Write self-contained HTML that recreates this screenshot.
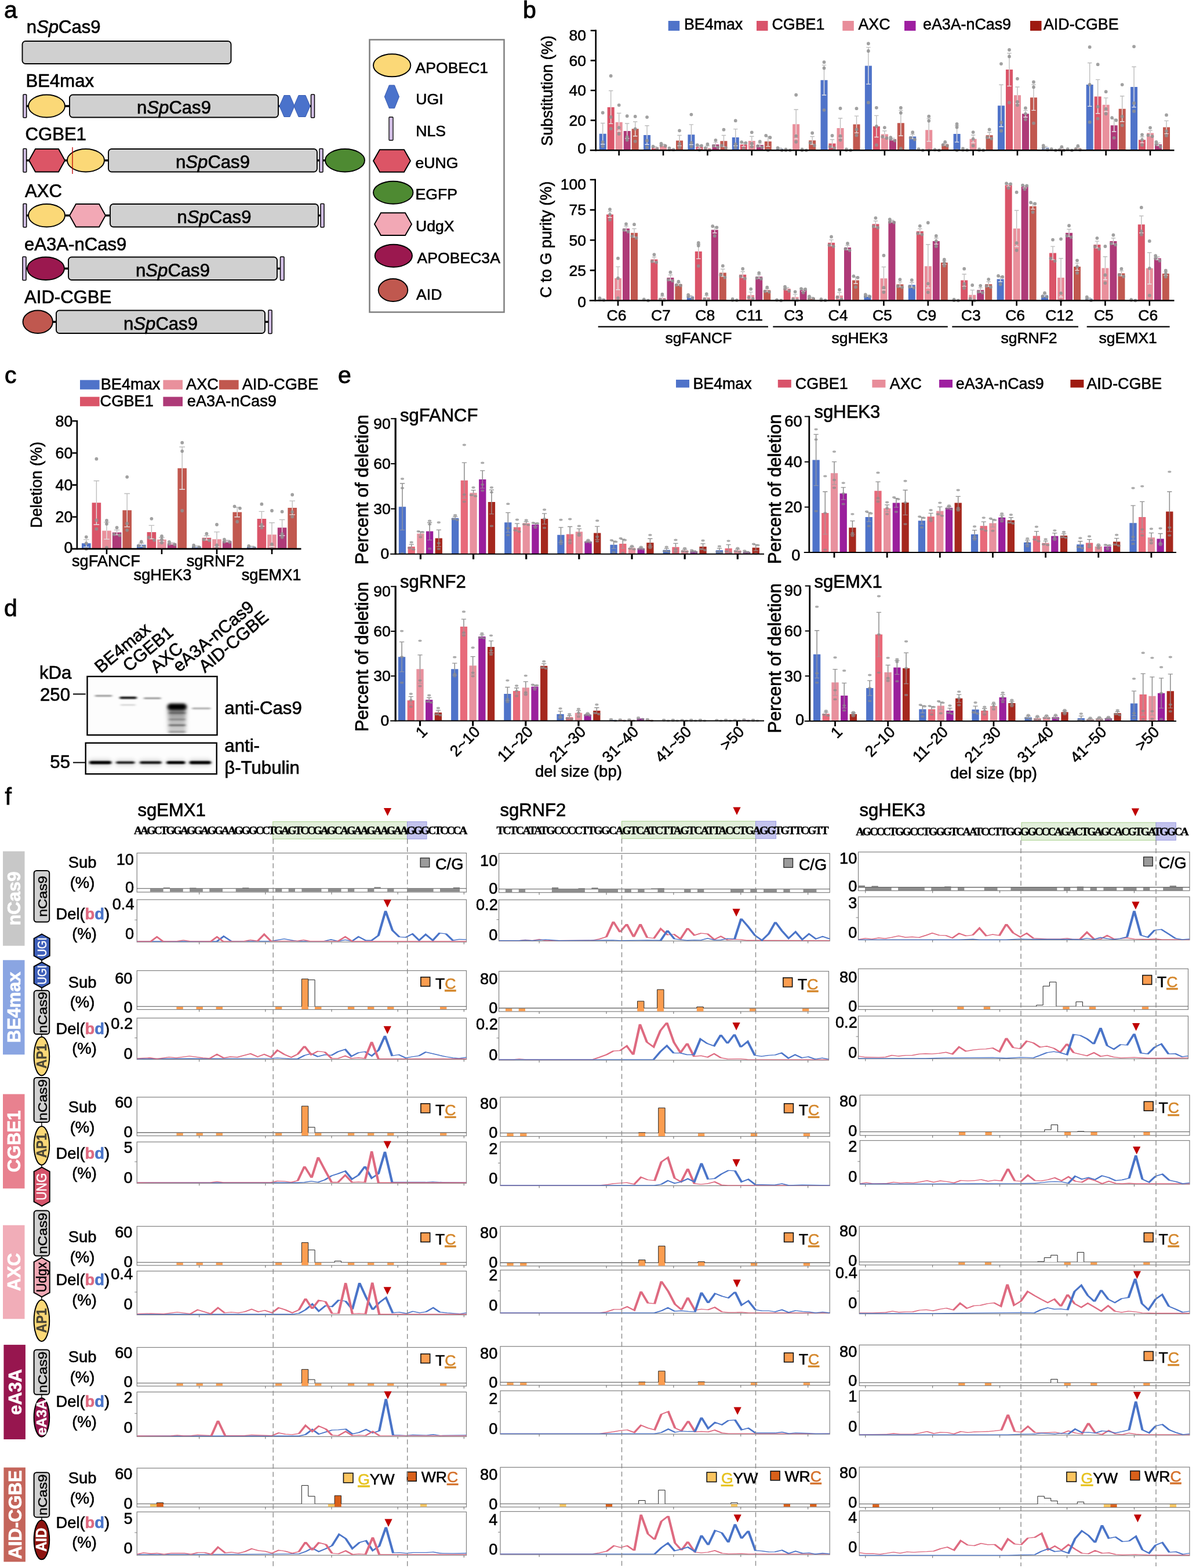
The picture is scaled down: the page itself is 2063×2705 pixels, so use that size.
<!DOCTYPE html>
<html lang="en"><head><meta charset="utf-8"><title>Figure</title>
<style>
html,body{margin:0;padding:0;background:#fff;}
body{width:2063px;height:2705px;overflow:hidden;}
svg{display:block;font-family:"Liberation Sans",Arial,Helvetica,sans-serif;}
</style></head><body>
<svg width="2063" height="2705" viewBox="0 0 2063 2705">
<defs><filter id="b1" x="-20%" y="-300%" width="140%" height="700%"><feGaussianBlur stdDeviation="2 1.2"/></filter>
<filter id="b2" x="-20%" y="-200%" width="140%" height="500%"><feGaussianBlur stdDeviation="2.6 2"/></filter>
<filter id="b3" x="-30%" y="-100%" width="160%" height="300%"><feGaussianBlur stdDeviation="3.5"/></filter>
<linearGradient id="smear" x1="0" y1="0" x2="0" y2="1"><stop offset="0" stop-color="#555" stop-opacity="0.85"/><stop offset="0.45" stop-color="#777" stop-opacity="0.5"/><stop offset="1" stop-color="#888" stop-opacity="0.35"/></linearGradient>
<clipPath id="cb1"><rect x="150.5" y="1167" width="224" height="101"/></clipPath>
<clipPath id="cb2"><rect x="147.7" y="1281.7" width="226" height="53.5"/></clipPath></defs>
<rect width="2063" height="2705" fill="#fff"/>
<text x="7" y="31.1" font-size="41" stroke="#000" stroke-width="0.9" >a</text>
<text x="45.7" y="57" font-size="31.1" stroke="#000" stroke-width="0.68" >n<tspan font-style="italic">Sp</tspan>Cas9</text>
<rect x="38.5" y="71" width="360" height="39" fill="#d0d0d0" stroke="#000" stroke-width="1.9" rx="5.5" />
<text x="44.5" y="150" font-size="31.1" stroke="#000" stroke-width="0.68" >BE4max</text>
<line x1="45" y1="183" x2="121" y2="183" stroke="#000" stroke-width="3.4" />
<line x1="480" y1="183" x2="537" y2="183" stroke="#000" stroke-width="3.4" />
<rect x="40" y="163" width="5.7" height="40" fill="#d2bfe5" stroke="#000" stroke-width="1.5" rx="1" />
<ellipse cx="80.5" cy="183" rx="31.5" ry="19.5" fill="#fbd877" stroke="#000" stroke-width="1.9"/>
<rect x="120" y="163.5" width="360" height="39" fill="#d0d0d0" stroke="#000" stroke-width="1.9" rx="5.5" />
<text x="300" y="196.2" font-size="31.1" text-anchor="middle" stroke="#000" stroke-width="0.68" >n<tspan font-style="italic">Sp</tspan>Cas9</text>
<polygon points="482,183 490,164.5 500,164.5 508,183 500,201.5 490,201.5" fill="#4a72cb" stroke="#3a5cb0" stroke-width="1" />
<polygon points="507,183 515,164.5 527,164.5 535,183 527,201.5 515,201.5" fill="#4a72cb" stroke="#3a5cb0" stroke-width="1" />
<rect x="536.5" y="163" width="6" height="40" fill="#d2bfe5" stroke="#000" stroke-width="1.5" rx="1" />
<text x="43.5" y="242" font-size="31.1" stroke="#000" stroke-width="0.68" >CGBE1</text>
<line x1="45" y1="276.75" x2="188" y2="276.75" stroke="#000" stroke-width="3.4" />
<line x1="547" y1="276.75" x2="563" y2="276.75" stroke="#000" stroke-width="3.4" />
<rect x="40" y="256.5" width="5.7" height="40.5" fill="#d2bfe5" stroke="#000" stroke-width="1.5" rx="1" />
<polygon points="50,276.75 61,257 101,257 112,276.75 101,296.5 61,296.5" fill="#dc5566" stroke="#000" stroke-width="1.9" />
<ellipse cx="148" cy="276.75" rx="32" ry="19.75" fill="#fbd877" stroke="#000" stroke-width="1.9"/>
<line x1="125" y1="254" x2="125" y2="300" stroke="#c00000" stroke-width="1.3" />
<rect x="187" y="257" width="360" height="39.5" fill="#d0d0d0" stroke="#000" stroke-width="1.9" rx="5.5" />
<text x="367" y="290.2" font-size="31.1" text-anchor="middle" stroke="#000" stroke-width="0.68" >n<tspan font-style="italic">Sp</tspan>Cas9</text>
<rect x="551" y="256.5" width="6" height="40.5" fill="#d2bfe5" stroke="#000" stroke-width="1.5" rx="1" />
<ellipse cx="595" cy="276.75" rx="34" ry="19.75" fill="#4e8a32" stroke="#000" stroke-width="1.9"/>
<text x="43" y="340" font-size="31.1" stroke="#000" stroke-width="0.68" >AXC</text>
<line x1="45" y1="371.75" x2="191" y2="371.75" stroke="#000" stroke-width="3.4" />
<line x1="549" y1="371.75" x2="555" y2="371.75" stroke="#000" stroke-width="3.4" />
<rect x="40" y="351.5" width="5.7" height="40.5" fill="#d2bfe5" stroke="#000" stroke-width="1.5" rx="1" />
<ellipse cx="80.5" cy="371.75" rx="31.5" ry="19.75" fill="#fbd877" stroke="#000" stroke-width="1.9"/>
<polygon points="120,371.75 131,352 171,352 182,371.75 171,391.5 131,391.5" fill="#f2a8b5" stroke="#000" stroke-width="1.9" />
<rect x="190" y="352" width="359" height="39.5" fill="#d0d0d0" stroke="#000" stroke-width="1.9" rx="5.5" />
<text x="369.5" y="385.2" font-size="31.1" text-anchor="middle" stroke="#000" stroke-width="0.68" >n<tspan font-style="italic">Sp</tspan>Cas9</text>
<rect x="553" y="351.5" width="6" height="40.5" fill="#d2bfe5" stroke="#000" stroke-width="1.5" rx="1" />
<text x="42" y="431.5" font-size="31.1" stroke="#000" stroke-width="0.68" >eA3A-nCas9</text>
<line x1="44" y1="463.25" x2="119" y2="463.25" stroke="#000" stroke-width="3.4" />
<line x1="478" y1="463.25" x2="485" y2="463.25" stroke="#000" stroke-width="3.4" />
<rect x="39" y="443" width="6" height="40.5" fill="#d2bfe5" stroke="#000" stroke-width="1.5" rx="1" />
<ellipse cx="79" cy="463.25" rx="32" ry="19.75" fill="#9b184f" stroke="#000" stroke-width="1.9"/>
<rect x="118" y="443.5" width="360" height="39.5" fill="#d0d0d0" stroke="#000" stroke-width="1.9" rx="5.5" />
<text x="298" y="476.7" font-size="31.1" text-anchor="middle" stroke="#000" stroke-width="0.68" >n<tspan font-style="italic">Sp</tspan>Cas9</text>
<rect x="483.5" y="443" width="6.5" height="40.5" fill="#d2bfe5" stroke="#000" stroke-width="1.5" rx="1" />
<text x="42" y="523" font-size="31.1" stroke="#000" stroke-width="0.68" >AID-CGBE</text>
<line x1="90" y1="555.25" x2="98" y2="555.25" stroke="#000" stroke-width="3.4" />
<line x1="457" y1="555.25" x2="465" y2="555.25" stroke="#000" stroke-width="3.4" />
<ellipse cx="65.25" cy="555.25" rx="25.75" ry="19.75" fill="#c0584f" stroke="#000" stroke-width="1.9"/>
<rect x="97" y="535.5" width="360" height="39.5" fill="#d0d0d0" stroke="#000" stroke-width="1.9" rx="5.5" />
<text x="277" y="568.7" font-size="31.1" text-anchor="middle" stroke="#000" stroke-width="0.68" >n<tspan font-style="italic">Sp</tspan>Cas9</text>
<rect x="463" y="535" width="6" height="40.5" fill="#d2bfe5" stroke="#000" stroke-width="1.5" rx="1" />
<rect x="637.5" y="68.5" width="232" height="470" fill="#fff" stroke="#7f7f7f" stroke-width="2.5" />
<ellipse cx="676.15" cy="112.8" rx="32.15" ry="19.5" fill="#fbd877" stroke="#000" stroke-width="1.9"/>
<text x="716.5" y="126" font-size="26.6" stroke="#000" stroke-width="0.59" >APOBEC1</text>
<polygon points="663.3,166.85 671.3,147 680.5,147 688.5,166.85 680.5,186.7 671.3,186.7" fill="#4a72cb" stroke="#3a5cb0" stroke-width="1" />
<text x="717.3" y="180" font-size="26.6" stroke="#000" stroke-width="0.59" >UGI</text>
<rect x="671" y="202" width="7" height="40" fill="#d2bfe5" stroke="#000" stroke-width="1.3" rx="1" />
<text x="717.3" y="235" font-size="26.6" stroke="#000" stroke-width="0.59" >NLS</text>
<polygon points="644,277.5 655,258.3 697,258.3 708,277.5 697,296.7 655,296.7" fill="#dc5566" stroke="#000" stroke-width="1.9" />
<text x="716.5" y="290" font-size="26.6" stroke="#000" stroke-width="0.59" >eUNG</text>
<ellipse cx="678.25" cy="332.2" rx="34.25" ry="19.5" fill="#4e8a32" stroke="#000" stroke-width="1.9"/>
<text x="716.5" y="344.3" font-size="26.6" stroke="#000" stroke-width="0.59" >EGFP</text>
<polygon points="646,386.65 657,367.3 699,367.3 710,386.65 699,406 657,406" fill="#f2a8b5" stroke="#000" stroke-width="1.9" />
<text x="717" y="399.3" font-size="26.6" stroke="#000" stroke-width="0.59" >UdgX</text>
<ellipse cx="678.85" cy="441.2" rx="32.15" ry="19.5" fill="#9b184f" stroke="#000" stroke-width="1.9"/>
<text x="719.5" y="454.3" font-size="26.6" stroke="#000" stroke-width="0.59" >APOBEC3A</text>
<ellipse cx="678" cy="500.5" rx="25.3" ry="19.5" fill="#c0584f" stroke="#000" stroke-width="1.9"/>
<text x="718" y="516.7" font-size="26.6" stroke="#000" stroke-width="0.59" >AID</text>
<text x="902" y="31" font-size="41" stroke="#000" stroke-width="0.9" >b</text>
<rect x="1152.7" y="36" width="19.5" height="17" fill="#4f73c9" />
<text x="1180" y="51.3" font-size="26.8" stroke="#000" stroke-width="0.59" >BE4max</text>
<rect x="1305" y="36" width="19.5" height="17" fill="#d9536a" />
<text x="1331.5" y="51.3" font-size="26.8" stroke="#000" stroke-width="0.59" >CGBE1</text>
<rect x="1453.3" y="36" width="19.5" height="17" fill="#e88d9a" />
<text x="1480.5" y="51.3" font-size="26.8" stroke="#000" stroke-width="0.59" >AXC</text>
<rect x="1560" y="36" width="19.5" height="17" fill="#9e1fa0" />
<text x="1592" y="51.3" font-size="26.8" stroke="#000" stroke-width="0.59" >eA3A-nCas9</text>
<rect x="1777" y="36" width="19.5" height="17" fill="#9e1a10" />
<text x="1800" y="51.3" font-size="26.8" stroke="#000" stroke-width="0.59" >AID-CGBE</text>
<path d="M1033.7 259.3v-28.67h12v28.67zM1110.06 259.3v-26.34h12v26.34zM1186.42 259.3v-27.12h12v27.12zM1262.78 259.3v-22.21h12v22.21zM1339.14 259.3v-2.58h12v2.58zM1415.5 259.3v-121.12h12v121.12zM1491.86 259.3v-145.91h12v145.91zM1568.22 259.3v-23.76h12v23.76zM1644.58 259.3v-28.41h12v28.41zM1720.94 259.3v-76.96h12v76.96zM1797.3 259.3v-4.65h12v4.65zM1873.66 259.3v-113.37h12v113.37zM1950.02 259.3v-109.24h12v109.24z" fill="#4f73c9"/>
<path d="M1047.7 259.3v-74.38h12v74.38zM1124.06 259.3v-5.17h12v5.17zM1200.42 259.3v-5.94h12v5.94zM1276.78 259.3v-10.07h12v10.07zM1353.14 259.3v-0.52h12v0.52zM1429.5 259.3v-11.88h12v11.88zM1505.86 259.3v-41.32h12v41.32zM1582.22 259.3v-1.29h12v1.29zM1658.58 259.3v-1.29h12v1.29zM1734.94 259.3v-139.2h12v139.2zM1811.3 259.3v-1.29h12v1.29zM1887.66 259.3v-92.71h12v92.71zM1964.02 259.3v-18.08h12v18.08z" fill="#da5468"/>
<path d="M1061.7 259.3v-48.55h12v48.55zM1138.06 259.3v-9.3h12v9.3zM1214.42 259.3v-3.87h12v3.87zM1290.78 259.3v-16.27h12v16.27zM1367.14 259.3v-44.94h12v44.94zM1443.5 259.3v-38.22h12v38.22zM1519.86 259.3v-27.89h12v27.89zM1596.22 259.3v-35.12h12v35.12zM1672.58 259.3v-19.63h12v19.63zM1748.94 259.3v-95.04h12v95.04zM1825.3 259.3v-2.07h12v2.07zM1901.66 259.3v-78.51h12v78.51zM1978.02 259.3v-29.7h12v29.7z" fill="#e9909c"/>
<path d="M1075.7 259.3v-33.31h12v33.31zM1152.06 259.3v-2.07h12v2.07zM1228.42 259.3v-10.07h12v10.07zM1304.78 259.3v-9.3h12v9.3zM1381.14 259.3v-0.52h12v0.52zM1457.5 259.3v-0.77h12v0.77zM1533.86 259.3v-19.37h12v19.37zM1610.22 259.3v-0.52h12v0.52zM1686.58 259.3v-0.77h12v0.77zM1762.94 259.3v-63.01h12v63.01zM1839.3 259.3v-1.29h12v1.29zM1915.66 259.3v-43.13h12v43.13zM1992.02 259.3v-10.33h12v10.33z" fill="#ae3a78"/>
<path d="M1089.7 259.3v-36.93h12v36.93zM1166.06 259.3v-16.79h12v16.79zM1242.42 259.3v-16.01h12v16.01zM1318.78 259.3v-15.24h12v15.24zM1395.14 259.3v-17.04h12v17.04zM1471.5 259.3v-44.68h12v44.68zM1547.86 259.3v-47h12v47zM1624.22 259.3v-10.59h12v10.59zM1700.58 259.3v-26.08h12v26.08zM1776.94 259.3v-91.16h12v91.16zM1853.3 259.3v-3.62h12v3.62zM1929.66 259.3v-71.54h12v71.54zM2006.02 259.3v-39.77h12v39.77z" fill="#c1584f"/>
<g fill="none" stroke="#bdbdbd"><path d="M1039.7 230.63V212.56M1053.7 184.92V156.52M1067.7 210.75V195.25M1081.7 225.99V213.07M1095.7 222.37V209.97M1116.06 232.96V216.69M1130.06 254.14V252.84M1144.06 250V248.71M1172.06 242.51V233.48M1192.42 232.18V214.88M1206.42 253.36V250.78M1220.42 255.43V251.55M1234.42 249.23V245.35M1248.42 243.29V233.48M1268.78 237.09V222.63M1282.78 249.23V245.87M1296.78 243.03V235.28M1310.78 250V246.9M1324.78 244.06V235.54M1345.14 256.72V255.43M1373.14 214.36V189.06M1401.14 242.26V235.54M1421.5 138.18V112.36M1435.5 247.42V240.71M1449.5 221.08V204.03M1477.5 214.62V200.16M1497.86 113.39V81.62M1511.86 217.98V199.39M1525.86 231.41V225.73M1539.86 239.93V238.38M1553.86 212.3V190.35M1574.22 235.54V231.67M1602.22 224.18V204.55M1630.22 248.71V246.65M1650.58 230.89V216.69M1678.58 239.67V232.96M1706.58 233.22V228.31M1726.94 182.34V146.19M1740.94 120.1V91.7M1754.94 164.26V150.06M1768.94 196.29V190.61M1782.94 168.14V145.93M1803.3 254.65V252.59M1831.3 257.23V255.17M1859.3 255.68V253.62M1879.66 145.93V108.48M1893.66 166.59V137.41M1907.66 180.79V168.91M1921.66 216.17V205.33M1935.66 187.76V165.81M1956.02 150.06V115.2M1970.02 241.22V236.06M1984.02 229.6V224.95M1998.02 248.97V246.65M2012.02 219.53V208.42" stroke-width="1.4"/><path d="M1035.98 212.56h7.44M1049.98 156.52h7.44M1063.98 195.25h7.44M1077.98 213.07h7.44M1091.98 209.97h7.44M1112.34 216.69h7.44M1126.34 252.84h7.44M1140.34 248.71h7.44M1168.34 233.48h7.44M1188.7 214.88h7.44M1202.7 250.78h7.44M1216.7 251.55h7.44M1230.7 245.35h7.44M1244.7 233.48h7.44M1265.06 222.63h7.44M1279.06 245.87h7.44M1293.06 235.28h7.44M1307.06 246.9h7.44M1321.06 235.54h7.44M1341.42 255.43h7.44M1369.42 189.06h7.44M1397.42 235.54h7.44M1417.78 112.36h7.44M1431.78 240.71h7.44M1445.78 204.03h7.44M1473.78 200.16h7.44M1494.14 81.62h7.44M1508.14 199.39h7.44M1522.14 225.73h7.44M1536.14 238.38h7.44M1550.14 190.35h7.44M1570.5 231.67h7.44M1598.5 204.55h7.44M1626.5 246.65h7.44M1646.86 216.69h7.44M1674.86 232.96h7.44M1702.86 228.31h7.44M1723.22 146.19h7.44M1737.22 91.7h7.44M1751.22 150.06h7.44M1765.22 190.61h7.44M1779.22 145.93h7.44M1799.58 252.59h7.44M1827.58 255.17h7.44M1855.58 253.62h7.44M1875.94 108.48h7.44M1889.94 137.41h7.44M1903.94 168.91h7.44M1917.94 205.33h7.44M1931.94 165.81h7.44M1952.3 115.2h7.44M1966.3 236.06h7.44M1980.3 224.95h7.44M1994.3 246.65h7.44M2008.3 208.42h7.44" stroke-width="1.4"/></g>
<g fill="none" stroke="#e4e4e4"><path d="M1039.7 230.63V248.71M1053.7 184.92V213.33M1067.7 210.75V226.24M1081.7 225.99V238.9M1095.7 222.37V234.77M1116.06 232.96V249.23M1130.06 254.14V255.43M1144.06 250V251.29M1172.06 242.51V251.55M1192.42 232.18V249.49M1206.42 253.36V255.94M1220.42 255.43V259.3M1234.42 249.23V253.1M1248.42 243.29V253.1M1268.78 237.09V251.55M1282.78 249.23V252.59M1296.78 243.03V250.78M1310.78 250V253.1M1324.78 244.06V252.59M1345.14 256.72V258.01M1373.14 214.36V239.67M1401.14 242.26V248.97M1421.5 138.18V164.01M1435.5 247.42V254.14M1449.5 221.08V238.12M1477.5 214.62V229.08M1497.86 113.39V145.15M1511.86 217.98V236.57M1525.86 231.41V237.09M1539.86 239.93V241.48M1553.86 212.3V234.25M1574.22 235.54V239.41M1602.22 224.18V243.81M1630.22 248.71V250.78M1650.58 230.89V245.1M1678.58 239.67V246.39M1706.58 233.22V238.12M1726.94 182.34V218.5M1740.94 120.1V148.51M1754.94 164.26V178.47M1768.94 196.29V201.97M1782.94 168.14V190.35M1803.3 254.65V256.72M1831.3 257.23V259.3M1859.3 255.68V257.75M1879.66 145.93V183.37M1893.66 166.59V195.77M1907.66 180.79V192.67M1921.66 216.17V227.02M1935.66 187.76V209.72M1956.02 150.06V184.92M1970.02 241.22V246.39M1984.02 229.6V234.25M1998.02 248.97V251.29M2012.02 219.53V230.63" stroke-width="1.4"/><path d="M1035.98 248.71h7.44M1049.98 213.33h7.44M1063.98 226.24h7.44M1077.98 238.9h7.44M1091.98 234.77h7.44M1112.34 249.23h7.44M1126.34 255.43h7.44M1140.34 251.29h7.44M1168.34 251.55h7.44M1188.7 249.49h7.44M1202.7 255.94h7.44M1216.7 259.3h7.44M1230.7 253.1h7.44M1244.7 253.1h7.44M1265.06 251.55h7.44M1279.06 252.59h7.44M1293.06 250.78h7.44M1307.06 253.1h7.44M1321.06 252.59h7.44M1341.42 258.01h7.44M1369.42 239.67h7.44M1397.42 248.97h7.44M1417.78 164.01h7.44M1431.78 254.14h7.44M1445.78 238.12h7.44M1473.78 229.08h7.44M1494.14 145.15h7.44M1508.14 236.57h7.44M1522.14 237.09h7.44M1536.14 241.48h7.44M1550.14 234.25h7.44M1570.5 239.41h7.44M1598.5 243.81h7.44M1626.5 250.78h7.44M1646.86 245.1h7.44M1674.86 246.39h7.44M1702.86 238.12h7.44M1723.22 218.5h7.44M1737.22 148.51h7.44M1751.22 178.47h7.44M1765.22 201.97h7.44M1779.22 190.35h7.44M1799.58 256.72h7.44M1827.58 259.3h7.44M1855.58 257.75h7.44M1875.94 183.37h7.44M1889.94 195.77h7.44M1903.94 192.67h7.44M1917.94 227.02h7.44M1931.94 209.72h7.44M1952.3 184.92h7.44M1966.3 246.39h7.44M1980.3 234.25h7.44M1994.3 251.29h7.44M2008.3 230.63h7.44" stroke-width="1.4"/></g>
<path d="M1039.7 194.48h0M1039.7 245.1h0M1039.7 252.33h0M1053.7 130.95h0M1053.7 201.97h0M1053.7 221.85h0M1067.7 181.31h0M1067.7 220.05h0M1067.7 230.89h0M1081.7 200.16h0M1081.7 236.32h0M1081.7 241.48h0M1095.7 200.93h0M1095.7 222.37h0M1095.7 243.82h0M1116.06 202.05h0M1116.06 242.72h0M1116.06 254.11h0M1133.66 256.72h0M1126.46 253.1h0M1126.46 252.59h0M1140.46 247.55h0M1140.46 250.78h0M1147.66 251.68h0M1154.46 255.68h0M1154.46 257.85h0M1161.66 258.16h0M1172.06 225.34h0M1172.06 247.94h0M1172.06 254.26h0M1192.42 197.58h0M1192.42 246.03h0M1192.42 252.95h0M1206.42 258.53h0M1210.02 251.29h0M1202.82 250.26h0M1220.42 248.72h0M1216.82 255.43h0M1224.02 259.3h0M1234.42 241.87h0M1230.82 251.55h0M1238.02 254.26h0M1248.42 223.66h0M1244.82 251.14h0M1252.02 255.06h0M1268.78 208.17h0M1268.78 248.66h0M1268.78 254.44h0M1282.78 255.94h0M1286.38 246.54h0M1279.18 245.2h0M1296.78 228.31h0M1296.78 247.68h0M1296.78 253.1h0M1310.78 244.11h0M1307.18 251.86h0M1314.38 254.03h0M1324.78 259.3h0M1328.38 237.25h0M1321.18 233.84h0M1348.74 259.3h0M1341.54 255.68h0M1341.54 255.17h0M1355.54 257.58h0M1355.54 259.26h0M1362.74 259.3h0M1373.14 163.75h0M1373.14 234.61h0M1373.14 244.73h0M1383.54 257.58h0M1383.54 259.26h0M1390.74 259.3h0M1401.14 229.5h0M1397.54 246.28h0M1404.74 250.98h0M1421.5 189.83h0M1421.5 117.52h0M1421.5 107.19h0M1435.5 233.99h0M1431.9 252.79h0M1439.1 255.48h0M1449.5 186.99h0M1449.5 234.71h0M1449.5 241.53h0M1459.9 257.33h0M1459.9 259.01h0M1467.1 259.25h0M1477.5 187.14h0M1477.5 223.3h0M1477.5 233.42h0M1497.86 176.92h0M1497.86 87.98h0M1497.86 75.27h0M1511.86 185.81h0M1511.86 217.98h0M1511.86 250.15h0M1525.86 220.05h0M1522.26 235.95h0M1529.46 238.23h0M1536.26 237.25h0M1536.26 239.93h0M1543.46 242.61h0M1553.86 256.2h0M1553.86 194.74h0M1553.86 185.96h0M1574.22 228.18h0M1570.62 237.87h0M1577.82 240.58h0M1591.82 259.3h0M1584.62 257.39h0M1584.62 257.08h0M1602.22 259.3h0M1602.22 208.48h0M1602.22 200.63h0M1619.82 259.3h0M1612.62 258.3h0M1612.62 258.06h0M1630.22 244.79h0M1626.62 249.95h0M1633.82 251.4h0M1650.58 259.3h0M1650.58 219.53h0M1650.58 213.85h0M1660.98 256.46h0M1660.98 258.63h0M1668.18 258.94h0M1678.58 228.06h0M1678.58 239.67h0M1678.58 251.29h0M1688.98 257.33h0M1688.98 259.01h0M1696.18 259.25h0M1706.58 223.4h0M1702.98 237.14h0M1710.18 239.1h0M1726.94 110.03h0M1726.94 211.27h0M1726.94 225.73h0M1740.94 176.92h0M1740.94 97.38h0M1740.94 86.01h0M1754.94 135.86h0M1754.94 175.63h0M1754.94 181.31h0M1768.94 186.46h0M1768.94 196.29h0M1768.94 206.12h0M1782.94 212.56h0M1782.94 150.37h0M1782.94 141.49h0M1799.7 251.08h0M1799.7 254.65h0M1806.9 258.23h0M1820.9 259.3h0M1813.7 257.39h0M1813.7 257.08h0M1831.3 253.31h0M1827.7 258.47h0M1834.9 259.3h0M1848.9 259.3h0M1841.7 257.39h0M1841.7 257.08h0M1859.3 251.76h0M1855.7 256.92h0M1862.9 258.37h0M1879.66 81.15h0M1879.66 145.93h0M1879.66 210.71h0M1893.66 111.14h0M1893.66 184.1h0M1893.66 204.53h0M1907.66 158.22h0M1907.66 187.92h0M1907.66 196.24h0M1921.66 237.87h0M1925.26 207.5h0M1918.06 203.16h0M1935.66 146.06h0M1935.66 200.94h0M1935.66 216.3h0M1956.02 80.33h0M1956.02 177.95h0M1956.02 191.9h0M1970.02 232.29h0M1970.02 241.22h0M1970.02 250.16h0M1984.02 220.3h0M1980.42 233.32h0M1987.62 235.18h0M1994.42 244.95h0M1994.42 248.97h0M2001.62 252.99h0M2012.02 198.43h0M2012.02 226.19h0M2012.02 233.97h0" stroke="#909090" stroke-opacity="0.85" stroke-width="5.8" stroke-linecap="round" fill="none"/>
<line x1="1027.7" y1="51.4" x2="1027.7" y2="260.6" stroke="#000" stroke-width="2.6" />
<line x1="1017.7" y1="259.3" x2="2025.5" y2="259.3" stroke="#000" stroke-width="2.6" />
<text x="1011" y="265.1" font-size="26.5" text-anchor="end" stroke="#000" stroke-width="0.58" >0</text>
<text x="1011" y="216.95" font-size="26.5" text-anchor="end" stroke="#000" stroke-width="0.58" >20</text>
<text x="1011" y="165.3" font-size="26.5" text-anchor="end" stroke="#000" stroke-width="0.58" >40</text>
<text x="1011" y="113.65" font-size="26.5" text-anchor="end" stroke="#000" stroke-width="0.58" >60</text>
<text x="1011" y="69.7" font-size="26.5" text-anchor="end" stroke="#000" stroke-width="0.58" >80</text>
<path d="M1018.7 207.65H1027.7M1018.7 156H1027.7M1018.7 104.35H1027.7M1018.7 52.7H1027.7" stroke="#000" stroke-width="2.6" fill="none"/>
<path d="M1067.7 259.3v9M1144.06 259.3v9M1220.42 259.3v9M1296.78 259.3v9M1373.14 259.3v9M1449.5 259.3v9M1525.86 259.3v9M1602.22 259.3v9M1678.58 259.3v9M1754.94 259.3v9M1831.3 259.3v9M1907.66 259.3v9M1984.02 259.3v9" stroke="#000" stroke-width="2.6" fill="none"/>
<text x="952.5" y="156.5" font-size="27" text-anchor="middle" transform="rotate(-90 952.5 156.5)" stroke="#000" stroke-width="0.59" >Substitution (%)</text>
<path d="M1032 518.5v-2.08h12v2.08zM1108.4 518.5v-1.25h12v1.25zM1184.8 518.5v-6.88h12v6.88zM1261.2 518.5v-1.25h12v1.25zM1337.6 518.5v-0.42h12v0.42zM1414 518.5v-1.04h12v1.04zM1490.4 518.5v-8.34h12v8.34zM1566.8 518.5v-27.11h12v27.11zM1643.2 518.5v-0.63h12v0.63zM1719.6 518.5v-37.11h12v37.11zM1796 518.5v-8.97h12v8.97zM1872.4 518.5v-3.13h12v3.13zM1948.8 518.5v-0.63h12v0.63z" fill="#4f73c9"/>
<path d="M1046 518.5v-148.45h12v148.45zM1122.4 518.5v-70.89h12v70.89zM1198.8 518.5v-84.65h12v84.65zM1275.2 518.5v-44.83h12v44.83zM1351.6 518.5v-20.22h12v20.22zM1428 518.5v-99.66h12v99.66zM1504.4 518.5v-131.98h12v131.98zM1580.8 518.5v-119.47h12v119.47zM1657.2 518.5v-35.03h12v35.03zM1733.6 518.5v-199.12h12v199.12zM1810 518.5v-81.94h12v81.94zM1886.4 518.5v-96.54h12v96.54zM1962.8 518.5v-131.35h12v131.35z" fill="#da5468"/>
<path d="M1060 518.5v-38.57h12v38.57zM1136.4 518.5v-4.59h12v4.59zM1212.8 518.5v-5.21h12v5.21zM1289.2 518.5v-9.38h12v9.38zM1365.6 518.5v-6.05h12v6.05zM1442 518.5v-8.76h12v8.76zM1518.4 518.5v-38.16h12v38.16zM1594.8 518.5v-59.21h12v59.21zM1671.2 518.5v-9.8h12v9.8zM1747.6 518.5v-124.27h12v124.27zM1824 518.5v-39.41h12v39.41zM1900.4 518.5v-55.88h12v55.88zM1976.8 518.5v-55.67h12v55.67z" fill="#e9909c"/>
<path d="M1074 518.5v-124.27h12v124.27zM1150.4 518.5v-39.62h12v39.62zM1226.8 518.5v-121.97h12v121.97zM1303.2 518.5v-41.28h12v41.28zM1379.6 518.5v-17.93h12v17.93zM1456 518.5v-91.53h12v91.53zM1532.4 518.5v-136.78h12v136.78zM1608.8 518.5v-102.58h12v102.58zM1685.2 518.5v-18.14h12v18.14zM1761.6 518.5v-196.41h12v196.41zM1838 518.5v-116.76h12v116.76zM1914.4 518.5v-102.58h12v102.58zM1990.8 518.5v-72.97h12v72.97z" fill="#ae3a78"/>
<path d="M1088 518.5v-116.76h12v116.76zM1164.4 518.5v-28.56h12v28.56zM1240.8 518.5v-47.95h12v47.95zM1317.2 518.5v-17.93h12v17.93zM1393.6 518.5v-4.59h12v4.59zM1470 518.5v-35.03h12v35.03zM1546.4 518.5v-27.94h12v27.94zM1622.8 518.5v-65.47h12v65.47zM1699.2 518.5v-28.36h12v28.36zM1775.6 518.5v-162.84h12v162.84zM1852 518.5v-58.38h12v58.38zM1928.4 518.5v-46.91h12v46.91zM2004.8 518.5v-46.5h12v46.5z" fill="#c1584f"/>
<g fill="none" stroke="#bdbdbd"><path d="M1038 516.41V515.37M1052 370.05V364.84M1066 479.93V460.12M1080 394.23V390.06M1094 401.74V394.44M1128.4 447.61V443.44M1142.4 513.91V510.79M1156.4 478.88V474.3M1170.4 489.94V487.85M1190.8 511.62V509.95M1204.8 433.85V421.34M1218.8 513.29V510.16M1232.8 396.53V391.31M1246.8 470.55V464.29M1281.2 473.67V468.46M1295.2 509.12V503.9M1309.2 477.22V474.09M1323.2 500.57V498.07M1357.6 498.28V496.19M1371.6 512.45V507.87M1385.6 500.57V498.48M1399.6 513.91V512.66M1434 418.84V413.62M1448 509.74V504.53M1462 426.97V423.22M1476 483.47V477.63M1496.4 510.16V509.12M1510.4 386.52V381.31M1524.4 480.34V460.54M1538.4 381.72V380.06M1552.4 490.56V486.39M1572.8 491.39V487.23M1586.8 399.03V394.44M1600.8 459.29V421.76M1614.8 415.92V410.71M1628.8 453.03V449.9M1663.2 483.47V473.05M1677.2 508.7V500.36M1691.2 500.36V496.61M1705.2 490.14V485.97M1725.6 481.39V476.8M1739.6 319.38V316.88M1753.6 394.23V362.96M1767.6 322.09V320.01M1781.6 355.66V350.45M1802 509.53V507.45M1816 436.56V425.09M1830 479.09V445.73M1844 401.74V395.49M1858 460.12V453.87M1878.4 515.37V513.7M1892.4 421.96V416.13M1906.4 462.62V442.81M1920.4 415.92V410.71M1934.4 471.59V467.42M1968.8 387.14V372.55M1982.8 462.83V435.73M1996.8 445.52V443.02M2010.8 472V468.88" stroke-width="1.4"/><path d="M1034.28 515.37h7.44M1048.28 364.84h7.44M1062.28 460.12h7.44M1076.28 390.06h7.44M1090.28 394.44h7.44M1124.68 443.44h7.44M1138.68 510.79h7.44M1152.68 474.3h7.44M1166.68 487.85h7.44M1187.08 509.95h7.44M1201.08 421.34h7.44M1215.08 510.16h7.44M1229.08 391.31h7.44M1243.08 464.29h7.44M1277.48 468.46h7.44M1291.48 503.9h7.44M1305.48 474.09h7.44M1319.48 498.07h7.44M1353.88 496.19h7.44M1367.88 507.87h7.44M1381.88 498.48h7.44M1395.88 512.66h7.44M1430.28 413.62h7.44M1444.28 504.53h7.44M1458.28 423.22h7.44M1472.28 477.63h7.44M1492.68 509.12h7.44M1506.68 381.31h7.44M1520.68 460.54h7.44M1534.68 380.06h7.44M1548.68 486.39h7.44M1569.08 487.23h7.44M1583.08 394.44h7.44M1597.08 421.76h7.44M1611.08 410.71h7.44M1625.08 449.9h7.44M1659.48 473.05h7.44M1673.48 500.36h7.44M1687.48 496.61h7.44M1701.48 485.97h7.44M1721.88 476.8h7.44M1735.88 316.88h7.44M1749.88 362.96h7.44M1763.88 320.01h7.44M1777.88 350.45h7.44M1798.28 507.45h7.44M1812.28 425.09h7.44M1826.28 445.73h7.44M1840.28 395.49h7.44M1854.28 453.87h7.44M1874.68 513.7h7.44M1888.68 416.13h7.44M1902.68 442.81h7.44M1916.68 410.71h7.44M1930.68 467.42h7.44M1965.08 372.55h7.44M1979.08 435.73h7.44M1993.08 443.02h7.44M2007.08 468.88h7.44" stroke-width="1.4"/></g>
<g fill="none" stroke="#e4e4e4"><path d="M1038 516.41V517.46M1052 370.05V375.26M1066 479.93V499.74M1080 394.23V398.4M1094 401.74V409.04M1128.4 447.61V451.78M1142.4 513.91V517.04M1156.4 478.88V483.47M1170.4 489.94V492.02M1190.8 511.62V513.29M1204.8 433.85V446.36M1218.8 513.29V516.41M1232.8 396.53V401.74M1246.8 470.55V476.8M1281.2 473.67V478.88M1295.2 509.12V514.33M1309.2 477.22V480.34M1323.2 500.57V503.07M1357.6 498.28V500.36M1371.6 512.45V517.04M1385.6 500.57V502.65M1399.6 513.91V515.16M1434 418.84V424.05M1448 509.74V514.96M1462 426.97V430.72M1476 483.47V489.31M1496.4 510.16V511.2M1510.4 386.52V391.73M1524.4 480.34V500.15M1538.4 381.72V383.39M1552.4 490.56V494.73M1572.8 491.39V495.56M1586.8 399.03V403.62M1600.8 459.29V496.82M1614.8 415.92V421.13M1628.8 453.03V456.16M1663.2 483.47V493.9M1677.2 508.7V517.04M1691.2 500.36V504.11M1705.2 490.14V494.31M1725.6 481.39V485.97M1739.6 319.38V321.88M1753.6 394.23V425.51M1767.6 322.09V324.18M1781.6 355.66V360.87M1802 509.53V511.62M1816 436.56V448.03M1830 479.09V512.45M1844 401.74V408M1858 460.12V466.38M1878.4 515.37V517.04M1892.4 421.96V427.8M1906.4 462.62V482.43M1920.4 415.92V421.13M1934.4 471.59V475.76M1968.8 387.14V401.74M1982.8 462.83V489.94M1996.8 445.52V448.03M2010.8 472V475.13" stroke-width="1.4"/><path d="M1034.28 517.46h7.44M1048.28 375.26h7.44M1062.28 499.74h7.44M1076.28 398.4h7.44M1090.28 409.04h7.44M1124.68 451.78h7.44M1138.68 517.04h7.44M1152.68 483.47h7.44M1166.68 492.02h7.44M1187.08 513.29h7.44M1201.08 446.36h7.44M1215.08 516.41h7.44M1229.08 401.74h7.44M1243.08 476.8h7.44M1277.48 478.88h7.44M1291.48 514.33h7.44M1305.48 480.34h7.44M1319.48 503.07h7.44M1353.88 500.36h7.44M1367.88 517.04h7.44M1381.88 502.65h7.44M1395.88 515.16h7.44M1430.28 424.05h7.44M1444.28 514.96h7.44M1458.28 430.72h7.44M1472.28 489.31h7.44M1492.68 511.2h7.44M1506.68 391.73h7.44M1520.68 500.15h7.44M1534.68 383.39h7.44M1548.68 494.73h7.44M1569.08 495.56h7.44M1583.08 403.62h7.44M1597.08 496.82h7.44M1611.08 421.13h7.44M1625.08 456.16h7.44M1659.48 493.9h7.44M1673.48 517.04h7.44M1687.48 504.11h7.44M1701.48 494.31h7.44M1721.88 485.97h7.44M1735.88 321.88h7.44M1749.88 425.51h7.44M1763.88 324.18h7.44M1777.88 360.87h7.44M1798.28 511.62h7.44M1812.28 448.03h7.44M1826.28 512.45h7.44M1840.28 408h7.44M1854.28 466.38h7.44M1874.68 517.04h7.44M1888.68 427.8h7.44M1902.68 482.43h7.44M1916.68 421.13h7.44M1930.68 475.76h7.44M1965.08 401.74h7.44M1979.08 489.94h7.44M1993.08 448.03h7.44M2007.08 475.13h7.44" stroke-width="1.4"/></g>
<path d="M1034.4 514.43h0M1034.4 517.04h0M1041.6 517.77h0M1052 361.03h0M1052 370.05h0M1052 379.07h0M1066 445.66h0M1066 479.93h0M1066 514.19h0M1080 386.31h0M1076.4 396.74h0M1083.6 399.65h0M1094 387.14h0M1090.4 407.58h0M1097.6 410.5h0M1118 518.5h0M1110.8 516.75h0M1110.8 516.5h0M1128.4 439.27h0M1124.8 450.95h0M1132 452.61h0M1142.4 507.66h0M1138.8 516.41h0M1146 517.67h0M1156.4 469.71h0M1152.8 482.55h0M1160 484.39h0M1170.4 485.77h0M1166.8 491.6h0M1174 492.44h0M1187.2 508.73h0M1187.2 511.62h0M1194.4 514.51h0M1204.8 458.87h0M1204.8 423.84h0M1204.8 418.84h0M1218.8 507.03h0M1215.2 515.79h0M1222.4 517.04h0M1232.8 406.95h0M1236.4 392.36h0M1229.2 390.27h0M1246.8 458.66h0M1243.2 474.3h0M1250.4 478.68h0M1263.6 516h0M1263.6 517.75h0M1270.8 518h0M1281.2 463.77h0M1277.6 476.8h0M1284.8 480.45h0M1295.2 498.69h0M1291.6 513.29h0M1298.8 515.37h0M1309.2 470.96h0M1305.6 479.72h0M1312.8 480.97h0M1323.2 495.56h0M1319.6 502.57h0M1326.8 503.57h0M1347.2 518.5h0M1340 517.6h0M1340 517.36h0M1354 494.67h0M1354 498.28h0M1361.2 501.88h0M1371.6 503.28h0M1368 516.12h0M1375.2 517.96h0M1385.6 504.74h0M1389.2 498.9h0M1382 498.07h0M1396 511.41h0M1396 514.91h0M1403.2 515.41h0M1416.4 516.21h0M1416.4 517.96h0M1423.6 518.21h0M1434 408.41h0M1430.4 423.01h0M1437.6 425.09h0M1448 499.84h0M1444.4 512.87h0M1451.6 516.52h0M1462 419.84h0M1458.4 429.22h0M1465.6 431.85h0M1476 495.15h0M1479.6 478.8h0M1472.4 476.47h0M1492.8 508.07h0M1492.8 510.99h0M1500 511.41h0M1510.4 376.09h0M1506.8 390.69h0M1514 392.77h0M1524.4 440.73h0M1524.4 496.19h0M1524.4 504.11h0M1534.8 378.39h0M1534.8 383.06h0M1542 383.73h0M1552.4 482.22h0M1548.8 493.9h0M1556 495.56h0M1572.8 483.06h0M1569.2 494.73h0M1576.4 496.4h0M1586.8 389.86h0M1583.2 402.7h0M1590.4 404.53h0M1600.8 384.23h0M1600.8 489.31h0M1600.8 504.32h0M1614.8 406.9h0M1614.8 415.92h0M1614.8 424.94h0M1628.8 447.62h0M1628.8 453.03h0M1628.8 458.44h0M1645.6 516.67h0M1645.6 518.35h0M1652.8 518.5h0M1663.2 463.66h0M1663.2 489.73h0M1663.2 497.02h0M1677.2 492.02h0M1673.6 515.37h0M1680.8 518.5h0M1691.2 492.85h0M1687.6 503.36h0M1694.8 504.86h0M1705.2 481.8h0M1701.6 493.48h0M1708.8 495.15h0M1725.6 490.56h0M1729.2 477.72h0M1722 475.88h0M1739.6 324.39h0M1743.2 317.38h0M1736 316.38h0M1753.6 331.68h0M1753.6 419.25h0M1753.6 431.76h0M1767.6 326.26h0M1771.2 320.43h0M1764 319.59h0M1781.6 366.09h0M1785.2 351.49h0M1778 349.41h0M1802 505.36h0M1798.4 511.2h0M1805.6 512.04h0M1816 413.62h0M1812.4 445.73h0M1819.6 450.32h0M1830 412.37h0M1830 505.78h0M1830 518.5h0M1844 389.23h0M1840.4 406.74h0M1847.6 409.25h0M1858 449.3h0M1858 460.12h0M1858 470.94h0M1874.8 512.49h0M1874.8 515.37h0M1882 518.26h0M1892.4 410.87h0M1888.8 425.47h0M1896 429.55h0M1906.4 424.99h0M1906.4 474.51h0M1906.4 488.37h0M1920.4 405.49h0M1916.8 420.09h0M1924 422.17h0M1934.4 463.66h0M1930.8 474.09h0M1938 477.01h0M1951.2 516.84h0M1951.2 517.87h0M1958.4 518.5h0M1968.8 357.96h0M1968.8 398.82h0M1968.8 404.66h0M1982.8 415.94h0M1982.8 462.83h0M1982.8 509.72h0M1993.2 441.2h0M1993.2 445.52h0M2000.4 449.85h0M2010.8 466.59h0M2010.8 472h0M2010.8 477.42h0" stroke="#909090" stroke-opacity="0.85" stroke-width="5.8" stroke-linecap="round" fill="none"/>
<line x1="1026.7" y1="308.7" x2="1026.7" y2="519.8" stroke="#000" stroke-width="2.6" />
<line x1="1016.7" y1="518.5" x2="2025.5" y2="518.5" stroke="#000" stroke-width="2.6" />
<text x="1011" y="529.8" font-size="26.5" text-anchor="end" stroke="#000" stroke-width="0.58" >0</text>
<text x="1011" y="475.68" font-size="26.5" text-anchor="end" stroke="#000" stroke-width="0.58" >25</text>
<text x="1011" y="423.55" font-size="26.5" text-anchor="end" stroke="#000" stroke-width="0.58" >50</text>
<text x="1011" y="371.43" font-size="26.5" text-anchor="end" stroke="#000" stroke-width="0.58" >75</text>
<text x="1011" y="327" font-size="26.5" text-anchor="end" stroke="#000" stroke-width="0.58" >100</text>
<path d="M1017.7 466.38H1026.7M1017.7 414.25H1026.7M1017.7 362.12H1026.7M1017.7 310H1026.7" stroke="#000" stroke-width="2.6" fill="none"/>
<path d="M1066 518.5v9M1142.4 518.5v9M1218.8 518.5v9M1295.2 518.5v9M1371.6 518.5v9M1448 518.5v9M1524.4 518.5v9M1600.8 518.5v9M1677.2 518.5v9M1753.6 518.5v9M1830 518.5v9M1906.4 518.5v9M1982.8 518.5v9" stroke="#000" stroke-width="2.6" fill="none"/>
<text x="951.5" y="413.3" font-size="27" text-anchor="middle" transform="rotate(-90 951.5 413.3)" stroke="#000" stroke-width="0.59" >C to G purity (%)</text>
<text x="1063.5" y="553.3" font-size="26.5" text-anchor="middle" stroke="#000" stroke-width="0.58" >C6</text>
<text x="1139.9" y="553.3" font-size="26.5" text-anchor="middle" stroke="#000" stroke-width="0.58" >C7</text>
<text x="1216.3" y="553.3" font-size="26.5" text-anchor="middle" stroke="#000" stroke-width="0.58" >C8</text>
<text x="1292.7" y="553.3" font-size="26.5" text-anchor="middle" stroke="#000" stroke-width="0.58" >C11</text>
<text x="1369.1" y="553.3" font-size="26.5" text-anchor="middle" stroke="#000" stroke-width="0.58" >C3</text>
<text x="1445.5" y="553.3" font-size="26.5" text-anchor="middle" stroke="#000" stroke-width="0.58" >C4</text>
<text x="1521.9" y="553.3" font-size="26.5" text-anchor="middle" stroke="#000" stroke-width="0.58" >C5</text>
<text x="1598.3" y="553.3" font-size="26.5" text-anchor="middle" stroke="#000" stroke-width="0.58" >C9</text>
<text x="1674.7" y="553.3" font-size="26.5" text-anchor="middle" stroke="#000" stroke-width="0.58" >C3</text>
<text x="1751.1" y="553.3" font-size="26.5" text-anchor="middle" stroke="#000" stroke-width="0.58" >C6</text>
<text x="1827.5" y="553.3" font-size="26.5" text-anchor="middle" stroke="#000" stroke-width="0.58" >C12</text>
<text x="1903.9" y="553.3" font-size="26.5" text-anchor="middle" stroke="#000" stroke-width="0.58" >C5</text>
<text x="1980.3" y="553.3" font-size="26.5" text-anchor="middle" stroke="#000" stroke-width="0.58" >C6</text>
<line x1="1031.7" y1="563.7" x2="1325" y2="563.7" stroke="#000" stroke-width="2.2" />
<line x1="1333.3" y1="563.7" x2="1634.8" y2="563.7" stroke="#000" stroke-width="2.2" />
<line x1="1642.3" y1="563.7" x2="1860" y2="563.7" stroke="#000" stroke-width="2.2" />
<line x1="1874.7" y1="563.7" x2="2017.6" y2="563.7" stroke="#000" stroke-width="2.2" />
<text x="1205" y="592" font-size="26.5" text-anchor="middle" stroke="#000" stroke-width="0.58" >sgFANCF</text>
<text x="1483" y="592" font-size="26.5" text-anchor="middle" stroke="#000" stroke-width="0.58" >sgHEK3</text>
<text x="1775" y="592" font-size="26.5" text-anchor="middle" stroke="#000" stroke-width="0.58" >sgRNF2</text>
<text x="1945.6" y="592" font-size="26.5" text-anchor="middle" stroke="#000" stroke-width="0.58" >sgEMX1</text>
<text x="8" y="660.7" font-size="41" stroke="#000" stroke-width="0.9" >c</text>
<rect x="138" y="655.6" width="33.6" height="16.2" fill="#4f73c9" />
<text x="173.7" y="671.8" font-size="27.2" stroke="#000" stroke-width="0.6" >BE4max</text>
<rect x="281.4" y="655.6" width="33.6" height="16.2" fill="#e9909c" />
<text x="321" y="671.8" font-size="27.2" stroke="#000" stroke-width="0.6" >AXC</text>
<rect x="378" y="655.6" width="33.6" height="16.2" fill="#c1584f" />
<text x="417.7" y="671.8" font-size="27.2" stroke="#000" stroke-width="0.6" >AID-CGBE</text>
<rect x="138" y="684.6" width="33.6" height="16.2" fill="#da5468" />
<text x="172.6" y="700.8" font-size="27.2" stroke="#000" stroke-width="0.6" >CGBE1</text>
<rect x="281.4" y="684.6" width="33.6" height="16.2" fill="#ae3a78" />
<text x="322.8" y="700.8" font-size="27.2" stroke="#000" stroke-width="0.6" >eA3A-nCas9</text>
<path d="M141 946.9v-9.65h15.6v9.65zM236 946.9v-7.17h15.6v7.17zM331 946.9v-4.14h15.6v4.14zM426 946.9v-3.58h15.6v3.58z" fill="#4f73c9"/>
<path d="M158.6 946.9v-79.69h15.6v79.69zM253.6 946.9v-28.95h15.6v28.95zM348.6 946.9v-19.03h15.6v19.03zM443.6 946.9v-51.84h15.6v51.84z" fill="#da5468"/>
<path d="M176.2 946.9v-31.44h15.6v31.44zM271.2 946.9v-16.27h15.6v16.27zM366.2 946.9v-16.55h15.6v16.55zM461.2 946.9v-24.54h15.6v24.54z" fill="#e9909c"/>
<path d="M193.8 946.9v-28.4h15.6v28.4zM288.8 946.9v-9.38h15.6v9.38zM383.8 946.9v-13.51h15.6v13.51zM478.8 946.9v-36.67h15.6v36.67z" fill="#ae3a78"/>
<path d="M211.4 946.9v-66.73h15.6v66.73zM306.4 946.9v-139.25h15.6v139.25zM401.4 946.9v-63.42h15.6v63.42zM496.4 946.9v-70.87h15.6v70.87z" fill="#c1584f"/>
<g fill="none" stroke="#bdbdbd"><path d="M148.8 937.25V930.91M166.4 867.21V829.43M184 915.46V900.85M201.6 918.5V914.36M219.2 880.17V851.49M243.8 939.73V936.97M261.4 917.95V906.36M279 930.63V927.32M296.6 937.52V936.15M314.2 807.65V770.97M338.8 942.76V941.66M356.4 927.87V924.29M374 930.36V917.67M391.6 933.39V932.01M409.2 883.48V875.2M433.8 943.32V942.21M451.4 895.06V882.37M469 922.36V901.68M486.6 910.23V896.44M504.2 876.03V864.17" stroke-width="1.4"/><path d="M143.96 930.91h9.67M161.56 829.43h9.67M179.16 900.85h9.67M196.76 914.36h9.67M214.36 851.49h9.67M238.96 936.97h9.67M256.56 906.36h9.67M274.16 927.32h9.67M291.76 936.15h9.67M309.36 770.97h9.67M333.96 941.66h9.67M351.56 924.29h9.67M369.16 917.67h9.67M386.76 932.01h9.67M404.36 875.2h9.67M428.96 942.21h9.67M446.56 882.37h9.67M464.16 901.68h9.67M481.76 896.44h9.67M499.36 864.17h9.67" stroke-width="1.4"/></g>
<g fill="none" stroke="#e4e4e4"><path d="M148.8 937.25V943.59M166.4 867.21V904.99M184 915.46V930.08M201.6 918.5V922.63M219.2 880.17V908.85M243.8 939.73V942.49M261.4 917.95V929.53M279 930.63V933.94M296.6 937.52V938.9M314.2 807.65V844.32M338.8 942.76V943.87M356.4 927.87V931.46M374 930.36V943.04M391.6 933.39V934.77M409.2 883.48V891.75M433.8 943.32V944.42M451.4 895.06V907.74M469 922.36V943.04M486.6 910.23V924.01M504.2 876.03V887.89" stroke-width="1.4"/><path d="M143.96 943.59h9.67M161.56 904.99h9.67M179.16 930.08h9.67M196.76 922.63h9.67M214.36 908.85h9.67M238.96 942.49h9.67M256.56 929.53h9.67M274.16 933.94h9.67M291.76 938.9h9.67M309.36 844.32h9.67M333.96 943.87h9.67M351.56 931.46h9.67M369.16 943.04h9.67M386.76 934.77h9.67M404.36 891.75h9.67M428.96 944.42h9.67M446.56 907.74h9.67M464.16 943.04h9.67M481.76 924.01h9.67M499.36 887.89h9.67" stroke-width="1.4"/></g>
<path d="M148.8 926.28h0M148.8 937.25h0M148.8 946.9h0M166.4 791.65h0M166.4 897.43h0M166.4 912.54h0M184 944.69h0M184 903.77h0M184 897.93h0M201.6 910.23h0M196.92 921.81h0M206.28 923.46h0M219.2 822.81h0M219.2 903.11h0M219.2 914.58h0M243.8 934.49h0M239.12 941.38h0M248.48 943.32h0M261.4 894.78h0M256.72 927.21h0M266.08 931.84h0M279 924.91h0M279 930.63h0M279 936.36h0M291.92 934.9h0M291.92 938.35h0M301.28 939.32h0M314.2 881h0M314.2 778.31h0M314.2 763.64h0M334.12 940.67h0M334.12 943.43h0M343.48 944.2h0M356.4 920.7h0M351.72 930.74h0M361.08 932.17h0M374 904.99h0M374 940.5h0M374 945.58h0M386.92 930.63h0M386.92 934.49h0M396.28 935.04h0M409.2 900.02h0M413.88 876.86h0M404.52 873.55h0M438.48 945.52h0M429.12 942.43h0M429.12 941.99h0M451.4 869.69h0M451.4 905.21h0M451.4 910.28h0M469 881h0M469 938.9h0M469 946.9h0M486.6 882.65h0M486.6 921.26h0M486.6 926.77h0M504.2 853.5h0M504.2 883.15h0M504.2 891.45h0" stroke="#909090" stroke-opacity="0.85" stroke-width="5.8" stroke-linecap="round" fill="none"/>
<line x1="132.9" y1="725" x2="132.9" y2="948.2" stroke="#000" stroke-width="2.6" />
<line x1="123.9" y1="946.9" x2="519.5" y2="946.9" stroke="#000" stroke-width="2.6" />
<text x="125.3" y="954.2" font-size="26.8" text-anchor="end" stroke="#000" stroke-width="0.59" >0</text>
<text x="125.3" y="901.05" font-size="26.8" text-anchor="end" stroke="#000" stroke-width="0.59" >20</text>
<text x="125.3" y="845.9" font-size="26.8" text-anchor="end" stroke="#000" stroke-width="0.59" >40</text>
<text x="125.3" y="790.75" font-size="26.8" text-anchor="end" stroke="#000" stroke-width="0.59" >60</text>
<text x="125.3" y="735.6" font-size="26.8" text-anchor="end" stroke="#000" stroke-width="0.59" >80</text>
<path d="M124.9 891.75H132.9M124.9 836.6H132.9M124.9 781.45H132.9M124.9 726.3H132.9" stroke="#000" stroke-width="2.6" fill="none"/>
<path d="M184 946.9v9M279 946.9v9M374 946.9v9M469 946.9v9" stroke="#000" stroke-width="2.6" fill="none"/>
<text x="72" y="836.4" font-size="27" text-anchor="middle" transform="rotate(-90 72 836.4)" stroke="#000" stroke-width="0.59" >Deletion (%)</text>
<text x="124" y="977.3" font-size="27.2" stroke="#000" stroke-width="0.6" >sgFANCF</text>
<text x="230.6" y="1000.8" font-size="27.2" stroke="#000" stroke-width="0.6" >sgHEK3</text>
<text x="321.7" y="977.3" font-size="27.2" stroke="#000" stroke-width="0.6" >sgRNF2</text>
<text x="416.7" y="1000.8" font-size="27.2" stroke="#000" stroke-width="0.6" >sgEMX1</text>
<text x="7" y="1062.5" font-size="41" stroke="#000" stroke-width="0.9" >d</text>
<text x="68" y="1170.5" font-size="31.2" stroke="#000" stroke-width="0.69" >kDa</text>
<text x="121" y="1209.3" font-size="31.2" text-anchor="end" stroke="#000" stroke-width="0.69" >250</text>
<line x1="126" y1="1197.4" x2="147.7" y2="1197.4" stroke="#000" stroke-width="2" />
<text x="121" y="1325" font-size="31.2" text-anchor="end" stroke="#000" stroke-width="0.69" >55</text>
<line x1="126" y1="1315.5" x2="147.7" y2="1315.5" stroke="#000" stroke-width="2" />
<text x="387.3" y="1231.6" font-size="31.2" stroke="#000" stroke-width="0.69" >anti-Cas9</text>
<text x="387.3" y="1297.2" font-size="31.2" stroke="#000" stroke-width="0.69" >anti-</text>
<text x="387.3" y="1335.2" font-size="31.2" stroke="#000" stroke-width="0.69" >β-Tubulin</text>
<text x="174" y="1162" font-size="30.2" transform="rotate(-40 174 1162)" stroke="#000" stroke-width="0.66" >BE4max</text>
<text x="222.5" y="1160" font-size="30.2" transform="rotate(-40 222.5 1160)" stroke="#000" stroke-width="0.66" >CGEB1</text>
<text x="270" y="1162" font-size="30.2" transform="rotate(-40 270 1162)" stroke="#000" stroke-width="0.66" >AXC</text>
<text x="309" y="1160.5" font-size="30.2" transform="rotate(-40 309 1160.5)" stroke="#000" stroke-width="0.66" >eA3A-nCas9</text>
<text x="353.5" y="1161.5" font-size="30.2" transform="rotate(-40 353.5 1161.5)" stroke="#000" stroke-width="0.66" >AID-CGBE</text>
<g clip-path="url(#cb1)">
<rect x="150.5" y="1167" width="224" height="101" fill="#fdfdfd" />
<rect x="163.81" y="1198.93" width="29.46" height="2.8" rx="1.4" fill="#444" opacity="0.6" filter="url(#b1)"/>
<rect x="206.22" y="1201.65" width="29.76" height="4.2" rx="2.1" fill="#000" opacity="0.92" filter="url(#b1)"/>
<rect x="207.71" y="1215" width="26.04" height="2.2" rx="1.1" fill="#777" opacity="0.35" filter="url(#b1)"/>
<rect x="247.89" y="1203.24" width="29.76" height="2.8" rx="1.4" fill="#444" opacity="0.6" filter="url(#b1)"/>
<rect x="289.55" y="1219.52" width="31.25" height="47.62" fill="url(#smear)" filter="url(#b3)"/>
<rect x="288.81" y="1213.73" width="33.04" height="11" rx="5.5" fill="#000" opacity="1.0" filter="url(#b2)"/>
<rect x="291.04" y="1228.34" width="29.02" height="3.2" rx="1.6" fill="#222" opacity="0.45" filter="url(#b1)"/>
<rect x="291.04" y="1239.5" width="29.02" height="3.2" rx="1.6" fill="#222" opacity="0.3" filter="url(#b1)"/>
<rect x="291.04" y="1249.47" width="29.02" height="3.2" rx="1.6" fill="#222" opacity="0.5" filter="url(#b1)"/>
<rect x="291.04" y="1260.78" width="29.02" height="3.2" rx="1.6" fill="#222" opacity="0.3" filter="url(#b1)"/>
<rect x="331.22" y="1220.8" width="31.99" height="2.8" rx="1.4" fill="#555" opacity="0.55" filter="url(#b1)"/>
</g>
<rect x="150.5" y="1167" width="224" height="101" fill="none" stroke="#000" stroke-width="2.4" />
<g clip-path="url(#cb2)">
<rect x="147.7" y="1281.7" width="226" height="53.5" fill="#fdfdfd" />
<rect x="152.65" y="1309.31" width="40.92" height="12.4" rx="6.2" fill="#000" opacity="0.13" filter="url(#b3)"/>
<rect x="154.14" y="1312.81" width="37.95" height="5.4" rx="2.7" fill="#000" opacity="1" filter="url(#b1)"/>
<rect x="198.78" y="1310.01" width="34.97" height="11" rx="5.5" fill="#000" opacity="0.13" filter="url(#b3)"/>
<rect x="200.27" y="1313.51" width="31.99" height="4" rx="2" fill="#000" opacity="0.9" filter="url(#b1)"/>
<rect x="239.7" y="1309.81" width="40.18" height="11.4" rx="5.7" fill="#000" opacity="0.13" filter="url(#b3)"/>
<rect x="241.19" y="1313.31" width="37.2" height="4.4" rx="2.2" fill="#000" opacity="0.92" filter="url(#b1)"/>
<rect x="285.83" y="1309.41" width="34.97" height="12.2" rx="6.1" fill="#000" opacity="0.13" filter="url(#b3)"/>
<rect x="287.32" y="1312.91" width="31.99" height="5.2" rx="2.6" fill="#000" opacity="1" filter="url(#b1)"/>
<rect x="325.27" y="1309.31" width="40.18" height="12.4" rx="6.2" fill="#000" opacity="0.13" filter="url(#b3)"/>
<rect x="326.76" y="1312.81" width="37.2" height="5.4" rx="2.7" fill="#000" opacity="1" filter="url(#b1)"/>
</g>
<rect x="147.7" y="1281.7" width="226" height="53.5" fill="none" stroke="#000" stroke-width="2.4" />
<text x="583" y="660.5" font-size="41" stroke="#000" stroke-width="0.9" >e</text>
<rect x="1166" y="655" width="23" height="13.6" fill="#4f73c9" />
<text x="1195.4" y="671" font-size="26.8" stroke="#000" stroke-width="0.59" >BE4max</text>
<rect x="1341.8" y="655" width="23" height="13.6" fill="#d9536a" />
<text x="1371.8" y="671" font-size="26.8" stroke="#000" stroke-width="0.59" >CGBE1</text>
<rect x="1504.4" y="655" width="23" height="13.6" fill="#e88d9a" />
<text x="1534.8" y="671" font-size="26.8" stroke="#000" stroke-width="0.59" >AXC</text>
<rect x="1620" y="655" width="23" height="13.6" fill="#9e1fa0" />
<text x="1648.8" y="671" font-size="26.8" stroke="#000" stroke-width="0.59" >eA3A-nCas9</text>
<rect x="1846.4" y="655" width="23" height="13.6" fill="#9e1a10" />
<text x="1874.5" y="671" font-size="26.8" stroke="#000" stroke-width="0.59" >AID-CGBE</text>
<path d="M687.85 955.7v-81.47h12.3v81.47zM779 955.7v-62.01h12.3v62.01zM870.15 955.7v-54.48h12.3v54.48zM961.3 955.7v-32.95h12.3v32.95zM1052.45 955.7v-15.83h12.3v15.83zM1143.6 955.7v-7.01h12.3v7.01zM1234.75 955.7v-6.49h12.3v6.49z" fill="#4f73c9"/>
<path d="M703.55 955.7v-12.71h12.3v12.71zM794.7 955.7v-126.87h12.3v126.87zM885.85 955.7v-46.18h12.3v46.18zM977 955.7v-34.25h12.3v34.25zM1068.15 955.7v-17.64h12.3v17.64zM1159.3 955.7v-11.93h12.3v11.93zM1250.45 955.7v-9.6h12.3v9.6z" fill="#e86a7a"/>
<path d="M719.25 955.7v-35.28h12.3v35.28zM810.4 955.7v-105.33h12.3v105.33zM901.55 955.7v-53.19h12.3v53.19zM992.7 955.7v-38.4h12.3v38.4zM1083.85 955.7v-10.38h12.3v10.38zM1175 955.7v-6.23h12.3v6.23zM1266.15 955.7v-6.23h12.3v6.23z" fill="#e8919e"/>
<path d="M734.95 955.7v-39.18h12.3v39.18zM826.1 955.7v-128.68h12.3v128.68zM917.25 955.7v-50.59h12.3v50.59zM1008.4 955.7v-21.53h12.3v21.53zM1099.55 955.7v-9.6h12.3v9.6zM1190.7 955.7v-4.41h12.3v4.41zM1281.85 955.7v-3.37h12.3v3.37z" fill="#9a1f9c"/>
<path d="M750.65 955.7v-27.24h12.3v27.24zM841.8 955.7v-89.77h12.3v89.77zM932.95 955.7v-60.71h12.3v60.71zM1024.1 955.7v-36.32h12.3v36.32zM1115.25 955.7v-19.46h12.3v19.46zM1206.4 955.7v-12.71h12.3v12.71zM1297.55 955.7v-10.9h12.3v10.9z" fill="#a5281e"/>
<g fill="none" stroke="#929292"><path d="M694 874.23V834.02M709.7 942.99V939.1M725.4 920.42V917.3M741.1 916.52V901.48M756.8 928.46V914.19M785.15 893.69V891.1M800.85 828.83V798.22M816.55 850.37V845.7M832.25 827.02V811.97M847.95 865.93V845.18M876.3 901.22V884.35M892 909.52V903.03M907.7 902.51V899.92M923.4 905.11V902.51M939.1 894.99V885.91M967.45 922.75V909.78M983.15 921.45V908.48M998.85 917.3V912.11M1014.55 934.17V932.87M1030.25 919.38V908.22M1058.6 939.87V933.39M1074.3 938.06V930.27M1090 945.32V943.51M1105.7 946.1V944.8M1121.4 936.24V929.24M1149.75 948.7V946.1M1165.45 943.77V937.28M1181.15 949.47V947.66M1196.85 951.29V950.25M1212.55 942.99V937.8M1240.9 949.21V945.84M1256.6 946.1V939.61M1272.3 949.47V947.4M1288 952.33V951.29M1303.7 944.8V939.61" stroke-width="1.6"/><path d="M689.9 834.02h8.2M705.6 939.1h8.2M721.3 917.3h8.2M737 901.48h8.2M752.7 914.19h8.2M781.05 891.1h8.2M796.75 798.22h8.2M812.45 845.7h8.2M828.15 811.97h8.2M843.85 845.18h8.2M872.2 884.35h8.2M887.9 903.03h8.2M903.6 899.92h8.2M919.3 902.51h8.2M935 885.91h8.2M963.35 909.78h8.2M979.05 908.48h8.2M994.75 912.11h8.2M1010.45 932.87h8.2M1026.15 908.22h8.2M1054.5 933.39h8.2M1070.2 930.27h8.2M1085.9 943.51h8.2M1101.6 944.8h8.2M1117.3 929.24h8.2M1145.65 946.1h8.2M1161.35 937.28h8.2M1177.05 947.66h8.2M1192.75 950.25h8.2M1208.45 937.8h8.2M1236.8 945.84h8.2M1252.5 939.61h8.2M1268.2 947.4h8.2M1283.9 951.29h8.2M1299.6 939.61h8.2" stroke-width="1.3"/></g>
<g fill="none" stroke="rgba(160,160,160,0.7)"><path d="M694 874.23V914.45M709.7 942.99V946.88M725.4 920.42V923.53M741.1 916.52V931.57M756.8 928.46V942.73M785.15 893.69V896.29M800.85 828.83V859.45M816.55 850.37V855.04M832.25 827.02V842.06M847.95 865.93V886.69M876.3 901.22V918.08M892 909.52V916M907.7 902.51V905.11M923.4 905.11V907.7M939.1 894.99V904.07M967.45 922.75V935.72M983.15 921.45V934.43M998.85 917.3V922.49M1014.55 934.17V935.46M1030.25 919.38V930.53M1058.6 939.87V946.36M1074.3 938.06V945.84M1090 945.32V947.14M1105.7 946.1V947.4M1121.4 936.24V943.25M1149.75 948.7V951.29M1165.45 943.77V950.25M1181.15 949.47V951.29M1196.85 951.29V952.33M1212.55 942.99V948.18M1240.9 949.21V952.59M1256.6 946.1V952.59M1272.3 949.47V951.55M1288 952.33V953.37M1303.7 944.8V949.99" stroke-width="1.6"/><path d="M689.9 914.45h8.2M705.6 946.88h8.2M721.3 923.53h8.2M737 931.57h8.2M752.7 942.73h8.2M781.05 896.29h8.2M796.75 859.45h8.2M812.45 855.04h8.2M828.15 842.06h8.2M843.85 886.69h8.2M872.2 918.08h8.2M887.9 916h8.2M903.6 905.11h8.2M919.3 907.7h8.2M935 904.07h8.2M963.35 935.72h8.2M979.05 934.43h8.2M994.75 922.49h8.2M1010.45 935.46h8.2M1026.15 930.53h8.2M1054.5 946.36h8.2M1070.2 945.84h8.2M1085.9 947.14h8.2M1101.6 947.4h8.2M1117.3 943.25h8.2M1145.65 951.29h8.2M1161.35 950.25h8.2M1177.05 951.29h8.2M1192.75 952.33h8.2M1208.45 948.18h8.2M1236.8 952.59h8.2M1252.5 952.59h8.2M1268.2 951.55h8.2M1283.9 953.37h8.2M1299.6 949.99h8.2" stroke-width="1.3"/></g>
<path d="M694 1517.67h0M694 1338.66h0M694 1313.09h0M709.7 1487.35h0M706.01 1502.82h0M713.39 1507.15h0M725.4 1473.12h0M729.09 1459.27h0M721.71 1457.29h0M741.1 1504.88h0M741.1 1437.9h0M741.1 1428.33h0M756.8 1432.91h0M756.8 1489.62h0M756.8 1505.5h0M785.15 1412.91h0M781.46 1423.22h0M788.84 1426.1h0M800.85 1220.29h0M800.85 1356.57h0M800.85 1376.03h0M816.55 1337.01h0M812.86 1357.8h0M820.24 1360.77h0M832.25 1269.29h0M832.25 1329.1h0M832.25 1345.84h0M847.95 1442.6h0M847.95 1350.21h0M847.95 1337.01h0M876.3 1381.77h0M876.3 1448.79h0M876.3 1467.56h0M892 1425.28h0M888.31 1454.15h0M895.69 1458.28h0M907.7 1426.52h0M904.01 1438.07h0M911.39 1439.72h0M923.4 1447.14h0M927.09 1435.59h0M919.71 1433.94h0M939.1 1397.83h0M939.1 1422.8h0M939.1 1447.78h0M967.45 1425.69h0M967.45 1483.43h0M967.45 1491.68h0M983.15 1423.63h0M983.15 1481.37h0M983.15 1489.62h0M998.85 1442.6h0M998.85 1463.22h0M998.85 1469h0M1014.55 1480.96h0M1010.86 1486.73h0M1018.24 1487.56h0M1030.25 1427.88h0M1030.25 1472.22h0M1030.25 1484.63h0M1058.6 1514.78h0M1062.29 1485.91h0M1054.91 1481.78h0M1074.3 1516.02h0M1077.99 1481.37h0M1070.61 1476.42h0M1090 1497.33h0M1086.31 1504.55h0M1093.69 1506.57h0M1105.7 1499.93h0M1102.01 1505.71h0M1109.39 1506.53h0M1121.4 1467.23h0M1121.4 1495.07h0M1121.4 1502.86h0M1149.75 1499.93h0M1146.06 1511.48h0M1153.44 1513.13h0M1165.45 1480.75h0M1165.45 1506.53h0M1165.45 1513.75h0M1181.15 1503.64h0M1177.46 1511.73h0M1184.84 1512.88h0M1193.16 1509.01h0M1193.16 1513.63h0M1200.54 1514.29h0M1212.55 1482.61h0M1208.86 1505.71h0M1216.24 1509.01h0M1240.9 1498.28h0M1237.21 1513.3h0M1244.59 1515.44h0M1256.6 1483.43h0M1252.91 1512.31h0M1260.29 1516.43h0M1272.3 1503.15h0M1268.61 1511.4h0M1275.99 1513.71h0M1284.31 1510.66h0M1284.31 1515.28h0M1291.69 1515.94h0M1303.7 1518.49h0M1307.39 1495.4h0M1300.01 1492.1h0" stroke="#8a8a8a" stroke-opacity="0.7" stroke-width="6.2" stroke-linecap="round" fill="none" transform="scale(1 0.629)"/>
<line x1="682.2" y1="721.2" x2="682.2" y2="956.7" stroke="#000" stroke-width="3.2" />
<line x1="673.2" y1="955.7" x2="1318" y2="955.7" stroke="#000" stroke-width="2" />
<text x="671.2" y="964" font-size="26.5" text-anchor="end" stroke="#000" stroke-width="0.58" >0</text>
<text x="673.7" y="887.17" font-size="26.5" text-anchor="end" stroke="#000" stroke-width="0.58" >30</text>
<text x="673.7" y="809.33" font-size="26.5" text-anchor="end" stroke="#000" stroke-width="0.58" >60</text>
<text x="673.7" y="739.5" font-size="26.5" text-anchor="end" stroke="#000" stroke-width="0.58" >90</text>
<path d="M674.2 877.87H682.2M674.2 800.03H682.2M674.2 722.2H682.2" stroke="#000" stroke-width="2" fill="none"/>
<path d="M725.4 955.7v9M816.55 955.7v9M907.7 955.7v9M998.85 955.7v9M1090 955.7v9M1181.15 955.7v9M1272.3 955.7v9" stroke="#000" stroke-width="3.2" fill="none"/>
<text x="690" y="727" font-size="31" stroke="#000" stroke-width="0.68" >sgFANCF</text>
<text x="635" y="844.45" font-size="31" text-anchor="middle" transform="rotate(-90 635 844.45)" stroke="#000" stroke-width="0.68" >Percent of deletion</text>
<path d="M1401.45 952.9v-159.32h12.3v159.32zM1492.6 952.9v-60.92h12.3v60.92zM1583.75 952.9v-54.67h12.3v54.67zM1674.9 952.9v-31.24h12.3v31.24zM1766.05 952.9v-17.18h12.3v17.18zM1857.2 952.9v-13.67h12.3v13.67zM1948.35 952.9v-50.76h12.3v50.76z" fill="#4f73c9"/>
<path d="M1417.15 952.9v-67.95h12.3v67.95zM1508.3 952.9v-106.22h12.3v106.22zM1599.45 952.9v-61.7h12.3v61.7zM1690.6 952.9v-45.69h12.3v45.69zM1781.75 952.9v-28.51h12.3v28.51zM1872.9 952.9v-16.4h12.3v16.4zM1964.05 952.9v-60.92h12.3v60.92z" fill="#e86a7a"/>
<path d="M1432.85 952.9v-136.67h12.3v136.67zM1524 952.9v-76.15h12.3v76.15zM1615.15 952.9v-71.46h12.3v71.46zM1706.3 952.9v-50.37h12.3v50.37zM1797.45 952.9v-16.4h12.3v16.4zM1888.6 952.9v-10.15h12.3v10.15zM1979.75 952.9v-25.77h12.3v25.77z" fill="#e8919e"/>
<path d="M1448.55 952.9v-101.53h12.3v101.53zM1539.7 952.9v-85.52h12.3v85.52zM1630.85 952.9v-76.93h12.3v76.93zM1722 952.9v-60.14h12.3v60.14zM1813.15 952.9v-28.12h12.3v28.12zM1904.3 952.9v-10.15h12.3v10.15zM1995.45 952.9v-23.43h12.3v23.43z" fill="#9a1f9c"/>
<path d="M1464.25 952.9v-42.56h12.3v42.56zM1555.4 952.9v-85.91h12.3v85.91zM1646.55 952.9v-85.52h12.3v85.52zM1737.7 952.9v-55.45h12.3v55.45zM1828.85 952.9v-28.9h12.3v28.9zM1920 952.9v-18.35h12.3v18.35zM2011.15 952.9v-70.29h12.3v70.29z" fill="#a5281e"/>
<g fill="none" stroke="#929292"><path d="M1407.6 793.58V749.45M1423.3 884.95V848.25M1439 816.23V796.7M1454.7 851.37V840.83M1470.4 910.34V898.62M1498.75 891.98V884.17M1514.45 846.68V831.06M1530.15 876.75V870.89M1545.85 867.38V859.57M1561.55 866.99V845.51M1589.9 898.23V892.37M1605.6 891.2V885.34M1621.3 881.44V874.41M1637 875.97V874.02M1652.7 867.38V856.45M1681.05 921.66V914.63M1696.75 907.21V900.18M1712.45 902.53V895.89M1728.15 892.76V888.86M1743.85 897.45V892.76M1772.2 935.72V931.81M1787.9 924.39V916.58M1803.6 936.5V933.38M1819.3 924.78V919.71M1835 924V920.88M1863.35 939.23V933.77M1879.05 936.5V930.64M1894.75 942.75V940.79M1910.45 942.75V940.4M1926.15 934.55V928.69M1954.5 902.13V872.07M1970.2 891.98V865.43M1985.9 927.13V919.32M2001.6 929.47V920.49M2017.3 882.61V848.25" stroke-width="1.6"/><path d="M1403.5 749.45h8.2M1419.2 848.25h8.2M1434.9 796.7h8.2M1450.6 840.83h8.2M1466.3 898.62h8.2M1494.65 884.17h8.2M1510.35 831.06h8.2M1526.05 870.89h8.2M1541.75 859.57h8.2M1557.45 845.51h8.2M1585.8 892.37h8.2M1601.5 885.34h8.2M1617.2 874.41h8.2M1632.9 874.02h8.2M1648.6 856.45h8.2M1676.95 914.63h8.2M1692.65 900.18h8.2M1708.35 895.89h8.2M1724.05 888.86h8.2M1739.75 892.76h8.2M1768.1 931.81h8.2M1783.8 916.58h8.2M1799.5 933.38h8.2M1815.2 919.71h8.2M1830.9 920.88h8.2M1859.25 933.77h8.2M1874.95 930.64h8.2M1890.65 940.79h8.2M1906.35 940.4h8.2M1922.05 928.69h8.2M1950.4 872.07h8.2M1966.1 865.43h8.2M1981.8 919.32h8.2M1997.5 920.49h8.2M2013.2 848.25h8.2" stroke-width="1.3"/></g>
<g fill="none" stroke="rgba(160,160,160,0.7)"><path d="M1407.6 793.58V837.7M1423.3 884.95V921.66M1439 816.23V835.75M1454.7 851.37V861.91M1470.4 910.34V922.05M1498.75 891.98V899.79M1514.45 846.68V862.3M1530.15 876.75V882.61M1545.85 867.38V875.19M1561.55 866.99V888.47M1589.9 898.23V904.09M1605.6 891.2V897.06M1621.3 881.44V888.47M1637 875.97V877.92M1652.7 867.38V878.31M1681.05 921.66V928.69M1696.75 907.21V914.24M1712.45 902.53V909.16M1728.15 892.76V896.67M1743.85 897.45V902.13M1772.2 935.72V939.62M1787.9 924.39V932.2M1803.6 936.5V939.62M1819.3 924.78V929.86M1835 924V927.13M1863.35 939.23V944.7M1879.05 936.5V942.36M1894.75 942.75V944.7M1910.45 942.75V945.09M1926.15 934.55V940.4M1954.5 902.13V932.2M1970.2 891.98V918.54M1985.9 927.13V934.94M2001.6 929.47V938.45M2017.3 882.61V916.97" stroke-width="1.6"/><path d="M1403.5 837.7h8.2M1419.2 921.66h8.2M1434.9 835.75h8.2M1450.6 861.91h8.2M1466.3 922.05h8.2M1494.65 899.79h8.2M1510.35 862.3h8.2M1526.05 882.61h8.2M1541.75 875.19h8.2M1557.45 888.47h8.2M1585.8 904.09h8.2M1601.5 897.06h8.2M1617.2 888.47h8.2M1632.9 877.92h8.2M1648.6 878.31h8.2M1676.95 928.69h8.2M1692.65 914.24h8.2M1708.35 909.16h8.2M1724.05 896.67h8.2M1739.75 902.13h8.2M1768.1 939.62h8.2M1783.8 932.2h8.2M1799.5 939.62h8.2M1815.2 929.86h8.2M1830.9 927.13h8.2M1859.25 944.7h8.2M1874.95 942.36h8.2M1890.65 944.7h8.2M1906.35 945.09h8.2M1922.05 940.4h8.2M1950.4 932.2h8.2M1966.1 918.54h8.2M1981.8 934.94h8.2M1997.5 938.45h8.2M2013.2 916.97h8.2" stroke-width="1.3"/></g>
<path d="M1407.6 1401.88h0M1407.6 1205.46h0M1407.6 1177.4h0M1423.3 1305.89h0M1423.3 1406.85h0M1423.3 1507.8h0M1439 1238.61h0M1439 1316.21h0M1439 1337.94h0M1454.7 1324.46h0M1454.7 1353.46h0M1454.7 1382.46h0M1470.4 1409.95h0M1470.4 1462.1h0M1470.4 1469.55h0M1498.75 1442.85h0M1502.44 1408.09h0M1495.06 1403.12h0M1514.45 1296.35h0M1514.45 1365.88h0M1514.45 1375.81h0M1530.15 1377.7h0M1530.15 1393.81h0M1530.15 1409.92h0M1545.85 1403.74h0M1549.54 1368.98h0M1542.16 1364.01h0M1561.55 1319.22h0M1561.55 1378.29h0M1561.55 1437.36h0M1589.9 1446.58h0M1593.59 1420.51h0M1586.21 1416.78h0M1605.6 1399.09h0M1605.6 1422.37h0M1605.6 1428.89h0M1621.3 1378.91h0M1617.61 1410.2h0M1624.99 1414.67h0M1637 1386.67h0M1633.31 1394.43h0M1640.69 1396.61h0M1652.7 1344.15h0M1652.7 1392.82h0M1652.7 1399.77h0M1681.05 1443.97h0M1681.05 1471.91h0M1681.05 1479.73h0M1696.75 1419.89h0M1693.06 1451.17h0M1700.44 1455.64h0M1712.45 1455.89h0M1716.14 1426.34h0M1708.76 1422.12h0M1728.15 1408.52h0M1728.15 1419.26h0M1728.15 1430h0M1743.85 1411.81h0M1740.16 1432.67h0M1747.54 1435.65h0M1772.2 1476.81h0M1772.2 1487.55h0M1772.2 1498.29h0M1787.9 1444.72h0M1784.21 1479.48h0M1791.59 1484.45h0M1803.6 1478.86h0M1799.91 1492.77h0M1807.29 1494.75h0M1819.3 1454.84h0M1819.3 1475.01h0M1819.3 1480.66h0M1835 1459h0M1831.31 1472.9h0M1838.69 1474.89h0M1863.35 1475.76h0M1859.66 1500.09h0M1867.04 1503.57h0M1879.05 1471.1h0M1879.05 1494.38h0M1879.05 1500.9h0M1894.75 1493.36h0M1894.75 1498.73h0M1894.75 1504.1h0M1910.45 1506.18h0M1914.14 1495.75h0M1906.76 1494.26h0M1926.15 1467.07h0M1922.46 1493.14h0M1929.84 1496.86h0M1954.5 1338.56h0M1954.5 1472.4h0M1954.5 1491.52h0M1970.2 1333.59h0M1970.2 1451.79h0M1970.2 1468.68h0M1985.9 1450.3h0M1985.9 1481.34h0M1985.9 1490.03h0M2001.6 1449.06h0M2001.6 1489.04h0M2001.6 1494.75h0M2017.3 1293.86h0M2017.3 1446.83h0M2017.3 1468.68h0" stroke="#8a8a8a" stroke-opacity="0.7" stroke-width="6.2" stroke-linecap="round" fill="none" transform="scale(1 0.629)"/>
<line x1="1395.8" y1="717.6" x2="1395.8" y2="953.9" stroke="#000" stroke-width="2.8" />
<line x1="1386.8" y1="952.9" x2="2029" y2="952.9" stroke="#000" stroke-width="2" />
<text x="1380.5" y="966.8" font-size="27.3" text-anchor="end" stroke="#000" stroke-width="0.6" >0</text>
<text x="1383.6" y="884.1" font-size="27.3" text-anchor="end" stroke="#000" stroke-width="0.6" >20</text>
<text x="1383.6" y="806" font-size="27.3" text-anchor="end" stroke="#000" stroke-width="0.6" >40</text>
<text x="1383.6" y="735.9" font-size="27.3" text-anchor="end" stroke="#000" stroke-width="0.6" >60</text>
<path d="M1387.8 874.8H1395.8M1387.8 796.7H1395.8M1387.8 718.6H1395.8" stroke="#000" stroke-width="2" fill="none"/>
<path d="M1439 952.9v9M1530.15 952.9v9M1621.3 952.9v9M1712.45 952.9v9M1803.6 952.9v9M1894.75 952.9v9M1985.9 952.9v9" stroke="#000" stroke-width="2.8" fill="none"/>
<text x="1404.5" y="721" font-size="31" stroke="#000" stroke-width="0.68" >sgHEK3</text>
<text x="1347" y="843.75" font-size="31" text-anchor="middle" transform="rotate(-90 1347 843.75)" stroke="#000" stroke-width="0.68" >Percent of deletion</text>
<path d="M686.95 1243.4v-110.19h12.3v110.19zM778.1 1243.4v-89.08h12.3v89.08zM869.25 1243.4v-46.34h12.3v46.34zM960.4 1243.4v-11.33h12.3v11.33zM1051.55 1243.4v-1.29h12.3v1.29zM1142.7 1243.4v-0.51h12.3v0.51zM1233.85 1243.4v-0.51h12.3v0.51z" fill="#4f73c9"/>
<path d="M702.65 1243.4v-35.27h12.3v35.27zM793.8 1243.4v-162.45h12.3v162.45zM884.95 1243.4v-51.49h12.3v51.49zM976.1 1243.4v-6.18h12.3v6.18zM1067.25 1243.4v-1.29h12.3v1.29zM1158.4 1243.4v-0.51h12.3v0.51zM1249.55 1243.4v-0.51h12.3v0.51z" fill="#e86a7a"/>
<path d="M718.35 1243.4v-89.08h12.3v89.08zM809.5 1243.4v-95.25h12.3v95.25zM900.65 1243.4v-57.15h12.3v57.15zM991.8 1243.4v-13.64h12.3v13.64zM1082.95 1243.4v-1.29h12.3v1.29zM1174.1 1243.4v-0.51h12.3v0.51zM1265.25 1243.4v-0.51h12.3v0.51z" fill="#e8919e"/>
<path d="M734.05 1243.4v-36.04h12.3v36.04zM825.2 1243.4v-145.46h12.3v145.46zM916.35 1243.4v-58.95h12.3v58.95zM1007.5 1243.4v-10.56h12.3v10.56zM1098.65 1243.4v-3.86h12.3v3.86zM1189.8 1243.4v-0.51h12.3v0.51zM1280.95 1243.4v-1.03h12.3v1.03z" fill="#9a1f9c"/>
<path d="M749.75 1243.4v-14.16h12.3v14.16zM840.9 1243.4v-127.44h12.3v127.44zM932.05 1243.4v-94.74h12.3v94.74zM1023.2 1243.4v-17.51h12.3v17.51zM1114.35 1243.4v-1.29h12.3v1.29zM1205.5 1243.4v-0.51h12.3v0.51zM1296.65 1243.4v-0.51h12.3v0.51z" fill="#a5281e"/>
<g fill="none" stroke="#929292"><path d="M693.1 1133.21V1107.47M708.8 1208.13V1201.69M724.5 1154.32V1129.87M740.2 1207.36V1203.5M755.9 1229.24V1225.38M784.25 1154.32V1144.03M799.95 1080.95V1068.08M815.65 1148.15V1132.7M831.35 1097.94V1095.37M847.05 1115.97V1105.67M875.4 1197.06V1185.48M891.1 1191.91V1186.76M906.8 1186.25V1175.95M922.5 1184.45V1181.87M938.2 1148.66V1144.8M966.55 1232.07V1226.92M982.25 1237.22V1234.65M997.95 1229.76V1225.89M1013.65 1232.84V1231.56M1029.35 1225.89V1220.74" stroke-width="1.6"/><path d="M689 1107.47h8.2M704.7 1201.69h8.2M720.4 1129.87h8.2M736.1 1203.5h8.2M751.8 1225.38h8.2M780.15 1144.03h8.2M795.85 1068.08h8.2M811.55 1132.7h8.2M827.25 1095.37h8.2M842.95 1105.67h8.2M871.3 1185.48h8.2M887 1186.76h8.2M902.7 1175.95h8.2M918.4 1181.87h8.2M934.1 1144.8h8.2M962.45 1226.92h8.2M978.15 1234.65h8.2M993.85 1225.89h8.2M1009.55 1231.56h8.2M1025.25 1220.74h8.2" stroke-width="1.3"/></g>
<g fill="none" stroke="rgba(160,160,160,0.7)"><path d="M693.1 1133.21V1158.96M708.8 1208.13V1214.57M724.5 1154.32V1178.78M740.2 1207.36V1211.22M755.9 1229.24V1233.1M784.25 1154.32V1164.62M799.95 1080.95V1093.82M815.65 1148.15V1163.59M831.35 1097.94V1100.52M847.05 1115.97V1126.26M875.4 1197.06V1208.64M891.1 1191.91V1197.06M906.8 1186.25V1196.55M922.5 1184.45V1187.02M938.2 1148.66V1152.52M966.55 1232.07V1237.22M982.25 1237.22V1239.8M997.95 1229.76V1233.62M1013.65 1232.84V1234.13M1029.35 1225.89V1231.04" stroke-width="1.6"/><path d="M689 1158.96h8.2M704.7 1214.57h8.2M720.4 1178.78h8.2M736.1 1211.22h8.2M751.8 1233.1h8.2M780.15 1164.62h8.2M795.85 1093.82h8.2M811.55 1163.59h8.2M827.25 1100.52h8.2M842.95 1126.26h8.2M871.3 1208.64h8.2M887 1197.06h8.2M902.7 1196.55h8.2M918.4 1187.02h8.2M934.1 1152.52h8.2M962.45 1237.22h8.2M978.15 1239.8h8.2M993.85 1233.62h8.2M1009.55 1234.13h8.2M1025.25 1231.04h8.2" stroke-width="1.3"/></g>
<path d="M693.1 1730.72h0M693.1 1801.52h0M693.1 1872.32h0M708.8 1902.92h0M708.8 1920.62h0M708.8 1938.32h0M724.5 1757.32h0M724.5 1866.18h0M724.5 1881.74h0M740.2 1907.11h0M736.51 1924.3h0M743.89 1926.76h0M755.9 1941.9h0M752.21 1959.09h0M759.59 1961.54h0M784.25 1802.34h0M784.25 1848.18h0M784.25 1854.72h0M799.95 1677.51h0M799.95 1734.81h0M799.95 1742.99h0M815.65 1776.14h0M815.65 1844.9h0M815.65 1854.72h0M831.35 1737.26h0M827.66 1748.72h0M835.04 1750.36h0M847.05 1742.99h0M847.05 1783.92h0M847.05 1795.38h0M875.4 1866.18h0M875.4 1917.75h0M875.4 1925.12h0M891.1 1880.67h0M891.1 1894.83h0M891.1 1908.99h0M906.8 1853.09h0M906.8 1898.93h0M906.8 1905.47h0M922.5 1891.15h0M926.19 1879.69h0M918.81 1878.05h0M938.2 1813.8h0M934.51 1830.99h0M941.89 1833.44h0M966.55 1943.13h0M966.55 1963.59h0M966.55 1969.32h0M982.25 1958.68h0M978.56 1970.14h0M985.94 1971.78h0M997.95 1944.38h0M997.95 1955h0M997.95 1965.62h0M1013.65 1955.81h0M1009.96 1961.54h0M1017.34 1962.36h0M1029.35 1932.49h0M1025.66 1955.41h0M1033.04 1958.68h0M1054.01 1972.52h0M1054.01 1974.64h0M1061.39 1976.69h0M1077.09 1976.69h0M1069.71 1973.66h0M1069.71 1973.17h0M1092.79 1976.69h0M1085.41 1973.66h0M1085.41 1973.17h0M1101.11 1968.09h0M1101.11 1971.53h0M1108.49 1972.02h0M1116.81 1972.52h0M1116.81 1974.64h0M1124.19 1976.69h0M1145.16 1974.22h0M1145.16 1975.87h0M1152.54 1976.69h0M1160.86 1973.96h0M1160.86 1976.63h0M1168.24 1976.69h0M1183.94 1976.69h0M1176.56 1975.11h0M1176.56 1974.72h0M1192.26 1974.06h0M1192.26 1976.44h0M1199.64 1976.69h0M1207.96 1974.06h0M1207.96 1976.44h0M1215.34 1976.69h0M1243.69 1976.69h0M1236.31 1975.11h0M1236.31 1974.72h0M1252.01 1974.22h0M1252.01 1975.87h0M1259.39 1976.69h0M1275.09 1976.69h0M1267.71 1975.11h0M1267.71 1974.72h0M1283.41 1973.4h0M1283.41 1975.05h0M1290.79 1976.69h0M1299.11 1973.96h0M1299.11 1976.63h0M1306.49 1976.69h0" stroke="#8a8a8a" stroke-opacity="0.7" stroke-width="6.2" stroke-linecap="round" fill="none" transform="scale(1 0.629)"/>
<line x1="682.2" y1="1010.7" x2="682.2" y2="1244.4" stroke="#000" stroke-width="3.2" />
<line x1="673.2" y1="1243.4" x2="1318" y2="1243.4" stroke="#000" stroke-width="2" />
<text x="671.2" y="1251.7" font-size="26.5" text-anchor="end" stroke="#000" stroke-width="0.58" >0</text>
<text x="673.7" y="1175.47" font-size="26.5" text-anchor="end" stroke="#000" stroke-width="0.58" >30</text>
<text x="673.7" y="1098.23" font-size="26.5" text-anchor="end" stroke="#000" stroke-width="0.58" >60</text>
<text x="673.7" y="1029" font-size="26.5" text-anchor="end" stroke="#000" stroke-width="0.58" >90</text>
<path d="M674.2 1166.17H682.2M674.2 1088.93H682.2M674.2 1011.7H682.2" stroke="#000" stroke-width="2" fill="none"/>
<path d="M724.5 1243.4v9M815.65 1243.4v9M906.8 1243.4v9M997.95 1243.4v9M1089.1 1243.4v9M1180.25 1243.4v9M1271.4 1243.4v9" stroke="#000" stroke-width="3.2" fill="none"/>
<text x="690" y="1014.4" font-size="31" stroke="#000" stroke-width="0.68" >sgRNF2</text>
<text x="635" y="1133.05" font-size="31" text-anchor="middle" transform="rotate(-90 635 1133.05)" stroke="#000" stroke-width="0.68" >Percent of deletion</text>
<text x="738.5" y="1263.9" font-size="26.8" text-anchor="end" transform="rotate(-45 738.5 1263.9)" stroke="#000" stroke-width="0.59" >1</text>
<text x="829.65" y="1263.9" font-size="26.8" text-anchor="end" transform="rotate(-45 829.65 1263.9)" stroke="#000" stroke-width="0.59" >2~10</text>
<text x="920.8" y="1263.9" font-size="26.8" text-anchor="end" transform="rotate(-45 920.8 1263.9)" stroke="#000" stroke-width="0.59" >11~20</text>
<text x="1011.95" y="1263.9" font-size="26.8" text-anchor="end" transform="rotate(-45 1011.95 1263.9)" stroke="#000" stroke-width="0.59" >21~30</text>
<text x="1103.1" y="1263.9" font-size="26.8" text-anchor="end" transform="rotate(-45 1103.1 1263.9)" stroke="#000" stroke-width="0.59" >31~40</text>
<text x="1194.25" y="1263.9" font-size="26.8" text-anchor="end" transform="rotate(-45 1194.25 1263.9)" stroke="#000" stroke-width="0.59" >41~50</text>
<text x="1285.4" y="1263.9" font-size="26.8" text-anchor="end" transform="rotate(-45 1285.4 1263.9)" stroke="#000" stroke-width="0.59" >&gt;50</text>
<text x="997.95" y="1339.9" font-size="27.5" text-anchor="middle" stroke="#000" stroke-width="0.6" >del size (bp)</text>
<path d="M1402.95 1244v-115.3h12.3v115.3zM1494.1 1244v-57h12.3v57zM1585.25 1244v-20.47h12.3v20.47zM1676.4 1244v-19.95h12.3v19.95zM1767.55 1244v-6.48h12.3v6.48zM1858.7 1244v-4.92h12.3v4.92zM1949.85 1244v-30.58h12.3v30.58z" fill="#4f73c9"/>
<path d="M1418.65 1244v-12.7h12.3v12.7zM1509.8 1244v-149.51h12.3v149.51zM1600.95 1244v-20.47h12.3v20.47zM1692.1 1244v-17.88h12.3v17.88zM1783.25 1244v-4.66h12.3v4.66zM1874.4 1244v-3.11h12.3v3.11zM1965.55 1244v-46.12h12.3v46.12z" fill="#e86a7a"/>
<path d="M1434.35 1244v-66.85h12.3v66.85zM1525.5 1244v-84.21h12.3v84.21zM1616.65 1244v-26.43h12.3v26.43zM1707.8 1244v-25.91h12.3v25.91zM1798.95 1244v-6.74h12.3v6.74zM1890.1 1244v-4.15h12.3v4.15zM1981.25 1244v-43.27h12.3v43.27z" fill="#e8919e"/>
<path d="M1450.05 1244v-44.05h12.3v44.05zM1541.2 1244v-92.5h12.3v92.5zM1632.35 1244v-17.88h12.3v17.88zM1723.5 1244v-40.94h12.3v40.94zM1814.65 1244v-6.74h12.3v6.74zM1905.8 1244v-4.66h12.3v4.66zM1996.95 1244v-48.19h12.3v48.19z" fill="#9a1f9c"/>
<path d="M1465.75 1244v-11.92h12.3v11.92zM1556.9 1244v-91.21h12.3v91.21zM1648.05 1244v-39.13h12.3v39.13zM1739.2 1244v-31.09h12.3v31.09zM1830.35 1244v-15.55h12.3v15.55zM1921.5 1244v-13.73h12.3v13.73zM2012.65 1244v-51.82h12.3v51.82z" fill="#a5281e"/>
<g fill="none" stroke="#929292"><path d="M1409.1 1128.7V1087.76M1424.8 1231.3V1228.71M1440.5 1177.15V1154.61M1456.2 1199.95V1178.44M1471.9 1232.08V1230.01M1500.25 1187V1174.04M1515.95 1094.49V1056.4M1531.65 1159.79V1147.35M1547.35 1151.5V1139.58M1563.05 1152.79V1126.1M1591.4 1223.53V1217.31M1607.1 1223.53V1218.87M1622.8 1217.57V1211.09M1638.5 1226.12V1221.72M1654.2 1204.87V1198.14M1682.55 1224.05V1218.09M1698.25 1226.12V1222.23M1713.95 1218.09V1214.72M1729.65 1203.06V1198.4M1745.35 1212.91V1209.8M1773.7 1237.52V1235.45M1789.4 1239.34V1237.26M1805.1 1237.26V1235.71M1820.8 1237.26V1235.19M1836.5 1228.45V1226.38M1864.85 1239.08V1235.19M1880.55 1240.89V1239.6M1896.25 1239.85V1238.56M1911.95 1239.34V1238.04M1927.65 1230.27V1227.68M1956 1213.42V1192.18M1971.7 1197.88V1162.12M1987.4 1200.73V1167.82M2003.1 1195.81V1169.89M2018.8 1192.18V1162.9" stroke-width="1.6"/><path d="M1405 1087.76h8.2M1420.7 1228.71h8.2M1436.4 1154.61h8.2M1452.1 1178.44h8.2M1467.8 1230.01h8.2M1496.15 1174.04h8.2M1511.85 1056.4h8.2M1527.55 1147.35h8.2M1543.25 1139.58h8.2M1558.95 1126.1h8.2M1587.3 1217.31h8.2M1603 1218.87h8.2M1618.7 1211.09h8.2M1634.4 1221.72h8.2M1650.1 1198.14h8.2M1678.45 1218.09h8.2M1694.15 1222.23h8.2M1709.85 1214.72h8.2M1725.55 1198.4h8.2M1741.25 1209.8h8.2M1769.6 1235.45h8.2M1785.3 1237.26h8.2M1801 1235.71h8.2M1816.7 1235.19h8.2M1832.4 1226.38h8.2M1860.75 1235.19h8.2M1876.45 1239.6h8.2M1892.15 1238.56h8.2M1907.85 1238.04h8.2M1923.55 1227.68h8.2M1951.9 1192.18h8.2M1967.6 1162.12h8.2M1983.3 1167.82h8.2M1999 1169.89h8.2M2014.7 1162.9h8.2" stroke-width="1.3"/></g>
<g fill="none" stroke="rgba(160,160,160,0.7)"><path d="M1409.1 1128.7V1169.64M1424.8 1231.3V1233.89M1440.5 1177.15V1199.69M1456.2 1199.95V1221.46M1471.9 1232.08V1234.15M1500.25 1187V1199.95M1515.95 1094.49V1132.58M1531.65 1159.79V1172.23M1547.35 1151.5V1163.42M1563.05 1152.79V1179.48M1591.4 1223.53V1229.75M1607.1 1223.53V1228.19M1622.8 1217.57V1224.05M1638.5 1226.12V1230.53M1654.2 1204.87V1211.61M1682.55 1224.05V1230.01M1698.25 1226.12V1230.01M1713.95 1218.09V1221.46M1729.65 1203.06V1207.72M1745.35 1212.91V1216.02M1773.7 1237.52V1239.6M1789.4 1239.34V1241.41M1805.1 1237.26V1238.82M1820.8 1237.26V1239.34M1836.5 1228.45V1230.53M1864.85 1239.08V1242.96M1880.55 1240.89V1242.19M1896.25 1239.85V1241.15M1911.95 1239.34V1240.63M1927.65 1230.27V1232.86M1956 1213.42V1234.67M1971.7 1197.88V1233.64M1987.4 1200.73V1233.64M2003.1 1195.81V1221.72M2018.8 1192.18V1221.46" stroke-width="1.6"/><path d="M1405 1169.64h8.2M1420.7 1233.89h8.2M1436.4 1199.69h8.2M1452.1 1221.46h8.2M1467.8 1234.15h8.2M1496.15 1199.95h8.2M1511.85 1132.58h8.2M1527.55 1172.23h8.2M1543.25 1163.42h8.2M1558.95 1179.48h8.2M1587.3 1229.75h8.2M1603 1228.19h8.2M1618.7 1224.05h8.2M1634.4 1230.53h8.2M1650.1 1211.61h8.2M1678.45 1230.01h8.2M1694.15 1230.01h8.2M1709.85 1221.46h8.2M1725.55 1207.72h8.2M1741.25 1216.02h8.2M1769.6 1239.6h8.2M1785.3 1241.41h8.2M1801 1238.82h8.2M1816.7 1239.34h8.2M1832.4 1230.53h8.2M1860.75 1242.96h8.2M1876.45 1242.19h8.2M1892.15 1241.15h8.2M1907.85 1240.63h8.2M1923.55 1232.86h8.2M1951.9 1234.67h8.2M1967.6 1233.64h8.2M1983.3 1233.64h8.2M1999 1221.72h8.2M2014.7 1221.46h8.2" stroke-width="1.3"/></g>
<path d="M1409.1 1664.17h0M1409.1 1846.4h0M1409.1 1872.44h0M1424.8 1949.63h0M1421.11 1959.93h0M1428.49 1962.81h0M1440.5 1803.28h0M1440.5 1892.87h0M1440.5 1917.95h0M1456.2 1839.24h0M1456.2 1934.97h0M1456.2 1948.64h0M1471.9 1952.99h0M1471.9 1958.69h0M1471.9 1964.39h0M1500.25 1851.39h0M1500.25 1887.02h0M1500.25 1922.65h0M1515.95 1635.21h0M1515.95 1739.96h0M1515.95 1844.72h0M1531.65 1804.22h0M1531.65 1859.58h0M1531.65 1867.49h0M1547.35 1868.48h0M1547.35 1815.43h0M1547.35 1807.85h0M1563.05 1759.25h0M1563.05 1832.65h0M1563.05 1906.05h0M1591.4 1964.87h0M1595.09 1937.19h0M1587.71 1933.24h0M1607.1 1959.93h0M1610.79 1939.17h0M1603.41 1936.2h0M1622.8 1956.22h0M1626.49 1927.39h0M1619.11 1923.27h0M1638.5 1935.21h0M1634.81 1954.82h0M1642.19 1957.62h0M1654.2 1896.91h0M1654.2 1915.44h0M1654.2 1933.97h0M1682.55 1926.97h0M1678.86 1953.5h0M1686.24 1957.29h0M1698.25 1938.53h0M1698.25 1949.22h0M1698.25 1959.91h0M1713.95 1927.18h0M1713.95 1936.45h0M1713.95 1945.71h0M1729.65 1899.73h0M1729.65 1912.56h0M1729.65 1925.38h0M1745.35 1919.66h0M1745.35 1928.21h0M1745.35 1936.76h0M1773.7 1961.08h0M1770.01 1969.32h0M1777.39 1971.63h0M1789.4 1963.64h0M1785.71 1972.86h0M1793.09 1974.18h0M1805.1 1961.99h0M1801.41 1968.91h0M1808.79 1969.9h0M1820.8 1960.67h0M1817.11 1968.91h0M1824.49 1971.22h0M1836.5 1947.22h0M1836.5 1952.93h0M1836.5 1958.63h0M1864.85 1957.46h0M1861.16 1974.76h0M1868.54 1977.23h0M1880.55 1968.58h0M1876.86 1974.35h0M1884.24 1975.17h0M1896.25 1966.93h0M1892.56 1972.7h0M1899.94 1973.52h0M1911.95 1966.11h0M1908.26 1971.87h0M1915.64 1972.7h0M1927.65 1947.98h0M1923.96 1958.28h0M1931.34 1961.16h0M1956 1861.48h0M1956 1956.06h0M1956 1969.57h0M1971.7 1790.63h0M1971.7 1949.8h0M1971.7 1972.53h0M1987.4 1804.22h0M1987.4 1950.7h0M1987.4 1971.63h0M2003.1 1829.76h0M2003.1 1901.02h0M2003.1 1972.29h0M2018.8 1802.16h0M2018.8 1932.49h0M2018.8 1951.11h0" stroke="#8a8a8a" stroke-opacity="0.7" stroke-width="6.2" stroke-linecap="round" fill="none" transform="scale(1 0.629)"/>
<line x1="1396.7" y1="1009.8" x2="1396.7" y2="1245" stroke="#000" stroke-width="2.8" />
<line x1="1387.7" y1="1244" x2="2029" y2="1244" stroke="#000" stroke-width="2" />
<text x="1387.1" y="1250.5" font-size="27.3" text-anchor="end" stroke="#000" stroke-width="0.6" >0</text>
<text x="1383.2" y="1175.57" font-size="27.3" text-anchor="end" stroke="#000" stroke-width="0.6" >30</text>
<text x="1383.2" y="1097.83" font-size="27.3" text-anchor="end" stroke="#000" stroke-width="0.6" >60</text>
<text x="1383.2" y="1028.1" font-size="27.3" text-anchor="end" stroke="#000" stroke-width="0.6" >90</text>
<path d="M1388.7 1166.27H1396.7M1388.7 1088.53H1396.7M1388.7 1010.8H1396.7" stroke="#000" stroke-width="2" fill="none"/>
<path d="M1440.5 1244v9M1531.65 1244v9M1622.8 1244v9M1713.95 1244v9M1805.1 1244v9M1896.25 1244v9M1987.4 1244v9" stroke="#000" stroke-width="2.8" fill="none"/>
<text x="1404.5" y="1014" font-size="31" stroke="#000" stroke-width="0.68" >sgEMX1</text>
<text x="1347" y="1135.4" font-size="31" text-anchor="middle" transform="rotate(-90 1347 1135.4)" stroke="#000" stroke-width="0.68" >Percent of deletion</text>
<text x="1454.5" y="1264.5" font-size="26.8" text-anchor="end" transform="rotate(-45 1454.5 1264.5)" stroke="#000" stroke-width="0.59" >1</text>
<text x="1545.65" y="1264.5" font-size="26.8" text-anchor="end" transform="rotate(-45 1545.65 1264.5)" stroke="#000" stroke-width="0.59" >2~10</text>
<text x="1636.8" y="1264.5" font-size="26.8" text-anchor="end" transform="rotate(-45 1636.8 1264.5)" stroke="#000" stroke-width="0.59" >11~20</text>
<text x="1727.95" y="1264.5" font-size="26.8" text-anchor="end" transform="rotate(-45 1727.95 1264.5)" stroke="#000" stroke-width="0.59" >21~30</text>
<text x="1819.1" y="1264.5" font-size="26.8" text-anchor="end" transform="rotate(-45 1819.1 1264.5)" stroke="#000" stroke-width="0.59" >31~40</text>
<text x="1910.25" y="1264.5" font-size="26.8" text-anchor="end" transform="rotate(-45 1910.25 1264.5)" stroke="#000" stroke-width="0.59" >41~50</text>
<text x="2001.4" y="1264.5" font-size="26.8" text-anchor="end" transform="rotate(-45 2001.4 1264.5)" stroke="#000" stroke-width="0.59" >&gt;50</text>
<text x="1713.95" y="1343" font-size="27.5" text-anchor="middle" stroke="#000" stroke-width="0.6" >del size (bp)</text>
<text x="8.5" y="1387.5" font-size="41" stroke="#000" stroke-width="0.9" >f</text>
<text x="237.5" y="1407.5" font-size="31" stroke="#000" stroke-width="0.68" >sgEMX1</text>
<rect x="470.7" y="1417.5" width="231.8" height="29.8" fill="#e2efda" stroke="#a9d18e" stroke-width="1" />
<rect x="702.5" y="1417.5" width="33.5" height="29.8" fill="#c3c3ee" stroke="#9a9ae0" stroke-width="1" />
<text x="231" y="1439" font-size="19.6" font-weight="bold" font-family="'Liberation Serif','DejaVu Serif',serif" stroke="#000" stroke-width="0.43" textLength="575.5" lengthAdjust="spacing">AAGCTGGAGGAGGAAGGGCCTGAGTCCGAGCAGAAGAAGAAGGGCTCCCA</text>
<polygon points="661.9,1394 675.1,1394 668.5,1407.4" fill="#c00000" />
<text x="862.5" y="1407.5" font-size="31" stroke="#000" stroke-width="0.68" >sgRNF2</text>
<rect x="1072.5" y="1416.7" width="231" height="30" fill="#e2efda" stroke="#a9d18e" stroke-width="1" />
<rect x="1303.5" y="1416.7" width="35" height="30" fill="#c3c3ee" stroke="#9a9ae0" stroke-width="1" />
<text x="856.5" y="1439" font-size="19.6" font-weight="bold" font-family="'Liberation Serif','DejaVu Serif',serif" stroke="#000" stroke-width="0.43" textLength="573" lengthAdjust="spacing">TCTCATATGCCCCTTGGCAGTCATCTTAGTCATTACCTGAGGTGTTCGTT</text>
<polygon points="1264.4,1392.5 1277.6,1392.5 1271,1405.9" fill="#c00000" />
<text x="1482.5" y="1407.5" font-size="31" stroke="#000" stroke-width="0.68" >sgHEK3</text>
<rect x="1762" y="1419" width="232" height="30.5" fill="#e2efda" stroke="#a9d18e" stroke-width="1" />
<rect x="1994" y="1419" width="34.3" height="30.5" fill="#c3c3ee" stroke="#9a9ae0" stroke-width="1" />
<text x="1476.2" y="1441.3" font-size="19.6" font-weight="bold" font-family="'Liberation Serif','DejaVu Serif',serif" stroke="#000" stroke-width="0.43" textLength="574.4" lengthAdjust="spacing">AGCCCTGGCCTGGGTCAATCCTTGGGGCCCAGACTGAGCACGTGATGGCA</text>
<polygon points="1951.8,1394.6 1965,1394.6 1958.4,1408" fill="#c00000" />
<rect x="236.24" y="1471.59" width="568.23" height="67.43" fill="#fff" stroke="#808080" stroke-width="1.2" />
<path d="M258.97 1533.3H281.7V1538.42H258.97ZM293.06 1533.3H315.79V1538.42H293.06ZM327.15 1533.3H349.88V1538.42H327.15ZM361.25 1533.3H383.98V1538.42H361.25ZM406.71 1533.3H463.53V1538.42H406.71ZM474.89 1533.3H486.26V1538.42H474.89ZM497.62 1533.3H508.99V1538.42H497.62ZM520.35 1533.3H554.44V1538.42H520.35ZM565.81 1533.3H588.54V1538.42H565.81ZM599.9 1533.3H611.27V1538.42H599.9ZM634 1533.3H645.36V1538.42H634ZM668.09 1533.3H679.45V1538.42H668.09ZM702.18 1533.3H747.64V1538.42H702.18ZM759.01 1533.3H793.1V1538.42H759.01Z" fill="#8c8c8c"/>
<path d="M327.15 1532.7v-1.24h11.36v1.24ZM645.36 1532.7v-2.52h11.36v2.52ZM781.74 1532.7v-1.94h11.36v1.94ZM281.7 1532.7v-1.76h11.36v1.76ZM418.07 1532.7v-1.42h11.36v1.42Z" fill="#8c8c8c"/>
<line x1="236.24" y1="1532.7" x2="804.46" y2="1532.7" stroke="#555" stroke-width="1.1" />
<path d="M343.7 1539.02v4M343.7 1625.06v4M457.85 1539.02v4M457.85 1625.06v4M572 1539.02v4M572 1625.06v4M686.15 1539.02v4M686.15 1625.06v4M800.3 1539.02v4M800.3 1625.06v4" stroke="#666" stroke-width="1" fill="none"/>
<rect x="725.16" y="1480.19" width="15.6" height="15.6" fill="#9b9b9b" stroke="#222" stroke-width="1.3" />
<text x="750.96" y="1500.19" font-size="27.2" stroke="#000" stroke-width="0.6" >C/G</text>
<rect x="236.24" y="1552.01" width="568.23" height="73.05" fill="#fff" stroke="#808080" stroke-width="1.2" />
<line x1="232.24" y1="1587.01" x2="236.24" y2="1587.01" stroke="#808080" stroke-width="1" />
<clipPath id="c00"><rect x="236.24" y="1552.01" width="569.23" height="75.05"/></clipPath>
<g clip-path="url(#c00)"><g fill="none" stroke-linejoin="miter" stroke-miterlimit="4" stroke-width="1.3" transform="translate(236.24 0) scale(3.3 1)">
<polyline points="0,1624.01 41.82,1624.01 45.34,1615.23 49.27,1623.65 70.03,1623.65 76.94,1619.79 83.86,1623.65 97.69,1623.65 101.42,1620.85 105.14,1623.65 108.87,1621.55 112.38,1623.65 115.79,1615.93 119.51,1622.25 122.7,1622.25 126.22,1613.82 129.94,1571.33 133.56,1605.04 137.07,1616.28 140.48,1616.98 143.99,1611.01 147.5,1622.25 150.91,1612.07 154.63,1622.25 158.14,1609.61 161.55,1611.01 165.06,1622.25 168.47,1620.49 172.19,1620.85" stroke="#4a74c8"/>
<polyline points="0,1624.01 7.24,1624.01 10.43,1616.28 13.62,1624.01 21.07,1623.65 24.26,1621.9 27.46,1623.65 38.63,1624.01 41.82,1616.28 45.02,1624.01 56.19,1623.65 59.38,1621.55 63.11,1623.3 66.51,1611.71 70.03,1623.65 83.86,1623.3 87.05,1621.55 90.25,1623.65 105.14,1623.65 108.87,1615.93 112.59,1624.01 172.19,1624.01" stroke="#de6a80"/>
</g></g>
<polygon points="661.65,1552.01 674.85,1552.01 668.25,1565.41" fill="#c00000" />
<text x="231" y="1492" font-size="27.2" text-anchor="end" stroke="#000" stroke-width="0.6" >10</text>
<text x="231" y="1540.3" font-size="27.2" text-anchor="end" stroke="#000" stroke-width="0.6" >0</text>
<text x="231.5" y="1568.7" font-size="27.2" text-anchor="end" stroke="#000" stroke-width="0.6" >0.4</text>
<text x="231" y="1620.3" font-size="27.2" text-anchor="end" stroke="#000" stroke-width="0.6" >0</text>
<text x="142" y="1497.2" font-size="27.4" text-anchor="middle" stroke="#000" stroke-width="0.6" >Sub</text>
<text x="142" y="1531.8" font-size="27.4" text-anchor="middle" stroke="#000" stroke-width="0.6" >(%)</text>
<text x="142.8" y="1585.8" font-size="27.4" text-anchor="middle" stroke="#000" stroke-width="0.6" >Del(<tspan font-weight="bold" fill="#de6a80" stroke="#de6a80">b</tspan><tspan font-weight="bold" fill="#4a74c8" stroke="#4a74c8">d</tspan>)</text>
<text x="145.5" y="1619.7" font-size="27.4" text-anchor="middle" stroke="#000" stroke-width="0.6" >(%)</text>
<rect x="860.54" y="1472.29" width="570.68" height="67.43" fill="#fff" stroke="#808080" stroke-width="1.2" />
<path d="M871.95 1534.35H883.36V1539.12H871.95ZM894.78 1534.35H906.19V1539.12H894.78ZM951.85 1534.35H1008.91V1539.12H951.85ZM1031.74 1534.35H1065.98V1539.12H1031.74ZM1077.4 1534.35H1088.81V1539.12H1077.4ZM1100.22 1534.35H1111.64V1539.12H1100.22ZM1134.46 1534.35H1145.88V1539.12H1134.46ZM1180.12 1534.35H1191.53V1539.12H1180.12ZM1202.95 1534.35H1214.36V1539.12H1202.95ZM1260.01 1534.35H1282.84V1539.12H1260.01ZM1294.26 1534.35H1305.67V1539.12H1294.26ZM1317.08 1534.35H1339.91V1539.12H1317.08ZM1351.32 1534.35H1362.74V1539.12H1351.32ZM1385.57 1534.35H1408.39V1539.12H1385.57Z" fill="#8c8c8c"/>
<path d="M1020.33 1533.75v-2.41h11.41v2.41ZM1123.05 1533.75v-1.17h11.41v1.17ZM1134.46 1533.75v-1.49h11.41v1.49ZM951.85 1533.75v-3h11.41v3ZM997.5 1533.75v-1.42h11.41v1.42Z" fill="#8c8c8c"/>
<line x1="860.54" y1="1533.75" x2="1431.22" y2="1533.75" stroke="#555" stroke-width="1.1" />
<path d="M930.1 1539.72v4M930.1 1623.3v4M1046 1539.72v4M1046 1623.3v4M1161.9 1539.72v4M1161.9 1623.3v4M1277.8 1539.72v4M1277.8 1623.3v4M1393.7 1539.72v4M1393.7 1623.3v4" stroke="#666" stroke-width="1" fill="none"/>
<rect x="1351.92" y="1480.89" width="15.6" height="15.6" fill="#9b9b9b" stroke="#222" stroke-width="1.3" />
<text x="1377.72" y="1500.89" font-size="27.2" stroke="#000" stroke-width="0.6" >C/G</text>
<rect x="860.54" y="1552.36" width="570.68" height="70.94" fill="#fff" stroke="#808080" stroke-width="1.2" />
<line x1="856.54" y1="1586.48" x2="860.54" y2="1586.48" stroke="#808080" stroke-width="1" />
<clipPath id="c01"><rect x="860.54" y="1552.36" width="571.68" height="72.94"/></clipPath>
<g clip-path="url(#c01)"><g fill="none" stroke-linejoin="miter" stroke-miterlimit="4" stroke-width="1.3" transform="translate(860.54 0) scale(3.3 1)">
<polyline points="0,1622.6 10.64,1622.6 13.83,1621.55 17.56,1622.6 21.07,1620.49 24.48,1622.6 48.95,1622.25 52.68,1619.79 56.19,1616.28 59.81,1589.94 63.32,1608.2 66.83,1594.15 70.45,1616.28 73.96,1594.15 77.47,1617.33 81.09,1618.74 84.6,1602.23 88.12,1612.77 91.52,1611.71 94.93,1619.79 98.65,1601.18 102.16,1613.47 105.57,1609.96 109.08,1611.01 112.59,1620.85 116,1615.23 119.51,1621.55 122.92,1620.49 126.43,1620.85 129.83,1622.25 172.93,1622.6" stroke="#de6a80"/>
<polyline points="0,1622.6 10.64,1622.6 13.83,1621.9 17.56,1622.6 24.48,1620.85 31.39,1622.6 59.6,1621.9 63.32,1622.6 77.69,1621.9 84.6,1622.25 88.12,1605.04 91.74,1619.79 98.65,1622.25 102.16,1621.55 105.57,1621.9 109.08,1618.74 112.59,1621.55 116,1621.55 119.51,1619.09 123.24,1619.79 126.64,1584.67 130.15,1598.02 133.88,1613.82 137.5,1622.25 141.01,1611.01 144.52,1590.64 147.93,1605.74 151.44,1618.74 155.06,1607.5 158.57,1620.85 162.08,1611.01 165.7,1619.79 169.21,1615.58 172.93,1619.79" stroke="#4a74c8"/>
</g></g>
<polygon points="1263.48,1567.82 1276.67,1567.82 1270.08,1581.22" fill="#c00000" />
<text x="858.3" y="1493.5" font-size="27.2" text-anchor="end" stroke="#000" stroke-width="0.6" >10</text>
<text x="858.3" y="1541.8" font-size="27.2" text-anchor="end" stroke="#000" stroke-width="0.6" >0</text>
<text x="858.8" y="1570.2" font-size="27.2" text-anchor="end" stroke="#000" stroke-width="0.6" >0.2</text>
<text x="858.3" y="1621.8" font-size="27.2" text-anchor="end" stroke="#000" stroke-width="0.6" >0</text>
<rect x="1480.54" y="1469.83" width="571.39" height="66.73" fill="#fff" stroke="#808080" stroke-width="1.2" />
<path d="M1491.96 1531.19H1537.67V1535.96H1491.96ZM1549.1 1531.19H1594.81V1535.96H1549.1ZM1606.24 1531.19H1640.52V1535.96H1606.24ZM1651.95 1531.19H1663.38V1535.96H1651.95ZM1697.66 1531.19H1720.52V1535.96H1697.66ZM1743.37 1531.19H1823.37V1535.96H1743.37ZM1834.8 1531.19H1846.22V1535.96H1834.8ZM1857.65 1531.19H1869.08V1535.96H1857.65ZM1880.51 1531.19H1891.93V1535.96H1880.51ZM1903.36 1531.19H1926.22V1535.96H1903.36ZM1937.65 1531.19H1960.5V1535.96H1937.65ZM1971.93 1531.19H1983.36V1535.96H1971.93ZM2006.21 1531.19H2040.49V1535.96H2006.21Z" fill="#8c8c8c"/>
<path d="M1629.1 1530.59v-1.32h11.43v1.32ZM1480.54 1530.59v-2.97h11.43v2.97ZM1857.65 1530.59v-1.03h11.43v1.03ZM2017.64 1530.59v-2.76h11.43v2.76ZM1503.39 1530.59v-2.36h11.43v2.36Z" fill="#8c8c8c"/>
<line x1="1480.54" y1="1530.59" x2="2051.92" y2="1530.59" stroke="#555" stroke-width="1.1" />
<path d="M1492.8 1536.56v4M1492.8 1621.55v4M1608.7 1536.56v4M1608.7 1621.55v4M1724.6 1536.56v4M1724.6 1621.55v4M1840.5 1536.56v4M1840.5 1621.55v4M1956.4 1536.56v4M1956.4 1621.55v4" stroke="#666" stroke-width="1" fill="none"/>
<rect x="1972.62" y="1478.43" width="15.6" height="15.6" fill="#9b9b9b" stroke="#222" stroke-width="1.3" />
<text x="1998.42" y="1498.43" font-size="27.2" stroke="#000" stroke-width="0.6" >C/G</text>
<rect x="1480.54" y="1547.1" width="571.39" height="74.45" fill="#fff" stroke="#808080" stroke-width="1.2" />
<line x1="1476.54" y1="1582.97" x2="1480.54" y2="1582.97" stroke="#808080" stroke-width="1" />
<clipPath id="c02"><rect x="1480.54" y="1547.1" width="572.39" height="76.45"/></clipPath>
<g clip-path="url(#c02)"><g fill="none" stroke-linejoin="miter" stroke-miterlimit="4" stroke-width="1.3" transform="translate(1480.54 0) scale(3.3 1)">
<polyline points="0,1620.85 3.72,1618.74 7.13,1620.14 10.64,1618.04 14.15,1619.09 17.56,1616.98 21.07,1614.52 24.69,1616.98 28.2,1616.28 31.71,1617.33 35.12,1613.82 38.63,1609.61 42.25,1613.47 45.76,1613.82 49.17,1618.04 52.68,1610.31 56.19,1614.52 59.81,1613.12 63.32,1601.18 66.83,1614.52 70.24,1612.07 73.75,1613.82 77.37,1594.15 80.88,1609.26 84.6,1616.28 88.01,1609.96 91.52,1618.74 98.65,1619.79 105.57,1619.79 109.08,1618.74 112.49,1620.49 116,1619.79 119.51,1608.2 123.13,1619.79 126.64,1619.79 130.05,1613.82 133.56,1619.79 137.07,1619.09 140.48,1618.04 144.2,1619.79 151.12,1620.49 155.38,1619.79 158.57,1620.85 173.15,1620.85" stroke="#de6a80"/>
<polyline points="0,1621.2 52.68,1621.2 59.81,1620.14 63.32,1621.2 77.37,1621.2 84.6,1619.79 91.52,1620.49 112.49,1620.49 116,1620.85 119.51,1618.74 123.13,1620.49 126.64,1617.33 130.05,1619.09 133.56,1620.49 137.07,1619.09 140.48,1616.28 144.2,1571.33 147.71,1613.47 151.33,1616.98 154.84,1604.69 158.35,1603.29 162.08,1611.01 165.7,1618.74 169.21,1620.85 173.15,1619.79" stroke="#4a74c8"/>
</g></g>
<polygon points="1952.31,1555.52 1965.51,1555.52 1958.91,1568.92" fill="#c00000" />
<text x="1478.3" y="1490" font-size="27.2" text-anchor="end" stroke="#000" stroke-width="0.6" >10</text>
<text x="1478.3" y="1538.3" font-size="27.2" text-anchor="end" stroke="#000" stroke-width="0.6" >0</text>
<text x="1478.3" y="1566.7" font-size="27.2" text-anchor="end" stroke="#000" stroke-width="0.6" >3</text>
<text x="1478.3" y="1618.3" font-size="27.2" text-anchor="end" stroke="#000" stroke-width="0.6" >0</text>
<rect x="236.24" y="1674.48" width="568.23" height="67.08" fill="#fff" stroke="#808080" stroke-width="1.2" />
<path d="M304.43 1736.89H315.79V1740.96H304.43ZM338.52 1736.89H349.88V1740.96H338.52ZM372.61 1736.89H383.98V1740.96H372.61ZM474.89 1736.89H486.26V1740.96H474.89ZM520.35 1736.89H531.72V1740.96H520.35ZM543.08 1736.89H554.44V1740.96H543.08ZM599.9 1736.89H611.27V1740.96H599.9ZM634 1736.89H645.36V1740.96H634ZM668.09 1736.89H679.45V1740.96H668.09ZM759.01 1736.89H770.37V1740.96H759.01Z" fill="#fb9d50"/>
<line x1="236.24" y1="1736.29" x2="804.46" y2="1736.29" stroke="#555" stroke-width="1.1" />
<rect x="520.35" y="1688.88" width="11.36" height="52.08" fill="#fb9d50" />
<path d="M520.35 1736.29v-47.41h11.36v47.41" stroke="#222" stroke-width="1" fill="none"/>
<rect x="531.72" y="1690.31" width="11.36" height="45.99" fill="#fff" />
<path d="M531.72 1736.29V1690.31H543.08V1736.29" stroke="#222" stroke-width="1" fill="none"/>
<path d="M343.7 1741.56v4M343.7 1827.6v4M457.85 1741.56v4M457.85 1827.6v4M572 1741.56v4M572 1827.6v4M686.15 1741.56v4M686.15 1827.6v4M800.3 1741.56v4M800.3 1827.6v4" stroke="#666" stroke-width="1" fill="none"/>
<rect x="725.86" y="1685.68" width="15.8" height="15.8" fill="#fb9d50" stroke="#111" stroke-width="1.6" />
<text x="750.96" y="1705.68" font-size="26.6" stroke="#000" stroke-width="0.59" >T<tspan fill="#d4862a" stroke="#d4862a" text-decoration="underline">C</tspan></text>
<rect x="236.24" y="1756.31" width="568.23" height="71.29" fill="#fff" stroke="#808080" stroke-width="1.2" />
<line x1="232.24" y1="1790.43" x2="236.24" y2="1790.43" stroke="#808080" stroke-width="1" />
<clipPath id="c10"><rect x="236.24" y="1756.31" width="569.23" height="73.29"/></clipPath>
<g clip-path="url(#c10)"><g fill="none" stroke-linejoin="miter" stroke-miterlimit="4" stroke-width="1.3" transform="translate(236.24 0) scale(3.3 1)">
<polyline points="0,1826.55 70.03,1825.85 73.43,1825.14 80.67,1826.55 84.07,1826.55 87.58,1820.58 91.1,1817.77 94.5,1822.68 98.23,1819.52 101.74,1820.58 105.14,1814.26 108.87,1810.39 112.06,1822.33 115.79,1816.01 119.19,1814.26 122.7,1821.63 126.22,1811.8 129.62,1786.86 133.35,1821.28 136.86,1819.52 140.48,1825.14 143.99,1823.04 147.5,1821.28 150.91,1814.96 154.63,1817.77 158.14,1820.58 161.55,1823.04 165.06,1824.79 168.47,1825.85 172.19,1824.09" stroke="#4a74c8"/>
<polyline points="0,1825.85 6.7,1824.79 10.43,1826.55 16.81,1823.74 20.54,1824.79 27.46,1821.98 34.37,1824.79 38.1,1825.85 41.82,1818.82 45.34,1825.14 48.74,1823.04 52.47,1823.74 59.38,1817.77 63.11,1823.04 66.51,1818.82 70.03,1823.74 73.43,1811.8 76.94,1818.82 80.67,1824.09 84.07,1818.47 87.58,1804.77 91.1,1819.52 94.5,1813.55 98.23,1814.96 101.74,1825.85 105.14,1825.85 108.87,1821.63 112.06,1825.85 115.79,1824.79 119.19,1825.85 122.7,1797.4 126.22,1826.55 172.19,1826.55" stroke="#de6a80"/>
</g></g>
<polygon points="661.65,1770.36 674.85,1770.36 668.25,1783.76" fill="#c00000" />
<text x="228.5" y="1696.6" font-size="27.2" text-anchor="end" stroke="#000" stroke-width="0.6" >60</text>
<text x="228.5" y="1746.8" font-size="27.2" text-anchor="end" stroke="#000" stroke-width="0.6" >0</text>
<text x="229" y="1774.7" font-size="27.2" text-anchor="end" stroke="#000" stroke-width="0.6" >0.2</text>
<text x="228.5" y="1827" font-size="27.2" text-anchor="end" stroke="#000" stroke-width="0.6" >0</text>
<text x="142" y="1704" font-size="27.4" text-anchor="middle" stroke="#000" stroke-width="0.6" >Sub</text>
<text x="142" y="1738.3" font-size="27.4" text-anchor="middle" stroke="#000" stroke-width="0.6" >(%)</text>
<text x="142.8" y="1784" font-size="27.4" text-anchor="middle" stroke="#000" stroke-width="0.6" >Del(<tspan font-weight="bold" fill="#de6a80" stroke="#de6a80">b</tspan><tspan font-weight="bold" fill="#4a74c8" stroke="#4a74c8">d</tspan>)</text>
<text x="145.5" y="1818.4" font-size="27.4" text-anchor="middle" stroke="#000" stroke-width="0.6" >(%)</text>
<rect x="860.54" y="1675.54" width="568.93" height="69.54" fill="#fff" stroke="#808080" stroke-width="1.2" />
<path d="M871.91 1739.7H883.29V1744.47H871.91ZM894.67 1739.7H906.05V1744.47H894.67ZM1099.49 1739.7H1110.86V1744.47H1099.49ZM1133.62 1739.7H1145V1744.47H1133.62ZM1201.89 1739.7H1213.27V1744.47H1201.89ZM1292.92 1739.7H1304.3V1744.47H1292.92ZM1383.95 1739.7H1395.33V1744.47H1383.95Z" fill="#fb9d50"/>
<line x1="860.54" y1="1739.1" x2="1429.46" y2="1739.1" stroke="#555" stroke-width="1.1" />
<rect x="1099.49" y="1727.15" width="11.38" height="17.32" fill="#fb9d50" />
<path d="M1099.49 1739.1v-11.95h11.38v11.95" stroke="#222" stroke-width="1" fill="none"/>
<rect x="1133.62" y="1707.13" width="11.38" height="37.34" fill="#fb9d50" />
<path d="M1133.62 1739.1v-31.97h11.38v31.97" stroke="#222" stroke-width="1" fill="none"/>
<rect x="1201.89" y="1737" width="11.38" height="7.47" fill="#fb9d50" />
<path d="M1201.89 1739.1v-2.1h11.38v2.1" stroke="#222" stroke-width="1" fill="none"/>
<path d="M930.1 1745.07v4M930.1 1829.01v4M1046 1745.07v4M1046 1829.01v4M1161.9 1745.07v4M1161.9 1829.01v4M1277.8 1745.07v4M1277.8 1829.01v4M1393.7 1745.07v4M1393.7 1829.01v4" stroke="#666" stroke-width="1" fill="none"/>
<rect x="1350.86" y="1686.74" width="15.8" height="15.8" fill="#fb9d50" stroke="#111" stroke-width="1.6" />
<text x="1375.96" y="1706.74" font-size="26.6" stroke="#000" stroke-width="0.59" >T<tspan fill="#d4862a" stroke="#d4862a" text-decoration="underline">C</tspan></text>
<rect x="860.54" y="1755.61" width="568.93" height="73.4" fill="#fff" stroke="#808080" stroke-width="1.2" />
<line x1="856.54" y1="1790.78" x2="860.54" y2="1790.78" stroke="#808080" stroke-width="1" />
<clipPath id="c11"><rect x="860.54" y="1755.61" width="569.93" height="75.4"/></clipPath>
<g clip-path="url(#c11)"><g fill="none" stroke-linejoin="miter" stroke-miterlimit="4" stroke-width="1.3" transform="translate(860.54 0) scale(3.3 1)">
<polyline points="0,1827.95 7.45,1827.95 10.64,1826.9 14.37,1827.95 48.95,1827.95 52.68,1823.74 56.19,1819.52 59.81,1813.2 63.32,1812.5 66.83,1804.42 70.24,1819.52 73.75,1766.85 77.37,1797.75 80.88,1806.18 84.39,1778.08 87.8,1764.04 91.52,1798.45 94.93,1816.01 98.44,1799.86 101.95,1822.33 105.57,1821.28 109.08,1823.74 112.49,1817.77 116,1824.79 119.51,1826.9 126.43,1826.55 129.83,1827.6 172.4,1827.95" stroke="#de6a80"/>
<polyline points="0,1827.95 80.88,1827.95 84.39,1814.26 87.8,1804.07 91.31,1816.71 94.93,1816.71 98.44,1819.52 101.95,1819.52 105.36,1792.48 108.87,1800.21 112.49,1804.42 116,1785.11 119.51,1800.21 123.13,1784.4 126.43,1806.53 130.05,1796.7 133.77,1820.58 137.28,1822.33 140.8,1820.58 144.41,1819.88 147.71,1816.36 151.33,1825.49 154.84,1819.52 158.35,1824.79 161.76,1823.04 165.27,1827.25 169,1825.14 172.4,1827.25" stroke="#4a74c8"/>
</g></g>
<polygon points="1263.48,1764.04 1276.67,1764.04 1270.08,1777.44" fill="#c00000" />
<text x="858.3" y="1698.1" font-size="27.2" text-anchor="end" stroke="#000" stroke-width="0.6" >80</text>
<text x="858.3" y="1748.3" font-size="27.2" text-anchor="end" stroke="#000" stroke-width="0.6" >0</text>
<text x="858.8" y="1776.2" font-size="27.2" text-anchor="end" stroke="#000" stroke-width="0.6" >0.2</text>
<text x="858.3" y="1828.5" font-size="27.2" text-anchor="end" stroke="#000" stroke-width="0.6" >0</text>
<rect x="1480.54" y="1671.32" width="568.93" height="70.24" fill="#fff" stroke="#808080" stroke-width="1.2" />
<path d="M1651.21 1736.54H1662.59V1740.96H1651.21ZM1696.73 1736.54H1708.11V1740.96H1696.73ZM1833.27 1736.54H1844.65V1740.96H1833.27ZM1878.79 1736.54H1890.16V1740.96H1878.79ZM1969.81 1736.54H1981.19V1740.96H1969.81Z" fill="#fb9d50"/>
<line x1="1480.54" y1="1735.94" x2="2049.46" y2="1735.94" stroke="#555" stroke-width="1.1" />
<rect x="1787.76" y="1734" width="11.38" height="1.94" fill="#fff" />
<rect x="1799.14" y="1701.18" width="11.38" height="34.77" fill="#fff" />
<rect x="1810.51" y="1694.13" width="11.38" height="41.81" fill="#fff" />
<rect x="1856.03" y="1728.19" width="11.38" height="7.75" fill="#fff" />
<path d="M1787.76 1735.94V1734H1799.14V1701.18H1810.51V1694.13H1821.89V1735.94" stroke="#222" stroke-width="1" fill="none"/>
<path d="M1856.03 1735.94V1728.19H1867.41V1735.94" stroke="#222" stroke-width="1" fill="none"/>
<path d="M1492.8 1741.56v4M1492.8 1826.55v4M1608.7 1741.56v4M1608.7 1826.55v4M1724.6 1741.56v4M1724.6 1826.55v4M1840.5 1741.56v4M1840.5 1826.55v4M1956.4 1741.56v4M1956.4 1826.55v4" stroke="#666" stroke-width="1" fill="none"/>
<rect x="1970.86" y="1682.52" width="15.8" height="15.8" fill="#fb9d50" stroke="#111" stroke-width="1.6" />
<text x="1995.96" y="1702.52" font-size="26.6" stroke="#000" stroke-width="0.59" >T<tspan fill="#d4862a" stroke="#d4862a" text-decoration="underline">C</tspan></text>
<rect x="1480.54" y="1752.8" width="568.93" height="73.75" fill="#fff" stroke="#808080" stroke-width="1.2" />
<line x1="1476.54" y1="1788.15" x2="1480.54" y2="1788.15" stroke="#808080" stroke-width="1" />
<clipPath id="c12"><rect x="1480.54" y="1752.8" width="569.93" height="75.75"/></clipPath>
<g clip-path="url(#c12)"><g fill="none" stroke-linejoin="miter" stroke-miterlimit="4" stroke-width="1.3" transform="translate(1480.54 0) scale(3.3 1)">
<polyline points="0,1821.98 3.72,1823.74 10.64,1824.09 14.15,1823.74 17.56,1820.58 21.07,1821.98 24.69,1820.58 28.2,1820.58 31.71,1818.47 35.12,1817.77 38.63,1818.12 42.25,1817.07 45.76,1815.31 49.17,1818.47 52.68,1806.18 56.19,1813.55 59.81,1811.45 63.32,1810.04 66.83,1809.69 70.24,1807.93 73.75,1814.26 77.37,1790.73 80.88,1807.23 84.6,1808.99 88.01,1795.99 91.52,1799.15 94.93,1806.53 98.44,1804.77 102.16,1808.29 105.57,1815.31 109.08,1800.56 112.49,1816.01 116,1818.82 119.51,1821.28 123.13,1816.01 126.64,1822.33 130.05,1820.58 133.56,1823.74 137.07,1824.79 144.2,1824.09 151.12,1825.49 158.57,1825.49 172.4,1824.79" stroke="#de6a80"/>
<polyline points="0,1825.85 35.12,1825.85 45.76,1824.79 70.24,1824.44 77.37,1825.49 84.6,1824.09 91.52,1824.79 94.93,1820.58 98.44,1816.01 102.16,1814.26 105.57,1816.01 109.08,1819.52 112.49,1784.4 116,1786.16 119.51,1792.13 123.13,1801.26 126.64,1773.17 130.05,1803.72 133.56,1810.04 137.07,1801.96 140.48,1803.02 144.2,1783.35 147.71,1816.71 151.33,1818.12 154.84,1806.53 158.35,1800.91 162.08,1818.12 165.7,1817.77 169.21,1823.04 172.4,1821.63" stroke="#4a74c8"/>
</g></g>
<polygon points="1953.01,1765.09 1966.21,1765.09 1959.61,1778.49" fill="#c00000" />
<text x="1478.3" y="1694.6" font-size="27.2" text-anchor="end" stroke="#000" stroke-width="0.6" >80</text>
<text x="1478.3" y="1744.8" font-size="27.2" text-anchor="end" stroke="#000" stroke-width="0.6" >0</text>
<text x="1478.8" y="1772.7" font-size="27.2" text-anchor="end" stroke="#000" stroke-width="0.6" >0.2</text>
<text x="1478.3" y="1825" font-size="27.2" text-anchor="end" stroke="#000" stroke-width="0.6" >0</text>
<rect x="236.24" y="1892.73" width="568.23" height="66.73" fill="#fff" stroke="#808080" stroke-width="1.2" />
<path d="M304.43 1954.43H315.79V1958.85H304.43ZM338.52 1954.43H349.88V1958.85H338.52ZM372.61 1954.43H383.98V1958.85H372.61ZM474.89 1954.43H486.26V1958.85H474.89ZM520.35 1954.43H531.72V1958.85H520.35ZM543.08 1954.43H554.44V1958.85H543.08ZM599.9 1954.43H611.27V1958.85H599.9ZM634 1954.43H645.36V1958.85H634ZM668.09 1954.43H679.45V1958.85H668.09ZM759.01 1954.43H770.37V1958.85H759.01Z" fill="#fb9d50"/>
<line x1="236.24" y1="1953.83" x2="804.46" y2="1953.83" stroke="#555" stroke-width="1.1" />
<rect x="520.35" y="1908.19" width="11.36" height="50.67" fill="#fb9d50" />
<path d="M520.35 1953.83v-45.65h11.36v45.65" stroke="#222" stroke-width="1" fill="none"/>
<rect x="531.72" y="1944.67" width="11.36" height="9.17" fill="#fff" />
<path d="M531.72 1953.83V1944.67H543.08V1953.83" stroke="#222" stroke-width="1" fill="none"/>
<path d="M343.7 1959.45v4M343.7 2041.28v4M457.85 1959.45v4M457.85 2041.28v4M572 1959.45v4M572 2041.28v4M686.15 1959.45v4M686.15 2041.28v4M800.3 1959.45v4M800.3 2041.28v4" stroke="#666" stroke-width="1" fill="none"/>
<rect x="725.86" y="1903.93" width="15.8" height="15.8" fill="#fb9d50" stroke="#111" stroke-width="1.6" />
<text x="750.96" y="1923.93" font-size="26.6" stroke="#000" stroke-width="0.59" >T<tspan fill="#d4862a" stroke="#d4862a" text-decoration="underline">C</tspan></text>
<rect x="236.24" y="1969.99" width="568.23" height="71.29" fill="#fff" stroke="#808080" stroke-width="1.2" />
<line x1="232.24" y1="2004.11" x2="236.24" y2="2004.11" stroke="#808080" stroke-width="1" />
<clipPath id="c20"><rect x="236.24" y="1969.99" width="569.23" height="73.29"/></clipPath>
<g clip-path="url(#c20)"><g fill="none" stroke-linejoin="miter" stroke-miterlimit="4" stroke-width="1.3" transform="translate(236.24 0) scale(3.3 1)">
<polyline points="0,2040.23 84.07,2040.23 87.58,2039.52 91.1,2037.77 94.72,2039.52 98.23,2035.31 101.74,2028.29 105.14,2024.77 108.87,2020.21 112.38,2034.26 115.79,2027.23 119.19,2012.13 122.7,2032.5 126.22,2024.77 129.62,1986.85 133.35,2039.52 136.86,2039.52 150.91,2039.52 154.63,2038.82 158.35,2039.52 172.19,2039.88" stroke="#4a74c8"/>
<polyline points="0,2040.23 38.63,2039.88 41.82,2038.47 45.02,2039.88 70.03,2039.88 73.43,2037.42 76.94,2037.77 80.67,2039.52 84.07,2036.71 87.58,2012.13 91.31,2031.8 94.72,1996.33 98.23,2018.45 101.74,2039.52 105.14,2039.52 108.87,2027.23 112.38,2039.52 115.79,2038.82 119.19,2039.52 122.7,1986.14 126.22,2040.23 172.19,2040.23" stroke="#de6a80"/>
</g></g>
<polygon points="661.65,1968.58 674.85,1968.58 668.25,1981.98" fill="#c00000" />
<text x="228.5" y="1911" font-size="27.2" text-anchor="end" stroke="#000" stroke-width="0.6" >60</text>
<text x="228.5" y="1961.8" font-size="27.2" text-anchor="end" stroke="#000" stroke-width="0.6" >0</text>
<text x="228.5" y="1989.4" font-size="27.2" text-anchor="end" stroke="#000" stroke-width="0.6" >5</text>
<text x="228.5" y="2040.7" font-size="27.2" text-anchor="end" stroke="#000" stroke-width="0.6" >0</text>
<text x="142" y="1918.9" font-size="27.4" text-anchor="middle" stroke="#000" stroke-width="0.6" >Sub</text>
<text x="142" y="1953.8" font-size="27.4" text-anchor="middle" stroke="#000" stroke-width="0.6" >(%)</text>
<text x="142.8" y="1999.4" font-size="27.4" text-anchor="middle" stroke="#000" stroke-width="0.6" >Del(<tspan font-weight="bold" fill="#de6a80" stroke="#de6a80">b</tspan><tspan font-weight="bold" fill="#4a74c8" stroke="#4a74c8">d</tspan>)</text>
<text x="145.5" y="2033.3" font-size="27.4" text-anchor="middle" stroke="#000" stroke-width="0.6" >(%)</text>
<rect x="862.99" y="1892.73" width="568.23" height="67.78" fill="#fff" stroke="#808080" stroke-width="1.2" />
<path d="M874.36 1955.14H885.72V1959.91H874.36ZM897.09 1955.14H908.45V1959.91H897.09ZM1101.65 1955.14H1113.01V1959.91H1101.65ZM1135.74 1955.14H1147.11V1959.91H1135.74ZM1203.93 1955.14H1215.29V1959.91H1203.93ZM1294.85 1955.14H1306.21V1959.91H1294.85ZM1385.76 1955.14H1397.13V1959.91H1385.76Z" fill="#fb9d50"/>
<line x1="862.99" y1="1954.54" x2="1431.22" y2="1954.54" stroke="#555" stroke-width="1.1" />
<rect x="1135.74" y="1911.27" width="11.36" height="48.64" fill="#fb9d50" />
<path d="M1135.74 1954.54v-43.27h11.36v43.27" stroke="#222" stroke-width="1" fill="none"/>
<rect x="1101.65" y="1953.79" width="11.36" height="6.11" fill="#fb9d50" />
<path d="M1101.65 1954.54v-0.74h11.36v0.74" stroke="#222" stroke-width="1" fill="none"/>
<path d="M930.1 1960.51v4M930.1 2045.49v4M1046 1960.51v4M1046 2045.49v4M1161.9 1960.51v4M1161.9 2045.49v4M1277.8 1960.51v4M1277.8 2045.49v4M1393.7 1960.51v4M1393.7 2045.49v4" stroke="#666" stroke-width="1" fill="none"/>
<rect x="1352.62" y="1903.93" width="15.8" height="15.8" fill="#fb9d50" stroke="#111" stroke-width="1.6" />
<text x="1377.72" y="1923.93" font-size="26.6" stroke="#000" stroke-width="0.59" >T<tspan fill="#d4862a" stroke="#d4862a" text-decoration="underline">C</tspan></text>
<rect x="862.99" y="1969.99" width="568.23" height="75.51" fill="#fff" stroke="#808080" stroke-width="1.2" />
<line x1="858.99" y1="2006.39" x2="862.99" y2="2006.39" stroke="#808080" stroke-width="1" />
<clipPath id="c21"><rect x="862.99" y="1969.99" width="569.23" height="77.51"/></clipPath>
<g clip-path="url(#c21)"><g fill="none" stroke-linejoin="miter" stroke-miterlimit="4" stroke-width="1.3" transform="translate(862.99 0) scale(3.3 1)">
<polyline points="0,2044.79 51.93,2044.79 55.66,2043.74 59.06,2041.98 66.09,2040.23 70.03,2043.04 73.54,2030.74 76.94,2035.31 80.67,2036.71 84.18,2004.4 87.58,1996.68 91.1,2032.5 94.5,2038.82 98.01,2015.99 101.42,2041.98 104.83,2043.04 108.34,2041.98 112.06,2038.82 115.47,2044.09 118.98,2044.79 172.19,2044.79" stroke="#de6a80"/>
<polyline points="0,2044.79 80.67,2044.79 84.18,2043.04 87.58,2036.71 91.1,2041.28 94.5,2038.82 98.01,2033.55 101.42,2038.82 105.14,2006.51 108.55,2034.26 112.06,2033.2 115.47,2025.48 119.19,2019.15 122.7,2019.86 126.11,2038.82 129.62,2034.26 133.35,2043.74 136.54,2043.74 143.67,2044.09 147.18,2041.98 150.59,2044.79 157.82,2044.09 172.19,2044.79" stroke="#4a74c8"/>
</g></g>
<polygon points="1263.48,1999.84 1276.67,1999.84 1270.08,2013.24" fill="#c00000" />
<text x="858.3" y="1912.5" font-size="27.2" text-anchor="end" stroke="#000" stroke-width="0.6" >80</text>
<text x="858.3" y="1963.3" font-size="27.2" text-anchor="end" stroke="#000" stroke-width="0.6" >0</text>
<text x="858.3" y="1990.9" font-size="27.2" text-anchor="end" stroke="#000" stroke-width="0.6" >2</text>
<text x="858.3" y="2042.2" font-size="27.2" text-anchor="end" stroke="#000" stroke-width="0.6" >0</text>
<rect x="1483.35" y="1889.21" width="568.58" height="69.54" fill="#fff" stroke="#808080" stroke-width="1.2" />
<path d="M1653.92 1953.03H1665.29V1958.15H1653.92ZM1699.4 1953.03H1710.78V1958.15H1699.4ZM1835.86 1953.03H1847.23V1958.15H1835.86ZM1881.35 1953.03H1892.72V1958.15H1881.35ZM1972.32 1953.03H1983.69V1958.15H1972.32Z" fill="#fb9d50"/>
<line x1="1483.35" y1="1952.43" x2="2051.92" y2="1952.43" stroke="#555" stroke-width="1.1" />
<rect x="1801.75" y="1948.89" width="11.37" height="3.54" fill="#fff" />
<rect x="1813.12" y="1940.42" width="11.37" height="12.01" fill="#fff" />
<rect x="1858.61" y="1951.8" width="11.37" height="0.63" fill="#fff" />
<path d="M1801.75 1952.43V1948.89H1813.12V1940.42H1824.49V1952.43" stroke="#222" stroke-width="1" fill="none"/>
<path d="M1858.61 1952.43V1951.8H1869.98V1952.43" stroke="#222" stroke-width="1" fill="none"/>
<path d="M1492.8 1958.75v4M1492.8 2043.04v4M1608.7 1958.75v4M1608.7 2043.04v4M1724.6 1958.75v4M1724.6 2043.04v4M1840.5 1958.75v4M1840.5 2043.04v4M1956.4 1958.75v4M1956.4 2043.04v4" stroke="#666" stroke-width="1" fill="none"/>
<rect x="1973.32" y="1900.41" width="15.8" height="15.8" fill="#fb9d50" stroke="#111" stroke-width="1.6" />
<text x="1998.42" y="1920.41" font-size="26.6" stroke="#000" stroke-width="0.59" >T<tspan fill="#d4862a" stroke="#d4862a" text-decoration="underline">C</tspan></text>
<rect x="1483.35" y="1967.53" width="568.58" height="75.51" fill="#fff" stroke="#808080" stroke-width="1.2" />
<line x1="1479.35" y1="2003.76" x2="1483.35" y2="2003.76" stroke="#808080" stroke-width="1" />
<clipPath id="c22"><rect x="1483.35" y="1967.53" width="569.58" height="77.51"/></clipPath>
<g clip-path="url(#c22)"><g fill="none" stroke-linejoin="miter" stroke-miterlimit="4" stroke-width="1.3" transform="translate(1483.35 0) scale(3.3 1)">
<polyline points="0,2041.98 3.41,2040.23 6.92,2041.98 14.05,2041.63 17.56,2039.52 20.97,2040.93 24.48,2040.23 28.1,2040.58 31.61,2038.82 35.01,2036.71 38.52,2039.52 42.04,2037.07 45.65,2038.47 49.17,2040.58 52.68,2036.36 56.3,2037.07 59.81,2036.71 63.32,2034.96 66.94,2037.77 70.45,2036.01 73.96,2037.07 77.37,2015.99 80.88,2037.07 84.29,2037.77 87.8,2027.23 91.42,2036.71 94.93,2037.07 98.44,2034.96 101.85,2031.8 105.36,2037.07 108.98,2030.04 112.49,2037.77 116,2039.52 119.4,2033.2 122.92,2036.71 126.53,2041.98 130.05,2037.77 133.56,2041.28 137.18,2041.98 140.69,2041.28 144.2,2041.98 172.3,2041.98" stroke="#de6a80"/>
<polyline points="0,2042.33 38.52,2042.33 59.81,2041.98 84.29,2041.63 91.42,2041.28 94.93,2040.23 98.44,2038.82 101.85,2038.47 105.36,2038.82 108.98,2041.28 112.49,2028.99 116,2034.26 119.4,2031.45 122.92,2034.96 126.53,2028.29 130.05,2031.45 133.56,2036.71 137.18,2035.31 140.69,2032.5 144.2,1993.17 147.61,2034.26 151.12,2039.52 154.52,2028.99 158.04,2025.48 161.65,2036.01 165.17,2038.47 168.68,2041.98 172.3,2040.58" stroke="#4a74c8"/>
</g></g>
<polygon points="1954.06,1978.07 1967.26,1978.07 1960.66,1991.47" fill="#c00000" />
<text x="1478.3" y="1909" font-size="27.2" text-anchor="end" stroke="#000" stroke-width="0.6" >80</text>
<text x="1478.3" y="1959.8" font-size="27.2" text-anchor="end" stroke="#000" stroke-width="0.6" >0</text>
<text x="1478.3" y="1987.4" font-size="27.2" text-anchor="end" stroke="#000" stroke-width="0.6" >2</text>
<text x="1478.3" y="2038.7" font-size="27.2" text-anchor="end" stroke="#000" stroke-width="0.6" >0</text>
<rect x="236.24" y="2115.54" width="568.23" height="67.43" fill="#fff" stroke="#808080" stroke-width="1.2" />
<path d="M304.43 2178.3H315.79V2182.36H304.43ZM338.52 2178.3H349.88V2182.36H338.52ZM372.61 2178.3H383.98V2182.36H372.61ZM474.89 2178.3H486.26V2182.36H474.89ZM520.35 2178.3H531.72V2182.36H520.35ZM543.08 2178.3H554.44V2182.36H543.08ZM599.9 2178.3H611.27V2182.36H599.9ZM634 2178.3H645.36V2182.36H634ZM668.09 2178.3H679.45V2182.36H668.09ZM759.01 2178.3H770.37V2182.36H759.01Z" fill="#fb9d50"/>
<line x1="236.24" y1="2177.7" x2="804.46" y2="2177.7" stroke="#555" stroke-width="1.1" />
<rect x="520.35" y="2143.63" width="11.36" height="38.73" fill="#fb9d50" />
<path d="M520.35 2177.7v-34.06h11.36v34.06" stroke="#222" stroke-width="1" fill="none"/>
<rect x="531.72" y="2156.25" width="11.36" height="21.45" fill="#fff" />
<rect x="577.17" y="2175.52" width="11.36" height="2.18" fill="#fff" />
<path d="M531.72 2177.7V2156.25H543.08V2177.7" stroke="#222" stroke-width="1" fill="none"/>
<path d="M577.17 2177.7V2175.52H588.54V2177.7" stroke="#222" stroke-width="1" fill="none"/>
<path d="M343.7 2182.96v4M343.7 2268.3v4M457.85 2182.96v4M457.85 2268.3v4M572 2182.96v4M572 2268.3v4M686.15 2182.96v4M686.15 2268.3v4M800.3 2182.96v4M800.3 2268.3v4" stroke="#666" stroke-width="1" fill="none"/>
<rect x="725.86" y="2126.74" width="15.8" height="15.8" fill="#fb9d50" stroke="#111" stroke-width="1.6" />
<text x="750.96" y="2146.74" font-size="26.6" stroke="#000" stroke-width="0.59" >T<tspan fill="#d4862a" stroke="#d4862a" text-decoration="underline">C</tspan></text>
<rect x="236.24" y="2192.8" width="568.23" height="75.51" fill="#fff" stroke="#808080" stroke-width="1.2" />
<line x1="232.24" y1="2229.02" x2="236.24" y2="2229.02" stroke="#808080" stroke-width="1" />
<clipPath id="c30"><rect x="236.24" y="2192.8" width="569.23" height="77.51"/></clipPath>
<g clip-path="url(#c30)"><g fill="none" stroke-linejoin="miter" stroke-miterlimit="4" stroke-width="1.3" transform="translate(236.24 0) scale(3.3 1)">
<polyline points="0,2267.25 81.2,2267.25 84.71,2265.85 88.12,2259.52 91.63,2249.69 95.03,2261.98 98.55,2252.5 101.95,2254.26 105.36,2243.02 109.08,2244.77 112.59,2258.82 116.32,2213.17 119.72,2237.75 123.24,2259.52 126.64,2247.23 130.15,2238.45 133.67,2264.79 137.07,2263.74 140.8,2265.85 144.2,2262.33 147.71,2264.79 151.12,2263.04 154.84,2256.01 158.35,2263.74 162.08,2264.79 169,2266.55 172.19,2264.79" stroke="#4a74c8"/>
<polyline points="0,2266.55 7.24,2265.85 14.15,2266.55 21.07,2263.74 27.99,2266.55 31.71,2259.52 38.63,2266.55 42.36,2256.01 45.76,2264.79 49.27,2263.74 53,2264.79 56.19,2263.04 59.92,2258.47 63.43,2263.04 66.83,2260.58 70.56,2264.79 74.07,2256.01 77.47,2259.52 81.2,2264.79 84.71,2259.52 88.12,2240.21 91.63,2257.77 95.03,2243.02 98.55,2245.48 101.95,2265.85 105.36,2265.85 109.08,2213.17 112.59,2266.55 116,2265.85 119.51,2266.55 123.02,2212.46 126.64,2267.25 172.19,2267.25" stroke="#de6a80"/>
</g></g>
<polygon points="661.65,2220.19 674.85,2220.19 668.25,2233.59" fill="#c00000" />
<text x="228.5" y="2134.5" font-size="27.2" text-anchor="end" stroke="#000" stroke-width="0.6" >60</text>
<text x="228.5" y="2185.5" font-size="27.2" text-anchor="end" stroke="#000" stroke-width="0.6" >0</text>
<text x="229" y="2207.4" font-size="27.2" text-anchor="end" stroke="#000" stroke-width="0.6" >0.4</text>
<text x="228.5" y="2259.3" font-size="27.2" text-anchor="end" stroke="#000" stroke-width="0.6" >0</text>
<text x="142" y="2142.5" font-size="27.4" text-anchor="middle" stroke="#000" stroke-width="0.6" >Sub</text>
<text x="142" y="2177.5" font-size="27.4" text-anchor="middle" stroke="#000" stroke-width="0.6" >(%)</text>
<text x="142.8" y="2217.4" font-size="27.4" text-anchor="middle" stroke="#000" stroke-width="0.6" >Del(<tspan font-weight="bold" fill="#de6a80" stroke="#de6a80">b</tspan><tspan font-weight="bold" fill="#4a74c8" stroke="#4a74c8">d</tspan>)</text>
<text x="145.5" y="2252.4" font-size="27.4" text-anchor="middle" stroke="#000" stroke-width="0.6" >(%)</text>
<rect x="862.99" y="2115.54" width="568.23" height="68.48" fill="#fff" stroke="#808080" stroke-width="1.2" />
<path d="M874.36 2179H885.72V2183.42H874.36ZM897.09 2179H908.45V2183.42H897.09ZM1101.65 2179H1113.01V2183.42H1101.65ZM1135.74 2179H1147.11V2183.42H1135.74ZM1203.93 2179H1215.29V2183.42H1203.93ZM1294.85 2179H1306.21V2183.42H1294.85ZM1385.76 2179H1397.13V2183.42H1385.76Z" fill="#fb9d50"/>
<line x1="862.99" y1="2178.4" x2="1431.22" y2="2178.4" stroke="#555" stroke-width="1.1" />
<rect x="1101.65" y="2173.5" width="11.36" height="9.92" fill="#fb9d50" />
<path d="M1101.65 2178.4v-4.9h11.36v4.9" stroke="#222" stroke-width="1" fill="none"/>
<rect x="1135.74" y="2149.61" width="11.36" height="33.81" fill="#fb9d50" />
<path d="M1135.74 2178.4v-28.79h11.36v28.79" stroke="#222" stroke-width="1" fill="none"/>
<rect x="1203.93" y="2176.64" width="11.36" height="6.78" fill="#fb9d50" />
<path d="M1203.93 2178.4v-1.76h11.36v1.76" stroke="#222" stroke-width="1" fill="none"/>
<path d="M930.1 2184.02v4M930.1 2265.49v4M1046 2184.02v4M1046 2265.49v4M1161.9 2184.02v4M1161.9 2265.49v4M1277.8 2184.02v4M1277.8 2265.49v4M1393.7 2184.02v4M1393.7 2265.49v4" stroke="#666" stroke-width="1" fill="none"/>
<rect x="1352.62" y="2126.74" width="15.8" height="15.8" fill="#fb9d50" stroke="#111" stroke-width="1.6" />
<text x="1377.72" y="2146.74" font-size="26.6" stroke="#000" stroke-width="0.59" >T<tspan fill="#d4862a" stroke="#d4862a" text-decoration="underline">C</tspan></text>
<rect x="862.99" y="2191.04" width="568.23" height="74.45" fill="#fff" stroke="#808080" stroke-width="1.2" />
<line x1="858.99" y1="2226.92" x2="862.99" y2="2226.92" stroke="#808080" stroke-width="1" />
<clipPath id="c31"><rect x="862.99" y="2191.04" width="569.23" height="76.45"/></clipPath>
<g clip-path="url(#c31)"><g fill="none" stroke-linejoin="miter" stroke-miterlimit="4" stroke-width="1.3" transform="translate(862.99 0) scale(3.3 1)">
<polyline points="0,2264.79 51.93,2264.79 55.66,2263.04 59.38,2258.82 62.9,2258.82 66.3,2254.26 70.03,2260.58 73.54,2227.92 77.16,2247.93 80.67,2248.99 84.18,2210.36 87.8,2227.92 91.31,2250.04 94.72,2259.52 98.01,2238.45 101.74,2260.23 105.14,2258.47 108.66,2259.52 112.06,2255.31 115.79,2263.04 119.19,2264.09 122.7,2264.09 126.11,2263.74 129.62,2264.79 172.19,2264.79" stroke="#de6a80"/>
<polyline points="0,2264.79 80.67,2264.79 84.18,2261.28 87.58,2256.01 91.1,2261.98 94.72,2261.28 98.23,2262.33 101.74,2263.04 105.14,2229.67 108.66,2247.93 112.27,2231.43 115.79,2235.99 119.19,2239.15 122.7,2228.62 126.11,2251.45 129.62,2244.07 133.35,2259.52 136.75,2261.28 140.26,2261.28 143.67,2263.04 147.18,2259.52 150.69,2264.09 154.31,2260.93 157.82,2262.33 161.33,2263.04 164.74,2264.79 168.47,2263.39 172.19,2264.79" stroke="#4a74c8"/>
</g></g>
<polygon points="1264.53,2207.55 1277.73,2207.55 1271.13,2220.95" fill="#c00000" />
<text x="858.3" y="2136" font-size="27.2" text-anchor="end" stroke="#000" stroke-width="0.6" >80</text>
<text x="858.3" y="2187" font-size="27.2" text-anchor="end" stroke="#000" stroke-width="0.6" >0</text>
<text x="858.3" y="2208.9" font-size="27.2" text-anchor="end" stroke="#000" stroke-width="0.6" >2</text>
<text x="858.3" y="2260.8" font-size="27.2" text-anchor="end" stroke="#000" stroke-width="0.6" >0</text>
<rect x="1482.29" y="2115.54" width="569.63" height="66.73" fill="#fff" stroke="#808080" stroke-width="1.2" />
<path d="M1653.18 2177.59H1664.57V2181.66H1653.18ZM1698.75 2177.59H1710.14V2181.66H1698.75ZM1835.46 2177.59H1846.86V2181.66H1835.46ZM1881.03 2177.59H1892.43V2181.66H1881.03ZM1972.17 2177.59H1983.57V2181.66H1972.17Z" fill="#fb9d50"/>
<line x1="1482.29" y1="2176.99" x2="2051.92" y2="2176.99" stroke="#555" stroke-width="1.1" />
<rect x="1789.89" y="2176.26" width="11.39" height="0.74" fill="#fff" />
<rect x="1801.29" y="2169.62" width="11.39" height="7.38" fill="#fff" />
<rect x="1812.68" y="2165.32" width="11.39" height="11.68" fill="#fff" />
<rect x="1858.25" y="2160.4" width="11.39" height="16.59" fill="#fff" />
<path d="M1789.89 2176.99V2176.26H1801.29V2169.62H1812.68V2165.32H1824.07V2176.99" stroke="#222" stroke-width="1" fill="none"/>
<path d="M1858.25 2176.99V2160.4H1869.64V2176.99" stroke="#222" stroke-width="1" fill="none"/>
<path d="M1492.8 2182.26v4M1492.8 2266.55v4M1608.7 2182.26v4M1608.7 2266.55v4M1724.6 2182.26v4M1724.6 2266.55v4M1840.5 2182.26v4M1840.5 2266.55v4M1956.4 2182.26v4M1956.4 2266.55v4" stroke="#666" stroke-width="1" fill="none"/>
<rect x="1973.32" y="2126.74" width="15.8" height="15.8" fill="#fb9d50" stroke="#111" stroke-width="1.6" />
<text x="1998.42" y="2146.74" font-size="26.6" stroke="#000" stroke-width="0.59" >T<tspan fill="#d4862a" stroke="#d4862a" text-decoration="underline">C</tspan></text>
<rect x="1482.29" y="2191.04" width="569.63" height="75.51" fill="#fff" stroke="#808080" stroke-width="1.2" />
<line x1="1478.29" y1="2227.27" x2="1482.29" y2="2227.27" stroke="#808080" stroke-width="1" />
<clipPath id="c32"><rect x="1482.29" y="2191.04" width="570.63" height="77.51"/></clipPath>
<g clip-path="url(#c32)"><g fill="none" stroke-linejoin="miter" stroke-miterlimit="4" stroke-width="1.3" transform="translate(1482.29 0) scale(3.3 1)">
<polyline points="0,2264.79 6.92,2264.79 13.83,2264.09 17.35,2261.98 20.75,2263.74 24.48,2263.04 27.99,2263.04 31.39,2260.23 34.91,2259.52 38.52,2261.28 42.04,2258.47 45.55,2256.71 49.17,2259.88 52.68,2248.29 56.19,2257.07 59.81,2252.5 63.32,2251.8 66.83,2248.99 70.45,2247.58 73.96,2253.55 77.37,2215.62 80.88,2251.8 84.39,2244.77 88.01,2227.92 91.52,2234.94 94.93,2241.26 98.44,2247.23 101.95,2241.26 105.36,2253.55 108.87,2233.18 112.49,2248.99 116,2255.31 119.4,2248.29 122.92,2254.96 126.43,2261.98 130.05,2252.5 133.56,2261.98 137.07,2264.09 140.69,2261.98 144.2,2263.04 147.71,2264.79 154.84,2265.49 172.62,2265.49" stroke="#de6a80"/>
<polyline points="0,2265.85 38.84,2265.85 60.13,2265.14 84.6,2264.44 91.52,2264.79 94.93,2259.52 98.44,2256.01 101.95,2258.47 105.36,2258.12 108.87,2259.52 112.49,2227.92 116,2217.38 119.4,2234.94 122.92,2245.48 126.43,2225.46 130.05,2241.26 133.56,2247.23 137.07,2240.21 140.69,2238.45 144.2,2205.79 147.71,2248.99 151.12,2259.52 154.84,2241.26 158.25,2233.18 161.76,2253.55 165.27,2258.47 168.89,2263.74 172.62,2261.98" stroke="#4a74c8"/>
</g></g>
<polygon points="1954.77,2192.8 1967.97,2192.8 1961.37,2206.2" fill="#c00000" />
<text x="1478.3" y="2132.5" font-size="27.2" text-anchor="end" stroke="#000" stroke-width="0.6" >80</text>
<text x="1478.3" y="2183.5" font-size="27.2" text-anchor="end" stroke="#000" stroke-width="0.6" >0</text>
<text x="1478.8" y="2205.4" font-size="27.2" text-anchor="end" stroke="#000" stroke-width="0.6" >0.4</text>
<text x="1478.3" y="2257.3" font-size="27.2" text-anchor="end" stroke="#000" stroke-width="0.6" >0</text>
<rect x="236.24" y="2324.48" width="568.23" height="66.73" fill="#fff" stroke="#808080" stroke-width="1.2" />
<path d="M304.43 2386.54H315.79V2390.61H304.43ZM338.52 2386.54H349.88V2390.61H338.52ZM372.61 2386.54H383.98V2390.61H372.61ZM474.89 2386.54H486.26V2390.61H474.89ZM520.35 2386.54H531.72V2390.61H520.35ZM543.08 2386.54H554.44V2390.61H543.08ZM599.9 2386.54H611.27V2390.61H599.9ZM634 2386.54H645.36V2390.61H634ZM668.09 2386.54H679.45V2390.61H668.09ZM759.01 2386.54H770.37V2390.61H759.01Z" fill="#fb9d50"/>
<line x1="236.24" y1="2385.94" x2="804.46" y2="2385.94" stroke="#555" stroke-width="1.1" />
<rect x="520.35" y="2362.4" width="11.36" height="28.21" fill="#fb9d50" />
<path d="M520.35 2385.94v-23.54h11.36v23.54" stroke="#222" stroke-width="1" fill="none"/>
<rect x="531.72" y="2379.98" width="11.36" height="5.96" fill="#fff" />
<path d="M531.72 2385.94V2379.98H543.08V2385.94" stroke="#222" stroke-width="1" fill="none"/>
<path d="M343.7 2391.21v4M343.7 2478.3v4M457.85 2391.21v4M457.85 2478.3v4M572 2391.21v4M572 2478.3v4M686.15 2391.21v4M686.15 2478.3v4M800.3 2391.21v4M800.3 2478.3v4" stroke="#666" stroke-width="1" fill="none"/>
<rect x="725.86" y="2335.68" width="15.8" height="15.8" fill="#fb9d50" stroke="#111" stroke-width="1.6" />
<text x="750.96" y="2355.68" font-size="26.6" stroke="#000" stroke-width="0.59" >T<tspan fill="#d4862a" stroke="#d4862a" text-decoration="underline">C</tspan></text>
<rect x="236.24" y="2401.39" width="568.23" height="76.91" fill="#fff" stroke="#808080" stroke-width="1.2" />
<line x1="232.24" y1="2438.32" x2="236.24" y2="2438.32" stroke="#808080" stroke-width="1" />
<clipPath id="c40"><rect x="236.24" y="2401.39" width="569.23" height="78.91"/></clipPath>
<g clip-path="url(#c40)"><g fill="none" stroke-linejoin="miter" stroke-miterlimit="4" stroke-width="1.3" transform="translate(236.24 0) scale(3.3 1)">
<polyline points="0,2477.25 84.71,2477.25 88.12,2474.79 91.63,2466.01 95.03,2474.09 98.55,2470.58 101.95,2467.07 105.36,2466.71 109.08,2465.31 112.59,2473.74 116,2471.28 119.72,2466.01 123.24,2471.98 126.64,2468.47 130.15,2413.33 133.88,2475.85 137.07,2475.85 140.8,2476.55 144.2,2475.49 151.44,2476.2 154.84,2474.79 158.35,2476.55 172.19,2475.85" stroke="#4a74c8"/>
<polyline points="0,2477.25 17.88,2476.9 21.07,2475.85 24.26,2476.9 28.52,2476.55 31.71,2475.49 38.95,2476.55 42.36,2450.91 46.08,2476.55 56.19,2476.55 59.92,2475.49 70.56,2476.55 74.07,2471.98 77.47,2474.09 81.2,2474.79 84.71,2473.04 88.12,2458.99 91.63,2469.52 95.03,2460.04 98.76,2465.31 101.95,2475.85 105.36,2476.55 109.08,2469.52 112.59,2476.55 116,2475.85 119.51,2476.55 123.24,2469.52 126.64,2476.55 172.19,2476.9" stroke="#de6a80"/>
</g></g>
<polygon points="662.36,2400.34 675.56,2400.34 668.96,2413.74" fill="#c00000" />
<text x="228.5" y="2342.9" font-size="27.2" text-anchor="end" stroke="#000" stroke-width="0.6" >60</text>
<text x="228.5" y="2392.8" font-size="27.2" text-anchor="end" stroke="#000" stroke-width="0.6" >0</text>
<text x="228.5" y="2420.4" font-size="27.2" text-anchor="end" stroke="#000" stroke-width="0.6" >2</text>
<text x="228.5" y="2472.1" font-size="27.2" text-anchor="end" stroke="#000" stroke-width="0.6" >0</text>
<text x="142" y="2349.9" font-size="27.4" text-anchor="middle" stroke="#000" stroke-width="0.6" >Sub</text>
<text x="142" y="2384.8" font-size="27.4" text-anchor="middle" stroke="#000" stroke-width="0.6" >(%)</text>
<text x="142.8" y="2427.1" font-size="27.4" text-anchor="middle" stroke="#000" stroke-width="0.6" >Del(<tspan font-weight="bold" fill="#de6a80" stroke="#de6a80">b</tspan><tspan font-weight="bold" fill="#4a74c8" stroke="#4a74c8">d</tspan>)</text>
<text x="145.5" y="2461.7" font-size="27.4" text-anchor="middle" stroke="#000" stroke-width="0.6" >(%)</text>
<rect x="862.99" y="2322.73" width="568.23" height="67.08" fill="#fff" stroke="#808080" stroke-width="1.2" />
<path d="M874.36 2385.14H885.72V2389.2H874.36ZM897.09 2385.14H908.45V2389.2H897.09ZM1101.65 2385.14H1113.01V2389.2H1101.65ZM1135.74 2385.14H1147.11V2389.2H1135.74ZM1203.93 2385.14H1215.29V2389.2H1203.93ZM1294.85 2385.14H1306.21V2389.2H1294.85ZM1385.76 2385.14H1397.13V2389.2H1385.76Z" fill="#fb9d50"/>
<line x1="862.99" y1="2384.54" x2="1431.22" y2="2384.54" stroke="#555" stroke-width="1.1" />
<rect x="1135.74" y="2365.22" width="11.36" height="23.98" fill="#fb9d50" />
<path d="M1135.74 2384.54v-19.32h11.36v19.32" stroke="#222" stroke-width="1" fill="none"/>
<rect x="1101.65" y="2384.04" width="11.36" height="5.16" fill="#fb9d50" />
<path d="M1101.65 2384.54v-0.49h11.36v0.49" stroke="#222" stroke-width="1" fill="none"/>
<rect x="1203.93" y="2383.79" width="11.36" height="5.41" fill="#fb9d50" />
<path d="M1203.93 2384.54v-0.74h11.36v0.74" stroke="#222" stroke-width="1" fill="none"/>
<path d="M930.1 2389.8v4M930.1 2474.09v4M1046 2389.8v4M1046 2474.09v4M1161.9 2389.8v4M1161.9 2474.09v4M1277.8 2389.8v4M1277.8 2474.09v4M1393.7 2389.8v4M1393.7 2474.09v4" stroke="#666" stroke-width="1" fill="none"/>
<rect x="1352.62" y="2333.93" width="15.8" height="15.8" fill="#fb9d50" stroke="#111" stroke-width="1.6" />
<text x="1377.72" y="2353.93" font-size="26.6" stroke="#000" stroke-width="0.59" >T<tspan fill="#d4862a" stroke="#d4862a" text-decoration="underline">C</tspan></text>
<rect x="862.99" y="2399.29" width="568.23" height="74.8" fill="#fff" stroke="#808080" stroke-width="1.2" />
<line x1="858.99" y1="2435.34" x2="862.99" y2="2435.34" stroke="#808080" stroke-width="1" />
<clipPath id="c41"><rect x="862.99" y="2399.29" width="569.23" height="76.8"/></clipPath>
<g clip-path="url(#c41)"><g fill="none" stroke-linejoin="miter" stroke-miterlimit="4" stroke-width="1.3" transform="translate(862.99 0) scale(3.3 1)">
<polyline points="0,2473.39 51.93,2473.39 55.66,2471.63 59.38,2469.88 62.9,2467.77 66.3,2466.71 70.03,2471.28 73.54,2458.64 77.16,2463.55 80.67,2466.71 84.18,2439.67 87.8,2435.11 91.31,2463.55 94.72,2468.47 98.23,2451.26 101.74,2470.23 105.14,2469.52 108.66,2470.23 112.06,2467.07 115.79,2471.98 119.19,2473.04 172.19,2473.39" stroke="#de6a80"/>
<polyline points="0,2473.39 80.67,2473.39 84.18,2471.28 87.8,2465.31 91.31,2470.93 94.72,2468.82 98.23,2469.52 101.74,2469.52 105.14,2445.29 108.66,2464.26 112.27,2453.72 115.79,2457.93 119.19,2450.56 122.7,2449.51 126.11,2466.71 129.62,2463.55 133.35,2471.98 143.67,2471.98 147.18,2470.58 150.69,2473.04 154.31,2471.98 161.33,2472.68 164.74,2473.39 172.19,2473.04" stroke="#4a74c8"/>
</g></g>
<polygon points="1265.58,2427.38 1278.78,2427.38 1272.18,2440.78" fill="#c00000" />
<text x="858.3" y="2344.4" font-size="27.2" text-anchor="end" stroke="#000" stroke-width="0.6" >80</text>
<text x="858.3" y="2394.3" font-size="27.2" text-anchor="end" stroke="#000" stroke-width="0.6" >0</text>
<text x="858.3" y="2421.9" font-size="27.2" text-anchor="end" stroke="#000" stroke-width="0.6" >2</text>
<text x="858.3" y="2473.6" font-size="27.2" text-anchor="end" stroke="#000" stroke-width="0.6" >0</text>
<rect x="1482.29" y="2320.27" width="569.63" height="70.24" fill="#fff" stroke="#808080" stroke-width="1.2" />
<path d="M1653.18 2385.84H1664.57V2389.91H1653.18ZM1698.75 2385.84H1710.14V2389.91H1698.75ZM1835.46 2385.84H1846.86V2389.91H1835.46ZM1881.03 2385.84H1892.43V2389.91H1881.03ZM1972.17 2385.84H1983.57V2389.91H1972.17Z" fill="#fb9d50"/>
<line x1="1482.29" y1="2385.24" x2="2051.92" y2="2385.24" stroke="#555" stroke-width="1.1" />
<rect x="1812.68" y="2379.39" width="11.39" height="5.85" fill="#fff" />
<path d="M1812.68 2385.24V2379.39H1824.07V2385.24" stroke="#222" stroke-width="1" fill="none"/>
<path d="M1492.8 2390.51v4M1492.8 2475.85v4M1608.7 2390.51v4M1608.7 2475.85v4M1724.6 2390.51v4M1724.6 2475.85v4M1840.5 2390.51v4M1840.5 2475.85v4M1956.4 2390.51v4M1956.4 2475.85v4" stroke="#666" stroke-width="1" fill="none"/>
<rect x="1973.32" y="2331.47" width="15.8" height="15.8" fill="#fb9d50" stroke="#111" stroke-width="1.6" />
<text x="1998.42" y="2351.47" font-size="26.6" stroke="#000" stroke-width="0.59" >T<tspan fill="#d4862a" stroke="#d4862a" text-decoration="underline">C</tspan></text>
<rect x="1482.29" y="2399.29" width="569.63" height="76.56" fill="#fff" stroke="#808080" stroke-width="1.2" />
<line x1="1478.29" y1="2436.04" x2="1482.29" y2="2436.04" stroke="#808080" stroke-width="1" />
<clipPath id="c42"><rect x="1482.29" y="2399.29" width="570.63" height="78.56"/></clipPath>
<g clip-path="url(#c42)"><g fill="none" stroke-linejoin="miter" stroke-miterlimit="4" stroke-width="1.3" transform="translate(1482.29 0) scale(3.3 1)">
<polyline points="0,2474.79 14.37,2474.44 17.88,2473.04 21.28,2474.09 28.41,2474.09 31.93,2471.98 35.33,2469.52 38.84,2473.04 42.36,2470.93 45.97,2471.28 49.49,2473.74 53,2469.52 56.62,2471.28 60.13,2470.23 63.64,2469.88 67.26,2469.52 70.77,2468.47 74.28,2467.07 77.69,2440.38 81.2,2469.52 84.6,2470.58 88.12,2460.74 91.74,2471.28 95.25,2471.98 98.76,2471.28 102.16,2470.58 105.68,2473.04 109.29,2468.47 112.81,2471.98 116.32,2473.74 119.72,2454.77 123.24,2471.98 126.85,2474.79 130.37,2467.77 133.88,2473.74 137.5,2474.79 141.01,2472.33 144.52,2474.09 147.93,2474.79 172.62,2474.79" stroke="#de6a80"/>
<polyline points="0,2475.14 77.69,2475.14 84.6,2474.09 91.74,2473.74 95.25,2472.33 98.76,2473.04 102.16,2473.74 105.68,2472.33 109.29,2473.74 112.81,2465.31 116.32,2471.28 119.72,2470.93 123.24,2472.33 126.85,2468.47 130.37,2469.52 133.88,2471.98 137.5,2469.52 141.01,2466.71 144.52,2417.55 147.93,2466.71 151.44,2471.98 154.84,2460.04 158.35,2457.23 161.97,2466.71 165.49,2471.28 169,2474.79 172.62,2473.74" stroke="#4a74c8"/>
</g></g>
<polygon points="1954.77,2401.04 1967.97,2401.04 1961.37,2414.44" fill="#c00000" />
<text x="1478.3" y="2340.9" font-size="27.2" text-anchor="end" stroke="#000" stroke-width="0.6" >80</text>
<text x="1478.3" y="2390.8" font-size="27.2" text-anchor="end" stroke="#000" stroke-width="0.6" >0</text>
<text x="1478.3" y="2418.4" font-size="27.2" text-anchor="end" stroke="#000" stroke-width="0.6" >1</text>
<text x="1478.3" y="2470.1" font-size="27.2" text-anchor="end" stroke="#000" stroke-width="0.6" >0</text>
<rect x="236.24" y="2532.73" width="568.23" height="67.08" fill="#fff" stroke="#808080" stroke-width="1.2" />
<path d="M258.97 2594.78H270.33V2599.2H258.97ZM565.81 2594.78H577.17V2599.2H565.81ZM724.91 2594.78H736.28V2599.2H724.91Z" fill="#fbc560"/>
<path d="M270.33 2594.78H281.7V2599.2H270.33ZM577.17 2594.78H588.54V2599.2H577.17Z" fill="#d9601a"/>
<line x1="236.24" y1="2594.18" x2="804.46" y2="2594.18" stroke="#555" stroke-width="1.1" />
<rect x="520.35" y="2562.59" width="11.36" height="31.59" fill="#fff" />
<rect x="531.72" y="2581.22" width="11.36" height="12.97" fill="#fff" />
<rect x="577.17" y="2580.11" width="11.36" height="19.09" fill="#d9601a" />
<path d="M577.17 2594.18v-14.07h11.36v14.07" stroke="#222" stroke-width="1" fill="none"/>
<rect x="270.33" y="2592.34" width="11.36" height="6.86" fill="#d9601a" />
<path d="M270.33 2594.18v-1.84h11.36v1.84" stroke="#222" stroke-width="1" fill="none"/>
<path d="M520.35 2594.18V2562.59H531.72V2581.22H543.08V2594.18" stroke="#222" stroke-width="1" fill="none"/>
<path d="M343.7 2599.8v4M343.7 2683.04v4M457.85 2599.8v4M457.85 2683.04v4M572 2599.8v4M572 2683.04v4M686.15 2599.8v4M686.15 2683.04v4M800.3 2599.8v4M800.3 2683.04v4" stroke="#666" stroke-width="1" fill="none"/>
<rect x="592.46" y="2541.33" width="16.5" height="16.5" fill="#fbc560" stroke="#111" stroke-width="1.6" />
<text x="617.16" y="2560.73" font-size="26.6" stroke="#000" stroke-width="0.59" ><tspan fill="#e6c21e" stroke="#e6c21e" text-decoration="underline">G</tspan>YW</text>
<rect x="702.46" y="2539.33" width="15.8" height="15.8" fill="#d9601a" stroke="#111" stroke-width="1.6" />
<text x="726.66" y="2557.33" font-size="26.6" stroke="#000" stroke-width="0.59" >WR<tspan fill="#d4702a" stroke="#d4702a" text-decoration="underline">C</tspan></text>
<rect x="236.24" y="2608.23" width="568.23" height="74.8" fill="#fff" stroke="#808080" stroke-width="1.2" />
<line x1="232.24" y1="2643.93" x2="236.24" y2="2643.93" stroke="#808080" stroke-width="1" />
<clipPath id="c50"><rect x="236.24" y="2608.23" width="569.23" height="76.8"/></clipPath>
<g clip-path="url(#c50)"><g fill="none" stroke-linejoin="miter" stroke-miterlimit="4" stroke-width="1.3" transform="translate(236.24 0) scale(3.3 1)">
<polyline points="0,2681.63 56.19,2681.28 84.71,2680.58 88.12,2676.71 91.63,2670.74 95.03,2676.71 98.55,2671.8 101.95,2666.53 105.68,2646.86 109.08,2654.24 112.59,2671.45 116.32,2660.91 119.72,2657.75 123.24,2674.96 126.64,2667.23 130.15,2634.57 133.88,2678.82 137.07,2678.47 140.8,2679.52 144.2,2678.47 151.44,2678.47 154.84,2677.42 158.35,2679.52 165.27,2679.88 172.19,2679.52" stroke="#4a74c8"/>
<polyline points="0,2681.28 3.51,2678.82 7.24,2680.23 10.43,2679.52 14.15,2681.28 17.88,2679.52 24.8,2679.52 28.31,2681.28 31.71,2678.47 35.44,2678.47 38.95,2681.28 42.36,2668.99 46.08,2678.82 49.27,2677.77 53,2679.52 56.19,2677.07 59.92,2671.8 63.43,2674.96 66.83,2676.01 70.56,2679.52 74.07,2674.26 77.47,2676.01 81.2,2679.52 84.71,2676.71 88.12,2660.21 91.63,2674.26 95.03,2661.26 98.76,2664.42 101.95,2679.52 105.36,2680.58 109.08,2675.31 112.59,2681.63 116,2680.58 119.51,2681.28 123.24,2652.13 126.64,2681.63 172.19,2681.63" stroke="#de6a80"/>
</g></g>
<polygon points="663.41,2620.52 676.61,2620.52 670.01,2633.92" fill="#c00000" />
<text x="228.5" y="2551.5" font-size="27.2" text-anchor="end" stroke="#000" stroke-width="0.6" >60</text>
<text x="228.5" y="2602.5" font-size="27.2" text-anchor="end" stroke="#000" stroke-width="0.6" >0</text>
<text x="228.5" y="2629.4" font-size="27.2" text-anchor="end" stroke="#000" stroke-width="0.6" >5</text>
<text x="228.5" y="2680.3" font-size="27.2" text-anchor="end" stroke="#000" stroke-width="0.6" >0</text>
<text x="142" y="2558.5" font-size="27.4" text-anchor="middle" stroke="#000" stroke-width="0.6" >Sub</text>
<text x="142" y="2593.5" font-size="27.4" text-anchor="middle" stroke="#000" stroke-width="0.6" >(%)</text>
<text x="142.8" y="2636" font-size="27.4" text-anchor="middle" stroke="#000" stroke-width="0.6" >Del(<tspan font-weight="bold" fill="#de6a80" stroke="#de6a80">b</tspan><tspan font-weight="bold" fill="#4a74c8" stroke="#4a74c8">d</tspan>)</text>
<text x="145.5" y="2670.4" font-size="27.4" text-anchor="middle" stroke="#000" stroke-width="0.6" >(%)</text>
<rect x="862.99" y="2531.32" width="568.23" height="68.48" fill="#fff" stroke="#808080" stroke-width="1.2" />
<path d="M965.27 2594.78H976.64V2599.2H965.27ZM1260.75 2594.78H1272.12V2599.2H1260.75Z" fill="#fbc560"/>
<path d="M1044.83 2594.78H1056.19V2599.2H1044.83ZM1351.67 2594.78H1363.03V2599.2H1351.67ZM1397.13 2594.78H1408.49V2599.2H1397.13Z" fill="#d9601a"/>
<line x1="862.99" y1="2594.18" x2="1431.22" y2="2594.18" stroke="#555" stroke-width="1.1" />
<rect x="1101.65" y="2588.53" width="11.36" height="5.66" fill="#fff" />
<rect x="1135.74" y="2570.67" width="11.36" height="23.51" fill="#fff" />
<rect x="1260.75" y="2592.3" width="11.36" height="1.89" fill="#fff" />
<path d="M1101.65 2594.18V2588.53H1113.01V2594.18" stroke="#222" stroke-width="1" fill="none"/>
<path d="M1135.74 2594.18V2570.67H1147.11V2594.18" stroke="#222" stroke-width="1" fill="none"/>
<path d="M1260.75 2594.18V2592.3H1272.12V2594.18" stroke="#222" stroke-width="1" fill="none"/>
<path d="M930.1 2599.8v4M930.1 2681.98v4M1046 2599.8v4M1046 2681.98v4M1161.9 2599.8v4M1161.9 2681.98v4M1277.8 2599.8v4M1277.8 2681.98v4M1393.7 2599.8v4M1393.7 2681.98v4" stroke="#666" stroke-width="1" fill="none"/>
<rect x="1219.22" y="2539.92" width="16.5" height="16.5" fill="#fbc560" stroke="#111" stroke-width="1.6" />
<text x="1243.92" y="2559.32" font-size="26.6" stroke="#000" stroke-width="0.59" ><tspan fill="#e6c21e" stroke="#e6c21e" text-decoration="underline">G</tspan>YW</text>
<rect x="1329.22" y="2537.92" width="15.8" height="15.8" fill="#d9601a" stroke="#111" stroke-width="1.6" />
<text x="1353.42" y="2555.92" font-size="26.6" stroke="#000" stroke-width="0.59" >WR<tspan fill="#d4702a" stroke="#d4702a" text-decoration="underline">C</tspan></text>
<rect x="862.99" y="2607.53" width="568.23" height="74.45" fill="#fff" stroke="#808080" stroke-width="1.2" />
<line x1="858.99" y1="2643.23" x2="862.99" y2="2643.23" stroke="#808080" stroke-width="1" />
<clipPath id="c51"><rect x="862.99" y="2607.53" width="569.23" height="76.45"/></clipPath>
<g clip-path="url(#c51)"><g fill="none" stroke-linejoin="miter" stroke-miterlimit="4" stroke-width="1.3" transform="translate(862.99 0) scale(3.3 1)">
<polyline points="0,2680.93 48.21,2680.93 51.93,2678.82 55.66,2676.01 59.38,2666.53 62.9,2669.69 66.3,2666.53 70.03,2674.96 73.54,2612.8 77.16,2646.16 80.67,2655.99 84.18,2624.39 87.8,2615.26 91.31,2661.96 94.72,2674.26 98.01,2659.51 101.74,2677.77 105.14,2678.82 108.66,2677.77 112.06,2674.96 115.79,2679.52 119.19,2680.58 126.11,2680.23 129.62,2680.93 172.19,2680.93" stroke="#de6a80"/>
<polyline points="0,2680.93 80.67,2680.93 84.18,2670.04 87.58,2661.96 91.1,2675.31 94.72,2672.5 98.01,2668.99 101.74,2676.71 105.14,2648.62 108.66,2665.48 112.27,2640.19 115.79,2644.4 119.19,2660.91 122.7,2629.3 126.11,2654.24 129.62,2640.89 133.35,2674.96 136.75,2675.66 140.26,2677.42 143.67,2677.07 147.18,2674.26 150.69,2679.88 154.31,2676.01 157.82,2679.52 161.33,2678.82 164.74,2680.93 168.47,2679.52 172.19,2680.58" stroke="#4a74c8"/>
</g></g>
<polygon points="1265.58,2612.8 1278.78,2612.8 1272.18,2626.2" fill="#c00000" />
<text x="858.3" y="2553" font-size="27.2" text-anchor="end" stroke="#000" stroke-width="0.6" >80</text>
<text x="858.3" y="2604" font-size="27.2" text-anchor="end" stroke="#000" stroke-width="0.6" >0</text>
<text x="858.3" y="2630.9" font-size="27.2" text-anchor="end" stroke="#000" stroke-width="0.6" >4</text>
<text x="858.3" y="2681.8" font-size="27.2" text-anchor="end" stroke="#000" stroke-width="0.6" >0</text>
<rect x="1482.29" y="2530.97" width="569.63" height="69.54" fill="#fff" stroke="#808080" stroke-width="1.2" />
<path d="M1505.08 2595.14H1516.47V2599.91H1505.08ZM1915.21 2595.14H1926.6V2599.91H1915.21Z" fill="#d9601a"/>
<path d="M1903.82 2595.14H1915.21V2599.91H1903.82ZM2017.74 2595.14H2029.14V2599.91H2017.74Z" fill="#fbc560"/>
<line x1="1482.29" y1="2594.54" x2="2051.92" y2="2594.54" stroke="#555" stroke-width="1.1" />
<rect x="1789.89" y="2581.19" width="11.39" height="13.35" fill="#fff" />
<rect x="1801.29" y="2584.68" width="11.39" height="9.85" fill="#fff" />
<rect x="1812.68" y="2589.26" width="11.39" height="5.28" fill="#fff" />
<rect x="1858.25" y="2591.04" width="11.39" height="3.5" fill="#fff" />
<path d="M1789.89 2594.54V2581.19H1801.29V2584.68H1812.68V2589.26H1824.07V2594.54" stroke="#222" stroke-width="1" fill="none"/>
<path d="M1858.25 2594.54V2591.04H1869.64V2594.54" stroke="#222" stroke-width="1" fill="none"/>
<path d="M1492.8 2600.51v4M1492.8 2683.74v4M1608.7 2600.51v4M1608.7 2683.74v4M1724.6 2600.51v4M1724.6 2683.74v4M1840.5 2600.51v4M1840.5 2683.74v4M1956.4 2600.51v4M1956.4 2683.74v4" stroke="#666" stroke-width="1" fill="none"/>
<rect x="1839.92" y="2539.57" width="16.5" height="16.5" fill="#fbc560" stroke="#111" stroke-width="1.6" />
<text x="1864.62" y="2558.97" font-size="26.6" stroke="#000" stroke-width="0.59" ><tspan fill="#e6c21e" stroke="#e6c21e" text-decoration="underline">G</tspan>YW</text>
<rect x="1949.92" y="2537.57" width="15.8" height="15.8" fill="#d9601a" stroke="#111" stroke-width="1.6" />
<text x="1974.12" y="2555.57" font-size="26.6" stroke="#000" stroke-width="0.59" >WR<tspan fill="#d4702a" stroke="#d4702a" text-decoration="underline">C</tspan></text>
<rect x="1482.29" y="2606.48" width="569.63" height="77.26" fill="#fff" stroke="#808080" stroke-width="1.2" />
<line x1="1478.29" y1="2643.58" x2="1482.29" y2="2643.58" stroke="#808080" stroke-width="1" />
<clipPath id="c52"><rect x="1482.29" y="2606.48" width="570.63" height="79.26"/></clipPath>
<g clip-path="url(#c52)"><g fill="none" stroke-linejoin="miter" stroke-miterlimit="4" stroke-width="1.3" transform="translate(1482.29 0) scale(3.3 1)">
<polyline points="0,2678.47 3.72,2680.23 7.24,2680.23 10.85,2681.28 14.37,2679.52 17.88,2677.77 21.28,2679.52 25.01,2677.07 28.41,2677.77 31.93,2677.07 35.33,2676.71 38.84,2676.01 42.36,2671.8 45.97,2668.99 49.49,2674.26 53,2657.75 56.62,2665.48 60.13,2666.53 63.64,2662.67 67.26,2664.77 70.77,2664.42 74.28,2673.55 77.69,2654.94 81.2,2663.72 84.6,2664.77 88.12,2653.18 91.74,2652.13 95.25,2645.11 98.76,2673.55 102.16,2667.23 105.68,2674.26 109.29,2664.77 112.81,2672.5 116.32,2679.52 119.72,2680.58 123.24,2674.96 126.85,2679.52 130.37,2678.82 133.88,2681.63 137.5,2682.33 144.2,2681.63 151.44,2682.68 172.62,2682.68" stroke="#de6a80"/>
<polyline points="0,2683.04 77.69,2683.04 84.6,2682.33 91.74,2681.98 95.25,2676.01 98.76,2671.8 102.16,2676.71 105.68,2675.31 109.29,2679.52 112.81,2654.24 116.32,2640.89 119.72,2648.62 123.24,2661.26 126.85,2631.06 130.37,2653.89 133.88,2651.43 137.5,2659.51 141.01,2658.45 144.52,2650.38 147.93,2673.55 151.44,2679.52 154.84,2665.48 158.35,2660.91 161.97,2677.77 165.49,2677.07 169,2681.28 172.62,2679.52" stroke="#4a74c8"/>
</g></g>
<polygon points="1955.82,2612.8 1969.02,2612.8 1962.42,2626.2" fill="#c00000" />
<text x="1478.3" y="2549.5" font-size="27.2" text-anchor="end" stroke="#000" stroke-width="0.6" >80</text>
<text x="1478.3" y="2600.5" font-size="27.2" text-anchor="end" stroke="#000" stroke-width="0.6" >0</text>
<text x="1478.3" y="2627.4" font-size="27.2" text-anchor="end" stroke="#000" stroke-width="0.6" >4</text>
<text x="1478.3" y="2678.3" font-size="27.2" text-anchor="end" stroke="#000" stroke-width="0.6" >0</text>
<line x1="471.2" y1="1447.3" x2="471.2" y2="2702" stroke="#8a8a8a" stroke-width="1.4" stroke-dasharray="8.5 5.5"/>
<line x1="702.7" y1="1447.3" x2="702.7" y2="2702" stroke="#8a8a8a" stroke-width="1.4" stroke-dasharray="8.5 5.5"/>
<line x1="1072.5" y1="1446.7" x2="1072.5" y2="2702" stroke="#8a8a8a" stroke-width="1.4" stroke-dasharray="8.5 5.5"/>
<line x1="1303.5" y1="1446.7" x2="1303.5" y2="2702" stroke="#8a8a8a" stroke-width="1.4" stroke-dasharray="8.5 5.5"/>
<line x1="1761" y1="1449.5" x2="1761" y2="2702" stroke="#8a8a8a" stroke-width="1.4" stroke-dasharray="8.5 5.5"/>
<line x1="1994" y1="1449.5" x2="1994" y2="2702" stroke="#8a8a8a" stroke-width="1.4" stroke-dasharray="8.5 5.5"/>
<rect x="5" y="1468.6" width="37.5" height="163" fill="#c8c8c8" />
<text x="35.3" y="1550.1" font-size="31" text-anchor="middle" fill="#fff" font-weight="bold" transform="rotate(-90 35.3 1550.1)" stroke="#fff" stroke-width="0.68" >nCas9</text>
<rect x="58.6" y="1502" width="26.6" height="88.6" fill="#d0d0d0" stroke="#000" stroke-width="2" rx="4.5" />
<text x="81" y="1546.3" font-size="22.5" text-anchor="middle" transform="rotate(-90 81 1546.3)" stroke="#000" stroke-width="0.49" textLength="71" lengthAdjust="spacingAndGlyphs">nCas9</text>
<rect x="5" y="1656.3" width="37.5" height="163" fill="#8aa5e2" />
<text x="35.3" y="1737.8" font-size="31" text-anchor="middle" fill="#fff" font-weight="bold" transform="rotate(-90 35.3 1737.8)" stroke="#fff" stroke-width="0.68" >BE4max</text>
<line x1="71.9" y1="1655" x2="71.9" y2="1710" stroke="#222" stroke-width="1.6" />
<polygon points="72.15,1611.5 85.7,1619 85.7,1648.8 72.15,1656.3 58.6,1648.8 58.6,1619" fill="#3f60ba" stroke="#000" stroke-width="2" />
<text x="80.2" y="1633.9" font-size="22.5" text-anchor="middle" fill="#fff" transform="rotate(-90 80.2 1633.9)" stroke="#fff" stroke-width="0.49" textLength="33" lengthAdjust="spacingAndGlyphs">UGI</text>
<polygon points="72.15,1659.8 85.7,1667.3 85.7,1696.5 72.15,1704 58.6,1696.5 58.6,1667.3" fill="#3f60ba" stroke="#000" stroke-width="2" />
<text x="80.2" y="1681.9" font-size="22.5" text-anchor="middle" fill="#fff" transform="rotate(-90 80.2 1681.9)" stroke="#fff" stroke-width="0.49" textLength="33" lengthAdjust="spacingAndGlyphs">UGI</text>
<line x1="71.9" y1="1784" x2="71.9" y2="1790" stroke="#222" stroke-width="1.6" />
<rect x="58.6" y="1708.8" width="26.6" height="75.2" fill="#d0d0d0" stroke="#000" stroke-width="2" rx="4.5" />
<text x="81" y="1746.4" font-size="22.5" text-anchor="middle" transform="rotate(-90 81 1746.4)" stroke="#000" stroke-width="0.49" textLength="71" lengthAdjust="spacingAndGlyphs">nCas9</text>
<ellipse cx="71.9" cy="1822.15" rx="13.3" ry="33.35" fill="#fbd877" stroke="#000" stroke-width="2"/>
<text x="79.6" y="1822.15" font-size="24.5" text-anchor="middle" fill="#4a4636" font-weight="bold" transform="rotate(-90 79.6 1822.15)" stroke="#4a4636" stroke-width="0.54" textLength="42" lengthAdjust="spacingAndGlyphs">AP1</text>
<rect x="5" y="1887.5" width="37.5" height="162.8" fill="#e8818f" />
<text x="35.3" y="1968.9" font-size="31" text-anchor="middle" fill="#fff" font-weight="bold" transform="rotate(-90 35.3 1968.9)" stroke="#fff" stroke-width="0.68" >CGBE1</text>
<line x1="71.9" y1="1935" x2="71.9" y2="1944" stroke="#222" stroke-width="1.6" />
<line x1="71.9" y1="2009" x2="71.9" y2="2015" stroke="#222" stroke-width="1.6" />
<rect x="58.6" y="1859" width="26.6" height="76.9" fill="#d0d0d0" stroke="#000" stroke-width="2" rx="4.5" />
<text x="81" y="1897.45" font-size="22.5" text-anchor="middle" transform="rotate(-90 81 1897.45)" stroke="#000" stroke-width="0.49" textLength="71" lengthAdjust="spacingAndGlyphs">nCas9</text>
<ellipse cx="71.9" cy="1976.3" rx="13.3" ry="33.4" fill="#fbd877" stroke="#000" stroke-width="2"/>
<text x="79.6" y="1976.3" font-size="24.5" text-anchor="middle" fill="#4a4636" font-weight="bold" transform="rotate(-90 79.6 1976.3)" stroke="#4a4636" stroke-width="0.54" textLength="42" lengthAdjust="spacingAndGlyphs">AP1</text>
<polygon points="72.15,2013.7 85.7,2021.2 85.7,2073.1 72.15,2080.6 58.6,2073.1 58.6,2021.2" fill="#d5536a" stroke="#000" stroke-width="2" />
<text x="80.2" y="2047.15" font-size="24.5" text-anchor="middle" fill="#fff" transform="rotate(-90 80.2 2047.15)" stroke="#fff" stroke-width="0.54" textLength="47" lengthAdjust="spacingAndGlyphs">UNG</text>
<rect x="5" y="2113.6" width="37.5" height="161.7" fill="#f1adb8" />
<text x="35.3" y="2194.45" font-size="31" text-anchor="middle" fill="#fff" font-weight="bold" transform="rotate(-90 35.3 2194.45)" stroke="#fff" stroke-width="0.68" >AXC</text>
<line x1="71.9" y1="2166" x2="71.9" y2="2171" stroke="#222" stroke-width="1.6" />
<line x1="71.9" y1="2237" x2="71.9" y2="2243" stroke="#222" stroke-width="1.6" />
<rect x="58.6" y="2088.6" width="26.6" height="77.9" fill="#d0d0d0" stroke="#000" stroke-width="2" rx="4.5" />
<text x="81" y="2127.55" font-size="22.5" text-anchor="middle" transform="rotate(-90 81 2127.55)" stroke="#000" stroke-width="0.49" textLength="71" lengthAdjust="spacingAndGlyphs">nCas9</text>
<polygon points="72.15,2169.5 85.7,2177 85.7,2229.9 72.15,2237.4 58.6,2229.9 58.6,2177" fill="#f0a9b5" stroke="#000" stroke-width="2" />
<text x="80.2" y="2203.45" font-size="23" text-anchor="middle" transform="rotate(-90 80.2 2203.45)" stroke="#000" stroke-width="0.51" textLength="52" lengthAdjust="spacingAndGlyphs">Udgx</text>
<ellipse cx="71.9" cy="2278.15" rx="13.3" ry="35.75" fill="#fbd877" stroke="#000" stroke-width="2"/>
<text x="79.6" y="2278.15" font-size="24.5" text-anchor="middle" fill="#4a4636" font-weight="bold" transform="rotate(-90 79.6 2278.15)" stroke="#4a4636" stroke-width="0.54" textLength="42" lengthAdjust="spacingAndGlyphs">AP1</text>
<rect x="6.4" y="2319.9" width="37.5" height="163.1" fill="#97164f" />
<text x="36.7" y="2401.45" font-size="31" text-anchor="middle" fill="#fff" font-weight="bold" transform="rotate(-90 36.7 2401.45)" stroke="#fff" stroke-width="0.68" >eA3A</text>
<line x1="71.9" y1="2405" x2="71.9" y2="2413" stroke="#222" stroke-width="1.6" />
<rect x="58.6" y="2328.5" width="26.6" height="77.3" fill="#d0d0d0" stroke="#000" stroke-width="2" rx="4.5" />
<text x="81" y="2367.15" font-size="22.5" text-anchor="middle" transform="rotate(-90 81 2367.15)" stroke="#000" stroke-width="0.49" textLength="71" lengthAdjust="spacingAndGlyphs">nCas9</text>
<ellipse cx="71.9" cy="2445.25" rx="13.3" ry="33.45" fill="#97164f" stroke="#000" stroke-width="2"/>
<text x="79.6" y="2445.25" font-size="24.5" text-anchor="middle" fill="#fff" font-weight="bold" transform="rotate(-90 79.6 2445.25)" stroke="#fff" stroke-width="0.54" textLength="62" lengthAdjust="spacingAndGlyphs">eA3A</text>
<rect x="6.4" y="2531.6" width="37.5" height="162.7" fill="#c4655b" />
<text x="36.7" y="2612.95" font-size="31" text-anchor="middle" fill="#fff" font-weight="bold" transform="rotate(-90 36.7 2612.95)" stroke="#fff" stroke-width="0.68" >AID-CGBE</text>
<line x1="71.9" y1="2617" x2="71.9" y2="2624" stroke="#222" stroke-width="1.6" />
<rect x="58.6" y="2540.2" width="26.6" height="77.2" fill="#d0d0d0" stroke="#000" stroke-width="2" rx="4.5" />
<text x="81" y="2578.8" font-size="22.5" text-anchor="middle" transform="rotate(-90 81 2578.8)" stroke="#000" stroke-width="0.49" textLength="71" lengthAdjust="spacingAndGlyphs">nCas9</text>
<ellipse cx="71.9" cy="2656.35" rx="13.3" ry="33.95" fill="#8e1410" stroke="#000" stroke-width="2"/>
<text x="79.6" y="2656.35" font-size="25.5" text-anchor="middle" fill="#fff" font-weight="bold" transform="rotate(-90 79.6 2656.35)" stroke="#fff" stroke-width="0.56" textLength="41" lengthAdjust="spacingAndGlyphs">AID</text>
</svg>
</body></html>
